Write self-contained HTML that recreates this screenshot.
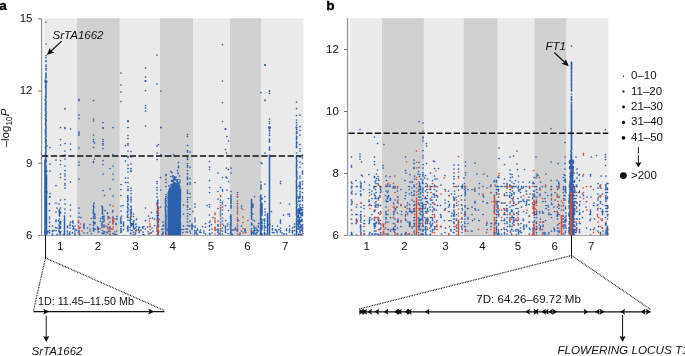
<!DOCTYPE html>
<html><head><meta charset="utf-8"><title>Figure</title>
<style>html,body{margin:0;padding:0;background:#fff}body{width:685px;height:356px;overflow:hidden}svg{will-change:transform;transform:translateZ(0)}</style>
</head><body>
<svg width="685" height="356" viewBox="0 0 685 356" style="display:block">
<rect width="685" height="356" fill="#fff"/>
<rect x="44.3" y="18.4" width="259.10" height="217.10" fill="#ebebeb"/>
<rect x="77" y="18.4" width="42.50" height="217.10" fill="#d1d1d1"/>
<rect x="160" y="18.4" width="33.00" height="217.10" fill="#d1d1d1"/>
<rect x="230" y="18.4" width="31.00" height="217.10" fill="#d1d1d1"/>
<rect x="350" y="18.25" width="258.25" height="217.25" fill="#ebebeb"/>
<rect x="382" y="18.25" width="41.75" height="217.25" fill="#d1d1d1"/>
<rect x="463.75" y="18.25" width="33.75" height="217.25" fill="#d1d1d1"/>
<rect x="534.5" y="18.25" width="31.75" height="217.25" fill="#d1d1d1"/>
<clipPath id="ca"><rect x="43" y="18" width="261" height="218"/></clipPath>
<clipPath id="cb"><rect x="349" y="18" width="260" height="218"/></clipPath>
<g clip-path="url(#ca)" fill="none" stroke-linecap="round">
<path stroke="#2b60ad" stroke-width="1.50" d="M174.1 200.9h0M172.4 196.5h0M168.1 212.1h0M175.2 203.8h0M170.1 205.1h0M177.2 215.9h0M179.8 217.6h0M169.0 198.7h0M175.3 225.9h0M173.4 230.4h0M168.9 203.1h0M171.2 192.2h0M170.1 201.6h0M173.0 198.4h0M175.6 198.7h0M177.2 234.8h0M175.6 230.5h0M172.3 196.3h0M170.4 219.6h0M179.6 201.3h0M172.1 209.4h0M176.6 205.1h0M168.7 220.1h0M172.2 213.4h0M175.5 191.1h0M179.7 216.7h0M180.4 224.1h0M172.1 194.7h0M170.0 195.0h0M178.3 209.7h0M174.8 220.3h0M175.6 205.2h0M177.3 225.7h0M177.8 204.0h0M177.7 202.9h0M174.6 233.8h0M169.7 220.8h0M177.8 207.6h0M180.5 196.6h0M168.4 197.3h0M168.8 199.6h0M179.8 208.6h0M169.9 233.0h0M170.0 191.7h0M177.8 213.8h0M176.0 204.2h0M178.1 232.1h0M169.4 224.7h0M168.8 230.5h0M168.8 217.1h0M173.2 218.5h0M170.8 201.9h0M171.3 199.9h0M177.6 220.2h0M171.8 216.6h0M170.0 230.4h0M179.0 228.6h0M171.6 204.9h0M174.1 221.7h0M175.5 211.1h0M175.3 231.1h0M172.5 226.3h0M178.9 236.3h0M171.7 190.1h0M169.4 232.6h0M169.9 224.8h0M169.2 195.8h0M172.3 232.7h0M177.0 190.1h0M171.0 226.7h0M176.7 200.4h0M173.4 195.1h0M168.3 231.1h0M169.5 213.9h0M169.7 222.4h0M169.9 224.8h0M174.3 212.9h0M179.6 207.3h0M170.7 223.8h0M171.4 198.9h0M171.3 214.2h0M173.1 216.1h0M172.6 220.0h0M174.9 215.7h0M176.7 222.9h0M173.0 205.1h0M173.3 207.6h0M173.2 197.1h0M180.6 233.2h0M171.2 218.9h0M172.7 196.1h0M178.6 226.7h0M179.4 205.4h0M176.1 215.6h0M172.0 225.0h0M178.8 214.6h0M175.5 219.2h0M177.4 208.3h0M177.0 218.4h0M176.5 204.9h0M175.9 218.4h0M171.3 232.4h0M174.0 212.3h0M170.8 196.8h0M179.7 215.0h0M178.2 202.1h0M170.2 220.3h0M178.4 231.6h0M178.9 228.8h0M178.3 196.8h0M169.9 208.0h0M178.1 214.7h0M173.7 236.4h0M176.8 211.0h0M174.0 196.9h0M176.6 206.4h0M174.6 206.1h0M172.8 190.5h0M170.5 199.5h0M177.0 203.4h0M172.1 195.1h0M176.0 229.7h0M170.5 218.7h0M172.7 191.9h0M173.6 203.2h0M173.1 219.9h0M178.2 217.3h0M179.7 200.1h0M180.2 221.8h0M172.2 193.2h0M177.5 213.2h0M179.4 225.5h0M168.3 212.6h0M178.6 209.9h0M174.0 212.6h0M174.4 228.3h0M176.4 192.6h0M176.6 215.6h0M177.7 201.2h0M169.0 228.4h0M169.3 216.6h0M168.7 222.3h0M177.0 222.3h0M173.3 217.4h0M180.6 198.5h0M172.2 213.5h0M168.1 204.0h0M171.9 202.6h0M178.8 209.9h0M168.6 205.9h0M178.9 202.8h0M170.5 192.0h0M174.8 212.5h0M175.4 206.7h0M178.1 216.2h0M168.6 204.9h0M174.7 204.5h0M171.4 227.1h0M171.7 217.8h0M173.7 233.4h0M173.6 210.3h0M176.1 192.6h0M178.9 198.8h0M179.6 216.8h0M178.1 221.3h0M171.7 200.7h0M178.6 199.7h0M169.3 194.9h0M177.9 220.7h0M171.2 232.2h0M176.6 222.5h0M168.5 229.3h0M171.7 205.5h0M175.1 196.3h0M179.5 198.1h0M178.1 235.6h0M172.9 219.6h0M170.8 216.0h0M169.2 210.4h0M176.6 195.7h0M178.4 236.3h0M179.8 214.8h0M171.7 213.1h0M179.7 195.1h0M174.1 214.9h0M169.1 197.8h0M171.4 200.2h0M179.7 192.5h0M175.5 233.9h0M176.3 192.8h0M172.2 224.5h0M170.3 227.0h0M171.8 194.2h0M174.9 226.6h0M175.5 214.0h0M169.2 221.0h0M169.7 208.3h0M176.4 197.8h0M170.1 229.3h0M179.0 213.2h0M169.9 195.6h0M174.3 214.5h0M169.5 215.7h0M174.4 207.3h0M170.5 196.9h0M171.0 230.7h0M174.3 233.9h0M174.2 226.9h0M175.2 224.9h0M169.9 203.3h0M168.4 205.1h0M179.2 195.1h0M175.3 226.5h0M177.0 192.3h0M171.1 190.7h0M175.8 221.7h0M178.3 211.7h0M179.6 191.1h0M179.8 195.5h0M171.1 224.3h0M176.6 196.7h0M170.5 200.9h0M172.2 226.2h0M174.0 213.1h0M177.8 219.5h0M170.5 219.3h0M178.7 223.8h0M172.4 197.9h0M180.2 197.9h0M178.4 233.6h0M179.4 227.7h0M175.4 209.3h0M178.4 204.7h0M180.1 214.9h0M179.9 226.7h0M171.2 228.9h0M170.9 201.9h0M174.2 232.2h0M176.6 226.6h0M178.0 221.8h0M179.9 195.9h0M176.2 228.8h0M172.3 226.7h0M168.1 213.9h0M168.2 210.4h0M175.6 210.8h0M172.2 229.4h0M175.8 203.3h0M169.1 211.9h0M176.3 227.3h0M169.5 228.7h0M170.3 203.8h0M180.1 231.6h0M175.7 231.6h0M173.0 212.4h0M180.5 201.2h0M178.5 190.9h0M170.2 234.0h0M173.7 206.5h0M169.3 216.5h0M178.9 233.2h0M179.3 221.7h0M169.0 234.6h0M172.6 220.7h0M176.0 221.3h0M179.4 213.8h0M172.6 228.9h0M176.6 216.3h0M173.6 224.0h0M177.4 190.3h0M172.1 231.4h0M169.8 217.3h0M175.3 224.6h0M176.1 203.3h0M177.6 210.1h0M180.3 220.7h0M178.1 234.8h0M176.9 222.1h0M171.5 228.5h0M178.0 206.2h0M169.8 197.4h0M177.3 198.6h0M171.9 207.9h0M180.2 234.8h0M170.4 199.9h0M172.0 209.5h0M169.4 209.4h0M180.1 203.5h0M170.6 229.0h0M176.0 226.2h0M172.0 211.8h0M175.0 220.8h0M177.5 232.7h0M174.7 203.0h0M175.9 192.4h0M178.4 216.2h0M172.5 201.3h0M168.9 216.6h0M177.5 227.7h0M169.4 205.2h0M176.1 221.9h0M177.8 208.9h0M179.8 209.8h0M178.2 206.5h0M170.3 214.7h0M176.4 231.9h0M169.7 210.4h0M174.3 229.6h0M176.4 216.5h0M171.5 229.4h0M177.9 221.6h0M177.5 213.6h0M179.3 228.3h0M176.2 230.8h0M169.7 219.2h0M171.5 192.7h0M175.6 200.0h0M170.8 195.1h0M176.5 205.9h0M176.8 193.9h0M178.6 219.9h0M169.7 204.4h0M168.7 227.8h0M168.5 228.9h0M169.4 207.3h0M172.2 216.1h0M170.7 229.3h0M178.2 215.3h0M168.4 215.0h0M173.3 193.3h0M175.9 208.8h0M174.5 216.9h0M170.9 227.2h0M180.1 205.2h0M180.4 197.7h0M173.7 221.7h0M176.9 198.7h0M173.1 203.4h0M170.4 211.4h0M170.5 222.8h0M170.5 223.1h0M180.3 225.1h0M179.9 223.7h0M168.8 201.2h0M168.2 220.1h0M171.3 206.5h0M170.1 203.9h0M168.6 198.4h0M172.5 210.7h0M169.3 196.1h0M169.9 236.1h0M179.5 227.2h0M174.0 195.3h0M175.1 213.6h0M170.6 232.4h0M176.9 234.0h0M180.4 208.5h0M178.2 229.3h0M169.7 217.8h0M172.8 191.1h0M178.5 193.3h0M179.2 215.2h0M168.9 231.4h0M174.1 219.4h0M170.6 208.8h0M169.3 217.5h0M169.6 218.0h0M176.0 222.7h0M173.5 191.4h0M173.9 208.5h0M176.5 220.4h0M176.7 211.9h0M169.8 193.8h0M171.0 235.9h0M170.9 228.3h0M176.0 224.3h0M168.5 227.4h0M168.5 193.5h0M171.0 221.5h0M179.7 220.5h0M179.6 193.1h0M177.5 195.3h0M180.3 228.0h0M170.1 214.5h0M169.3 232.8h0M168.0 229.7h0M175.0 218.8h0M175.5 227.0h0M169.0 204.5h0M173.0 190.6h0M177.4 227.5h0M173.8 195.9h0M176.2 195.5h0M180.3 216.1h0M172.4 229.4h0M178.7 195.4h0M172.6 197.0h0M175.6 235.5h0M177.7 196.0h0M176.7 218.2h0M174.6 218.1h0M176.2 232.6h0M177.2 229.0h0M177.0 189.9h0M176.6 230.8h0M170.3 233.9h0M173.6 204.2h0M172.4 205.1h0M169.2 220.2h0M179.7 225.8h0M178.5 202.6h0M171.1 210.0h0M168.3 233.1h0M172.1 225.5h0M177.8 214.6h0M169.3 228.6h0M172.0 215.1h0M180.2 199.1h0M174.7 233.6h0M173.1 232.4h0M176.7 200.2h0M171.6 232.3h0M168.2 236.1h0M170.2 210.4h0M176.7 225.1h0M171.1 201.7h0M168.3 204.3h0M180.2 220.6h0M175.4 222.2h0M171.8 192.8h0M168.8 198.1h0M169.4 214.2h0M180.2 226.3h0M170.2 195.6h0M171.8 210.5h0M177.2 194.5h0M179.7 192.6h0M178.4 200.3h0M178.8 203.8h0M168.1 200.2h0M179.4 217.8h0M176.3 197.8h0M169.8 207.5h0M176.2 216.0h0M170.8 229.9h0M169.6 234.9h0M172.6 226.8h0M171.2 207.5h0M174.6 227.0h0M171.6 208.1h0M177.6 201.1h0M172.8 207.0h0M176.1 190.7h0M176.4 228.9h0M171.0 195.6h0M173.8 223.2h0M169.2 199.4h0M170.9 210.8h0M169.5 212.6h0M179.8 216.7h0M168.9 217.3h0M179.0 234.8h0M178.8 214.2h0M171.0 197.7h0M178.9 203.7h0M179.6 212.5h0M177.2 204.7h0M170.6 221.2h0M172.6 211.5h0M170.3 190.1h0M176.2 212.1h0M177.3 215.5h0M170.9 220.3h0M169.8 227.8h0M179.9 208.7h0M179.4 198.3h0M170.9 193.4h0M170.7 191.9h0M173.5 224.9h0M175.3 233.7h0M173.1 234.1h0M170.9 212.9h0M174.4 236.1h0M175.8 200.2h0M178.5 211.4h0M170.9 234.6h0M172.1 221.1h0M168.3 209.1h0M170.0 219.1h0M171.2 211.9h0M175.1 201.5h0M169.5 234.7h0M169.9 217.6h0M179.2 193.6h0M171.0 211.5h0M173.2 231.2h0M176.3 201.7h0M179.9 209.1h0M168.7 193.3h0M171.6 204.1h0M180.2 215.5h0M178.7 227.7h0M176.2 201.4h0M176.3 217.5h0M178.1 198.2h0M169.0 231.8h0M175.2 201.7h0M171.0 206.9h0M174.6 224.5h0M175.9 212.0h0M176.5 212.5h0M176.5 223.2h0M176.2 226.4h0M170.9 209.4h0M180.1 234.8h0M179.3 201.6h0M177.3 225.7h0M169.6 201.1h0M170.7 197.8h0M173.1 209.8h0M169.0 217.0h0M172.5 222.6h0M173.5 190.8h0M176.5 197.1h0M172.7 228.7h0M176.1 219.6h0M176.9 225.7h0M171.8 202.6h0M178.4 230.7h0M175.4 198.6h0M168.2 203.7h0M168.9 192.7h0M170.2 202.2h0M171.3 223.4h0M180.4 233.6h0M180.2 199.2h0M172.2 209.4h0M174.0 202.3h0M168.7 196.4h0M175.9 222.5h0M171.3 206.5h0M174.2 197.7h0M179.7 198.9h0M176.7 208.4h0M177.0 227.4h0M169.2 217.5h0M170.4 227.1h0M170.9 193.9h0M176.4 199.1h0M175.3 195.3h0M176.0 210.0h0M174.7 223.6h0M168.4 205.7h0M176.1 222.1h0M175.7 204.4h0M176.3 202.3h0M170.0 228.8h0M177.0 234.5h0M178.0 223.8h0M168.7 219.1h0M169.1 198.2h0M179.7 231.0h0M173.8 213.7h0M174.6 206.8h0M177.0 194.0h0M168.9 209.5h0M174.1 200.7h0M172.0 211.8h0M177.0 211.2h0M179.7 233.5h0M175.8 219.5h0M171.5 192.2h0M180.4 212.9h0M175.8 204.1h0M168.9 212.0h0M169.1 208.7h0M169.2 205.0h0M177.7 197.3h0M169.3 215.6h0M178.5 199.0h0M170.2 207.0h0M169.6 202.2h0M180.2 225.0h0M179.2 232.2h0M174.0 202.7h0M173.9 223.3h0M177.2 234.6h0M169.3 228.2h0M172.3 212.3h0M180.5 198.7h0M178.8 225.0h0M172.3 198.9h0M173.3 216.6h0M168.1 225.8h0M175.6 204.0h0M178.7 228.1h0M171.4 206.8h0M172.8 195.0h0M170.9 219.8h0M179.2 225.5h0M171.1 236.1h0M177.2 225.1h0M178.2 208.6h0M178.6 196.2h0M174.8 205.6h0M178.6 229.4h0M179.1 224.7h0M176.5 219.9h0M168.6 212.3h0M172.3 226.4h0M177.9 206.4h0M171.1 195.4h0M172.1 199.7h0M168.9 195.5h0M177.3 209.1h0M178.1 234.4h0M171.9 211.5h0M179.3 224.2h0M171.9 194.9h0M175.4 228.5h0M174.5 230.9h0M176.4 200.2h0M172.6 222.0h0M169.6 232.5h0M168.4 224.0h0M173.4 194.2h0M174.6 206.3h0M170.8 224.6h0M178.1 236.2h0M173.5 206.6h0M176.9 204.2h0M172.1 224.2h0M170.4 221.3h0M169.8 234.6h0M180.6 199.4h0M179.5 216.3h0M177.6 233.0h0M170.6 192.0h0M174.3 234.3h0M174.4 233.3h0M175.1 227.3h0M173.3 217.7h0M171.3 214.4h0M173.9 193.7h0M168.1 225.4h0M171.0 201.8h0M174.5 232.0h0M170.5 217.4h0M177.1 223.3h0M171.4 228.9h0M179.7 210.4h0M169.1 194.9h0M178.0 212.0h0M176.0 236.4h0M172.2 199.9h0M170.0 209.8h0M175.8 200.5h0M169.1 200.7h0M172.0 212.5h0M173.5 235.3h0M174.1 198.6h0M175.5 196.8h0M170.1 235.0h0M173.1 206.4h0M173.4 207.9h0M169.9 230.3h0M175.2 223.4h0M172.5 219.6h0M179.6 204.8h0M175.0 220.7h0M177.3 207.3h0M178.7 227.1h0M175.4 233.9h0M174.9 208.4h0M170.3 227.2h0M168.3 206.1h0M174.0 231.6h0M172.4 215.1h0M179.7 206.5h0M172.9 218.2h0M177.9 208.8h0M172.6 232.4h0M174.8 228.3h0M170.0 222.4h0M168.3 228.1h0M169.9 202.0h0M168.7 224.3h0M179.5 234.1h0M174.9 233.0h0M173.5 199.3h0M177.4 194.7h0M179.0 225.3h0M175.5 192.8h0M169.6 193.3h0M176.9 198.0h0M170.3 218.9h0M176.5 235.5h0M173.5 208.4h0M171.2 236.3h0M176.9 196.2h0M170.3 224.6h0M168.7 215.6h0M176.6 226.7h0M175.3 211.1h0M179.1 209.1h0M179.9 230.2h0M179.5 199.6h0M172.8 222.3h0M168.1 215.3h0M168.1 227.4h0M173.2 223.8h0M173.2 234.6h0M180.0 205.5h0M172.7 202.6h0M179.4 228.5h0M180.5 222.3h0M172.0 218.8h0M170.0 230.1h0M174.2 193.9h0M179.7 225.1h0M169.9 232.4h0M175.4 209.3h0M179.8 195.4h0M171.5 195.5h0M179.0 202.1h0M177.2 220.3h0M169.2 200.5h0M176.2 203.4h0M172.7 236.4h0M173.4 216.3h0M178.2 230.4h0M173.1 234.1h0M174.0 195.9h0M176.6 192.0h0M180.5 197.0h0M176.0 207.6h0M171.1 212.9h0M169.1 230.0h0M179.3 212.3h0M177.1 224.1h0M172.3 196.5h0M178.3 196.7h0M170.3 198.3h0M179.7 213.3h0M177.9 201.4h0M179.4 218.4h0M180.2 216.0h0M178.8 210.7h0M169.2 222.0h0M177.4 200.8h0M173.8 232.9h0M170.0 221.6h0M175.0 196.3h0M173.9 213.0h0M171.4 225.5h0M175.4 197.1h0M179.2 235.6h0M169.8 217.1h0M180.2 205.7h0M168.4 201.3h0M169.6 217.1h0M179.9 222.2h0M172.6 214.9h0M178.9 221.6h0M172.5 235.1h0M171.1 235.3h0M168.8 200.7h0M174.4 195.9h0M178.5 233.2h0M180.5 222.0h0M177.0 210.2h0M180.2 206.5h0M175.2 231.9h0M175.4 228.4h0M168.2 229.2h0M169.3 233.5h0M171.4 205.2h0M180.2 209.9h0M176.8 235.6h0M169.4 225.1h0M171.4 221.0h0M180.0 236.2h0M180.5 199.0h0M177.1 215.6h0M172.5 196.7h0M170.0 198.3h0M175.4 213.5h0M175.2 216.0h0M173.2 193.1h0M173.3 201.5h0M177.5 202.1h0M169.2 212.4h0M172.9 200.1h0M176.4 228.7h0M173.7 217.2h0M170.3 195.0h0M169.0 221.1h0M173.3 204.5h0M174.5 196.9h0M171.8 205.6h0M179.5 199.3h0M168.6 197.3h0M178.7 219.6h0M168.7 214.8h0M172.2 223.2h0M174.4 197.2h0M176.4 193.5h0M179.4 191.7h0M170.8 195.0h0M176.7 236.2h0M172.2 201.0h0M173.0 221.7h0M173.4 215.4h0M180.5 233.0h0M169.3 200.0h0M176.4 213.4h0M178.2 228.0h0M174.0 194.7h0M174.1 222.2h0M175.3 235.4h0M168.6 197.6h0M172.1 191.5h0M175.3 222.4h0M172.6 223.0h0M171.5 190.2h0M169.2 224.5h0M178.9 230.7h0M177.0 195.8h0M172.8 192.7h0M172.5 230.8h0M180.6 227.0h0M178.9 217.2h0M180.2 216.7h0M170.5 213.9h0M174.1 213.7h0M175.4 200.0h0M171.5 209.4h0M176.4 199.2h0M174.7 222.8h0M177.8 213.7h0M171.1 207.6h0M171.7 209.0h0M176.9 224.1h0M170.7 211.3h0M172.5 225.2h0M177.2 199.7h0M170.9 221.8h0M176.0 221.9h0M171.4 191.8h0M180.1 215.5h0M176.4 199.6h0M172.2 195.5h0M178.0 208.0h0M171.4 212.6h0M177.0 230.2h0M173.5 209.1h0M172.0 197.6h0M171.5 233.0h0M178.7 231.5h0M173.4 197.8h0M177.7 232.1h0M173.5 208.6h0M175.5 208.5h0M172.8 191.0h0M172.7 221.8h0M175.9 198.4h0M168.3 205.5h0M170.5 229.8h0M179.5 217.6h0M172.1 191.2h0M172.1 213.7h0M169.5 200.8h0M171.9 232.0h0M169.5 235.9h0M171.0 217.7h0M172.8 191.8h0M178.0 226.3h0M174.0 235.9h0M168.7 220.0h0M177.8 229.3h0M174.9 193.9h0M171.3 225.0h0M173.5 211.5h0M170.7 191.8h0M169.2 211.1h0M174.4 203.4h0M176.8 195.8h0M174.4 213.0h0M172.7 230.8h0M172.5 205.8h0M175.7 193.7h0M180.0 208.6h0M169.4 206.4h0M172.1 229.3h0M172.3 205.7h0M173.1 196.9h0M176.3 208.9h0M170.9 226.8h0M173.8 224.1h0M168.4 202.0h0M180.1 214.1h0M174.0 198.3h0M170.2 202.7h0M176.1 195.7h0M175.7 204.6h0M174.9 195.6h0M174.1 204.4h0M176.6 215.6h0M175.8 200.6h0M173.6 228.4h0M175.1 211.1h0M180.2 228.5h0M176.2 191.0h0M179.8 235.2h0M177.2 198.9h0M178.4 213.9h0M168.2 229.0h0M176.7 214.8h0M178.9 206.5h0M168.3 206.2h0M168.8 196.8h0M170.0 204.6h0M171.5 230.3h0M180.5 211.4h0M178.0 227.9h0M177.2 199.3h0M169.2 219.0h0M178.9 197.7h0M176.8 210.6h0M170.5 234.5h0M171.5 202.4h0M176.8 207.6h0M170.8 207.8h0M174.4 212.1h0M168.3 231.1h0M172.5 198.9h0M172.4 209.3h0M174.6 196.1h0M179.6 226.8h0M170.5 224.0h0M172.5 203.3h0M176.0 212.5h0M172.7 210.4h0M168.0 227.8h0M171.2 218.2h0M175.9 195.2h0M177.8 226.7h0M176.5 227.6h0M173.5 198.2h0M169.3 209.1h0M174.4 230.3h0M172.9 197.0h0M170.3 212.7h0M174.8 210.5h0M174.3 233.3h0M170.5 193.3h0M177.7 200.1h0M177.8 204.7h0M177.2 220.4h0M172.7 211.9h0M168.8 198.6h0M174.9 223.8h0M169.3 193.6h0M171.1 193.4h0M171.2 201.8h0M171.8 211.7h0M172.7 195.6h0M170.8 190.2h0M172.1 226.2h0M180.5 201.2h0M168.5 233.5h0M172.9 204.2h0M168.9 211.3h0M173.5 225.8h0M178.5 209.5h0M179.2 210.2h0M176.3 216.5h0M171.1 216.4h0M178.9 231.1h0M180.3 192.9h0M175.9 211.4h0M169.7 204.4h0M177.0 220.2h0M176.3 220.6h0M168.3 218.7h0M172.2 196.5h0M176.4 204.4h0M174.9 227.3h0M169.5 233.7h0M168.3 224.4h0M172.6 213.5h0M173.2 195.3h0M174.6 207.5h0M173.5 198.8h0M180.2 229.1h0M173.0 224.9h0M171.5 211.4h0M179.0 200.9h0M173.6 197.5h0M174.5 209.5h0M179.8 216.9h0M173.2 191.7h0M173.6 217.1h0M177.0 193.3h0M179.6 223.8h0M168.2 209.1h0M169.6 198.9h0M170.8 195.3h0M169.1 198.3h0M178.3 209.5h0M171.2 193.4h0M177.4 193.5h0M179.9 230.3h0M169.3 194.6h0M176.7 202.4h0M174.3 198.3h0M173.5 204.1h0M171.5 219.8h0M169.1 202.4h0M169.4 214.2h0M174.3 209.3h0M179.2 203.5h0M180.4 233.9h0M171.2 227.7h0M175.7 219.9h0M178.2 214.9h0M169.0 203.8h0M175.8 199.1h0M173.8 220.9h0M169.3 213.2h0M176.2 199.4h0M180.1 209.6h0M173.4 224.3h0M176.2 208.4h0M175.2 234.1h0M180.2 226.7h0M180.5 201.8h0M177.4 223.4h0M179.8 203.4h0M177.9 211.7h0M171.9 229.1h0M178.6 221.2h0M170.1 200.8h0M172.2 194.5h0M170.0 229.7h0M172.1 229.5h0M171.8 191.6h0M173.5 207.3h0M168.2 192.7h0M180.1 202.0h0M171.2 223.3h0M175.3 213.7h0M171.1 207.8h0M180.5 231.2h0M169.6 223.7h0M178.2 222.7h0M174.9 215.2h0M171.3 209.0h0M170.4 226.6h0M175.9 217.5h0M179.6 206.4h0M179.7 207.9h0M169.3 233.4h0M176.1 220.5h0M179.8 212.7h0M177.6 204.7h0M169.4 202.2h0M176.6 231.4h0M169.6 206.5h0M180.0 236.4h0M173.6 198.2h0M180.2 199.1h0M169.0 213.7h0M173.2 234.4h0M173.2 217.0h0M171.0 204.1h0M174.2 213.1h0M172.1 218.2h0M180.6 193.3h0M169.2 194.1h0M173.3 234.9h0M178.5 217.3h0M175.3 201.7h0M175.8 193.5h0M174.8 208.5h0M169.3 224.4h0M178.1 218.3h0M179.0 235.9h0M177.6 220.5h0M171.5 232.8h0M178.4 217.2h0M172.8 203.9h0M177.6 215.4h0M179.7 217.1h0M179.5 190.3h0M173.8 215.3h0M177.2 211.9h0M176.0 215.0h0M176.9 205.4h0M179.0 194.6h0M178.0 227.2h0M171.0 208.5h0M170.9 218.6h0M172.1 217.1h0M180.0 203.1h0M174.5 206.5h0M172.4 216.3h0M177.8 233.5h0M168.2 233.7h0M170.1 229.2h0M173.0 191.2h0M172.2 197.4h0M169.7 217.7h0M169.5 227.4h0M174.4 228.0h0M170.7 233.7h0M178.2 230.5h0M178.4 196.0h0M177.7 228.9h0M180.4 206.1h0M178.5 222.0h0M176.6 229.5h0M175.1 215.4h0M169.7 230.2h0M179.2 222.0h0M169.5 226.3h0M177.7 203.9h0M177.7 212.1h0M178.3 207.1h0M179.1 198.8h0M168.9 222.0h0M169.1 203.2h0M176.4 210.8h0M168.4 207.4h0M171.0 226.7h0M174.7 222.1h0M169.6 204.3h0M177.3 200.3h0M172.1 219.9h0M174.1 206.5h0M179.6 216.9h0M178.9 203.0h0M171.3 225.8h0M170.0 210.8h0M180.5 229.3h0M179.2 208.7h0M169.6 233.0h0M176.3 203.8h0M174.5 211.9h0M179.5 232.2h0M179.7 195.9h0M179.6 220.5h0M179.0 190.0h0M178.7 228.1h0M172.7 225.1h0M173.9 209.0h0M170.5 195.3h0M180.3 201.1h0M172.7 231.3h0M179.9 220.1h0M172.6 214.4h0M175.3 210.9h0M180.4 210.6h0M170.2 233.8h0M175.4 201.1h0M172.0 213.3h0M173.6 198.9h0M168.7 199.8h0M172.4 201.3h0M177.8 209.9h0M174.8 193.2h0M176.4 222.3h0M172.8 203.2h0M168.8 216.5h0M176.2 213.0h0M168.4 225.0h0M175.9 201.1h0M170.3 199.0h0M178.3 206.0h0M178.2 218.1h0M176.2 198.5h0M180.3 221.9h0M174.7 205.6h0M170.9 229.4h0M168.2 226.6h0M177.1 204.1h0M170.9 224.0h0M172.4 225.4h0M175.2 207.1h0M180.4 190.2h0M179.1 208.4h0M177.7 205.3h0M170.6 225.5h0M174.2 190.8h0M177.7 191.0h0M171.3 221.0h0M177.6 224.2h0M176.4 199.4h0M174.7 198.3h0M171.9 205.9h0M169.2 217.5h0M170.2 224.1h0M169.5 196.7h0M171.2 214.3h0M171.4 202.6h0M177.4 222.1h0M175.1 234.5h0M168.2 205.7h0M172.0 231.8h0M168.3 229.2h0M171.9 201.6h0M170.7 196.7h0M172.6 201.8h0M175.3 210.8h0M171.8 223.4h0M172.3 232.7h0M178.0 205.4h0M169.7 231.4h0M175.7 231.1h0M168.4 223.1h0M171.0 205.9h0M174.3 220.9h0M170.4 235.7h0M170.4 223.4h0M168.5 199.5h0M174.7 198.0h0M178.0 230.0h0M169.6 201.2h0M177.6 204.7h0M173.0 234.5h0M172.3 198.1h0M174.9 233.8h0M169.5 225.2h0M175.6 193.7h0M180.1 223.9h0M172.0 221.8h0M173.2 233.4h0M172.8 227.4h0M173.9 215.4h0M168.3 213.9h0M169.0 210.7h0M180.3 234.1h0M180.1 224.1h0M175.6 190.4h0M179.6 228.1h0M171.5 192.0h0M179.6 198.4h0M180.5 225.1h0M170.6 221.0h0M175.3 194.8h0M173.2 209.8h0M168.7 236.4h0M169.3 224.1h0M168.5 223.1h0M174.2 213.7h0M178.1 197.4h0M179.0 202.0h0M173.8 220.1h0M175.2 213.6h0M180.5 201.6h0M168.2 198.3h0M173.3 191.4h0M179.6 222.4h0M177.2 225.5h0M171.8 216.3h0M175.5 226.0h0M170.1 227.6h0M180.3 196.4h0M170.6 224.7h0M176.2 226.1h0M174.5 219.4h0M176.3 217.3h0M174.2 196.4h0M173.4 209.1h0M173.4 207.9h0M173.4 207.4h0M180.2 224.3h0M173.0 211.2h0M175.5 190.7h0M179.0 233.7h0M171.6 192.9h0M179.2 229.2h0M171.0 227.3h0M173.9 207.2h0M170.9 230.0h0M169.4 217.7h0M180.4 199.0h0M168.8 224.5h0M168.9 213.2h0M179.2 233.4h0M175.8 209.2h0M171.1 233.2h0M177.2 206.2h0M175.2 205.1h0M173.5 223.6h0M172.2 233.9h0M180.0 196.8h0M173.2 218.7h0M176.0 196.2h0M175.1 198.2h0M171.9 213.6h0M171.2 217.1h0M171.5 203.0h0M173.5 232.2h0M170.1 201.4h0M172.2 208.6h0M177.6 208.5h0M177.8 232.0h0M173.4 235.5h0M174.6 221.7h0M172.8 231.2h0M172.5 222.6h0M173.8 198.0h0M172.2 222.0h0M174.8 209.4h0M168.9 204.2h0M170.7 205.9h0M171.1 203.6h0M171.5 226.7h0M176.8 231.1h0M176.2 198.0h0M171.3 215.1h0M178.4 201.7h0M180.4 225.6h0M172.3 200.2h0M178.7 196.2h0M176.2 203.2h0M169.3 199.8h0M178.2 221.6h0M171.6 203.4h0M169.1 219.4h0M172.4 199.4h0M173.5 197.5h0M175.9 220.6h0M174.4 194.7h0M170.2 201.1h0M174.5 223.5h0M179.3 212.8h0M168.5 206.8h0M169.8 218.8h0M177.9 229.7h0M176.7 195.2h0M176.6 197.7h0M176.3 204.5h0M169.7 197.4h0M172.9 215.5h0M175.0 192.9h0M172.2 233.4h0M178.9 215.0h0M177.9 216.8h0M169.5 231.0h0M172.1 209.2h0M174.8 226.8h0M178.0 231.0h0M172.0 222.2h0M172.7 205.4h0M169.9 228.0h0M172.3 204.8h0M174.5 206.7h0M176.7 207.8h0M178.9 208.0h0M171.4 231.1h0M178.1 200.1h0M180.1 194.0h0M178.2 215.1h0M173.2 216.1h0M169.1 198.4h0M176.5 220.0h0M178.2 192.9h0M168.1 201.6h0M177.8 225.9h0M170.0 215.0h0M179.3 213.4h0M171.5 234.7h0M177.9 224.3h0M174.1 227.0h0M172.6 210.7h0M175.1 227.3h0M174.7 231.8h0M177.0 213.2h0M178.7 223.5h0M178.4 207.8h0M180.5 198.2h0M169.0 217.6h0M172.1 194.5h0M179.5 229.1h0M175.0 217.8h0M172.4 235.4h0M180.0 195.7h0M169.6 206.2h0M169.6 228.7h0M180.1 201.1h0M170.8 193.3h0M174.7 204.2h0M176.5 203.5h0M177.3 222.2h0M177.0 203.1h0M168.5 213.2h0M175.8 230.8h0M178.8 227.9h0M174.2 224.3h0M180.4 197.0h0M168.1 218.9h0M169.4 229.5h0M172.3 204.2h0M170.2 235.0h0M175.4 215.4h0M177.2 235.8h0M179.8 236.4h0M174.7 234.5h0M171.2 201.2h0M175.1 206.8h0M175.3 230.5h0M171.2 228.2h0M168.2 202.5h0M172.6 216.8h0M171.0 195.4h0M179.6 194.0h0M176.8 194.1h0M180.6 227.7h0M173.8 233.1h0M174.7 200.9h0M174.5 220.7h0M178.6 209.9h0M175.0 229.9h0M168.3 216.2h0M175.2 209.8h0M170.3 209.0h0M175.5 194.7h0M177.0 196.9h0M171.2 231.1h0M170.2 190.0h0M177.5 191.1h0M173.4 201.0h0M175.4 193.2h0M176.8 195.7h0M170.8 204.0h0M172.0 212.0h0M170.0 205.5h0M178.0 198.9h0M169.3 232.8h0M169.3 225.1h0M176.4 218.6h0M177.6 212.4h0M174.0 209.6h0M170.3 211.8h0M174.9 214.7h0M172.1 199.3h0M175.9 222.3h0M180.6 209.5h0M179.8 230.4h0M170.6 206.8h0M180.4 213.2h0M177.4 219.6h0M179.7 195.6h0M168.5 211.8h0M168.3 200.7h0M178.8 210.2h0M180.1 216.0h0M171.3 226.3h0M168.1 231.4h0M174.3 191.2h0M171.8 194.6h0M177.8 208.1h0M174.6 236.1h0M179.6 232.8h0M177.3 192.5h0M178.5 221.6h0M175.9 232.8h0M174.7 190.6h0M172.3 235.5h0M179.4 228.2h0M168.1 224.6h0M178.2 227.0h0M178.0 195.5h0M178.6 228.8h0M174.5 195.8h0M172.1 188.8h0M180.4 227.5h0M175.3 235.9h0M177.8 192.5h0M177.5 200.4h0M172.1 191.9h0M173.5 193.9h0M180.6 214.8h0M177.7 206.5h0M173.2 231.3h0M171.9 229.3h0M177.3 216.4h0M169.0 196.6h0M171.9 223.6h0M177.2 218.9h0M170.6 219.3h0M170.9 216.0h0M173.0 230.3h0M176.0 233.4h0M170.2 194.5h0M171.8 215.0h0M174.1 219.4h0M175.4 226.5h0M172.6 226.3h0M169.6 197.3h0M170.8 192.2h0M174.2 190.3h0M171.3 190.9h0M171.3 202.0h0M172.1 205.1h0M168.2 229.4h0M177.3 201.6h0M179.3 212.5h0M170.6 196.3h0M174.3 215.3h0M169.5 221.9h0M175.9 218.5h0M172.8 229.0h0M178.9 232.3h0M169.0 207.9h0M170.5 230.1h0M178.3 233.6h0M171.3 216.9h0M176.5 195.3h0M178.0 198.8h0M169.7 220.4h0M174.6 229.5h0M177.5 198.5h0M171.0 196.9h0M169.0 221.0h0M169.1 200.7h0M175.5 194.6h0M175.1 218.1h0M169.0 218.5h0M174.7 205.6h0M179.9 215.9h0M178.6 235.9h0M177.7 219.5h0M180.1 235.2h0M177.6 210.9h0M170.9 226.4h0M170.8 210.6h0M176.9 223.6h0M180.5 202.9h0M176.4 213.4h0M179.8 192.7h0M173.9 214.8h0M171.9 193.3h0M170.2 211.3h0M172.4 207.7h0M169.7 193.1h0M175.0 206.1h0M172.0 224.7h0M174.2 196.6h0M170.6 208.2h0M173.0 209.5h0M175.3 234.7h0M176.1 204.8h0M168.5 234.6h0M174.7 224.7h0M172.7 220.1h0M171.6 203.0h0M179.3 201.6h0M171.4 193.6h0M170.7 227.3h0M168.9 223.4h0M178.0 195.8h0M179.2 212.3h0M179.2 212.4h0M171.2 192.9h0M170.1 230.8h0M175.2 212.4h0M173.9 195.0h0M171.3 213.5h0M175.7 230.0h0M180.0 230.8h0M170.1 202.6h0M169.7 211.8h0M173.9 196.9h0M177.0 228.8h0M179.8 233.1h0M180.4 211.9h0M171.2 224.8h0M179.4 235.0h0M179.2 211.5h0M169.3 226.8h0M170.3 204.1h0M180.4 195.6h0M177.5 210.3h0M179.7 202.1h0M168.6 194.6h0M169.0 206.7h0M177.0 190.6h0M174.5 217.0h0M173.6 205.5h0M178.5 196.2h0M168.7 204.1h0M176.0 229.9h0M169.6 227.2h0M177.6 216.8h0M169.5 201.4h0M169.6 230.0h0M168.1 192.8h0M180.3 230.7h0M169.4 227.2h0M179.3 190.9h0M175.6 218.5h0M177.7 200.9h0M176.2 194.3h0M169.3 216.6h0M172.5 234.8h0M175.3 229.8h0M172.6 209.8h0M175.3 197.5h0M175.3 205.2h0M174.0 213.8h0M172.0 218.2h0M178.3 203.4h0M171.2 214.2h0M174.7 213.3h0M172.5 200.9h0M178.5 201.1h0M168.9 219.8h0M168.3 207.1h0M173.6 221.5h0M170.0 221.9h0M175.4 193.9h0M170.7 220.4h0M175.2 233.0h0M175.0 213.7h0M171.5 211.9h0M179.8 208.0h0M170.5 219.7h0M174.4 224.9h0M169.1 193.7h0M176.8 213.0h0M168.5 212.2h0M178.5 197.0h0M179.4 216.3h0M170.1 230.4h0M176.1 227.2h0M169.1 206.3h0M169.8 230.5h0M176.9 216.1h0M180.0 219.7h0M179.0 199.1h0M172.2 197.0h0M173.8 219.7h0M179.4 226.1h0M169.0 233.6h0M174.2 193.2h0M176.9 214.8h0M179.4 212.5h0M172.1 211.4h0M171.5 209.4h0M177.0 213.0h0M176.3 193.1h0M171.4 226.0h0M171.9 194.9h0M174.1 191.4h0M176.9 218.6h0M174.1 198.3h0M176.8 195.7h0M171.9 213.9h0M176.9 212.8h0M172.8 206.7h0M168.5 236.3h0M179.4 230.0h0M171.6 227.6h0M176.2 201.8h0M178.5 215.5h0M177.5 209.5h0M172.6 193.6h0M179.0 216.0h0M179.1 194.0h0M172.5 213.3h0M171.3 200.4h0M176.4 231.9h0M180.2 203.2h0M174.5 193.1h0M174.3 234.5h0M177.6 233.4h0M168.7 229.6h0M178.8 219.8h0M172.9 209.5h0M175.7 231.4h0M172.1 191.0h0M177.8 193.7h0M169.0 231.9h0M172.6 197.2h0M176.0 193.0h0M175.1 225.4h0M180.2 228.8h0M178.0 215.3h0M178.4 227.7h0M175.9 205.9h0M172.1 230.0h0M177.8 193.1h0M168.8 204.7h0M169.0 209.1h0M178.8 215.5h0M175.9 234.5h0M171.5 214.8h0M174.0 213.6h0M178.1 210.6h0M168.7 231.4h0M168.6 221.2h0M169.8 225.7h0M173.5 209.1h0M173.1 234.3h0M170.4 197.7h0M174.9 191.2h0M176.5 206.5h0M179.7 206.2h0M174.7 202.5h0M176.4 203.0h0M173.8 215.7h0M177.1 194.2h0M169.4 198.1h0M170.3 206.6h0M179.4 201.4h0M171.1 222.1h0M175.3 201.6h0M178.2 218.6h0M176.3 210.3h0M169.2 207.9h0M176.1 192.7h0M177.8 207.6h0M174.5 201.5h0M170.6 213.9h0M180.0 234.8h0M179.0 191.0h0M169.6 235.4h0M179.0 210.7h0M173.4 196.4h0M174.9 230.5h0M175.2 230.7h0M171.7 228.7h0M170.6 220.6h0M175.0 212.8h0M174.6 228.1h0M170.6 227.6h0M170.9 219.7h0M168.4 213.9h0M169.4 212.8h0M179.9 210.3h0M174.4 191.6h0M179.1 204.0h0M170.4 233.5h0M178.6 216.0h0M170.5 192.2h0M177.3 191.1h0M168.3 199.3h0M176.2 220.0h0M174.6 188.7h0M180.1 192.3h0M178.5 212.9h0M170.7 217.6h0M170.8 223.0h0M170.2 223.5h0M180.0 204.5h0M176.6 228.2h0M177.6 217.8h0M171.3 234.1h0M172.3 228.1h0M176.6 211.0h0M173.0 226.8h0M176.2 189.9h0M168.2 213.1h0M169.2 231.3h0M170.8 197.3h0M177.5 218.0h0M175.0 234.1h0M174.4 208.7h0M176.7 195.7h0M176.7 214.8h0M172.5 194.5h0M169.2 230.3h0M170.3 225.2h0M178.2 198.0h0M172.2 214.2h0M177.2 230.3h0M172.9 209.8h0M170.8 206.7h0M176.3 213.2h0M168.1 216.5h0M180.1 201.6h0M168.8 230.0h0M174.5 191.8h0M171.4 204.6h0M179.4 211.9h0M170.9 214.7h0M176.2 194.5h0M174.9 218.6h0M179.5 218.4h0M170.3 227.9h0M168.8 210.1h0M171.6 215.5h0M177.4 225.7h0M171.5 212.3h0M174.7 220.9h0M170.1 205.7h0M178.7 235.8h0M172.6 234.4h0M170.5 193.3h0M177.6 190.5h0M169.6 207.1h0M169.1 224.8h0M174.2 234.9h0M178.6 231.7h0M175.1 213.6h0M170.1 200.5h0M175.7 205.0h0M177.7 193.4h0M178.7 214.0h0M176.0 209.2h0M177.1 216.8h0M169.8 192.4h0M176.0 214.8h0M177.0 212.3h0M177.4 193.4h0M174.4 202.4h0M170.6 200.9h0M179.3 224.3h0M171.4 215.5h0M168.1 196.9h0M174.5 212.9h0M176.5 219.0h0M168.9 228.1h0M179.1 230.2h0M179.1 193.5h0M178.5 222.5h0M173.9 231.8h0M178.1 216.0h0M177.3 221.5h0M173.0 199.5h0M171.3 229.5h0M178.7 214.3h0M175.2 220.6h0M168.1 199.9h0M173.9 193.1h0M171.2 227.4h0M178.1 230.5h0M171.2 211.1h0M180.0 216.3h0M176.6 202.8h0M169.3 228.8h0M171.1 198.7h0M177.0 205.1h0M174.6 226.3h0M175.3 222.0h0M172.3 224.5h0M175.1 196.1h0M171.0 193.3h0M173.7 196.7h0M179.2 227.1h0M172.0 215.0h0M180.5 235.4h0M171.3 234.4h0M171.9 220.4h0M179.1 222.5h0M170.3 213.6h0M178.7 196.5h0M175.5 221.3h0M168.8 212.7h0M171.4 211.4h0M174.8 217.3h0M179.2 200.2h0M169.4 229.7h0M179.6 232.2h0M178.9 235.5h0M180.5 203.8h0M174.3 190.8h0M171.2 196.9h0M169.6 206.8h0M169.1 227.6h0M179.1 193.6h0M178.1 204.3h0M178.3 193.9h0M168.6 232.8h0M177.5 193.1h0M169.2 221.7h0M176.5 201.0h0M174.0 219.3h0M176.7 218.3h0M168.8 214.6h0M175.4 212.5h0M177.5 214.1h0M170.7 191.7h0M174.6 199.1h0M174.4 216.8h0M175.3 221.7h0M179.1 214.8h0M177.9 202.9h0M172.0 206.8h0M174.2 224.0h0M172.7 221.6h0M179.7 234.6h0M172.7 230.7h0M178.1 227.7h0M173.2 206.3h0M173.8 232.6h0M177.7 197.1h0M172.7 205.8h0M170.2 213.2h0M169.7 202.7h0M176.6 205.1h0M168.3 231.1h0M171.7 201.9h0M176.8 220.0h0M174.9 190.5h0M171.6 195.2h0M175.5 192.7h0M180.2 225.5h0M170.3 201.0h0M168.5 200.9h0M170.2 232.9h0M177.9 198.0h0M169.8 207.2h0M178.1 215.2h0M178.1 205.8h0M168.5 214.3h0M177.6 199.3h0M171.5 222.9h0M170.0 223.7h0M168.5 226.1h0M177.1 222.1h0M170.5 222.4h0M168.1 229.5h0M179.3 220.7h0M179.7 220.7h0M174.5 191.9h0M174.9 208.7h0M172.2 204.7h0M177.4 231.2h0M173.8 214.1h0M177.4 226.5h0M172.9 218.0h0M176.2 204.8h0M169.4 231.5h0M176.4 225.2h0M175.2 236.3h0M175.3 217.7h0M170.4 223.9h0M176.4 201.7h0M174.1 232.3h0M169.1 226.3h0M168.2 195.6h0M173.3 220.9h0M178.9 227.1h0M169.5 231.7h0M179.8 198.5h0M170.8 210.0h0M176.9 234.3h0M173.4 220.6h0M168.0 199.0h0M178.2 196.6h0M171.8 191.1h0M169.4 222.2h0M173.1 207.0h0M180.6 194.4h0M170.3 234.7h0M177.8 195.8h0M174.8 222.4h0M175.6 200.5h0M173.5 216.0h0M169.1 211.0h0M180.4 225.5h0M178.2 224.4h0M172.8 218.9h0M168.2 201.0h0M170.2 191.8h0M179.0 194.7h0M180.0 229.3h0M179.9 212.0h0M178.8 220.1h0M177.8 197.7h0M169.0 222.3h0M170.3 217.2h0M180.2 234.8h0M176.5 209.7h0M173.3 193.5h0M171.5 199.0h0M179.3 216.5h0M179.3 231.7h0M177.0 216.3h0M171.9 228.7h0M168.5 210.9h0M174.8 235.7h0M180.5 234.5h0M174.6 215.4h0M170.5 225.8h0M179.6 219.4h0M176.8 211.5h0M168.8 200.7h0M180.4 211.6h0M168.8 219.2h0M170.9 233.1h0M168.2 223.7h0M175.3 189.8h0M172.4 214.7h0M172.2 229.3h0M178.2 227.3h0M174.2 193.9h0M170.8 192.2h0M174.2 233.1h0M173.1 213.0h0M169.3 199.9h0M179.0 192.5h0M170.4 194.6h0M171.4 226.9h0M172.2 201.6h0M171.9 229.6h0M169.3 235.3h0M178.2 191.7h0M174.1 201.6h0M177.3 216.9h0M169.6 233.2h0M177.5 212.4h0M180.1 203.3h0M170.4 219.9h0M175.5 213.9h0M172.0 221.4h0M180.0 197.6h0M177.4 210.5h0M178.6 217.1h0M175.5 235.3h0M178.1 232.9h0M168.8 233.1h0M179.8 218.6h0M177.4 217.2h0M170.8 210.9h0M169.6 216.6h0M171.3 219.2h0M177.4 227.8h0M173.5 206.2h0M177.8 231.2h0M171.8 191.3h0M176.6 226.1h0M172.2 204.3h0M177.6 229.4h0M169.8 203.6h0M172.8 214.6h0M174.6 219.5h0M177.0 222.5h0M173.0 196.5h0M168.2 217.2h0M174.6 190.5h0M168.5 234.8h0M179.2 213.9h0M174.8 229.0h0M176.1 232.5h0M169.5 228.6h0M172.0 234.9h0M177.5 208.3h0M174.6 215.3h0M175.2 223.4h0M172.3 207.4h0M176.6 232.0h0M172.7 228.9h0M171.4 204.1h0M172.9 235.5h0M174.3 224.0h0M173.2 216.4h0M169.1 235.6h0M175.4 201.7h0M172.2 220.5h0M170.2 216.7h0M176.7 214.5h0M177.5 220.8h0M174.1 225.3h0M179.8 201.6h0M176.2 189.1h0M178.4 213.3h0M172.7 201.0h0M176.7 203.0h0M179.7 204.7h0M171.7 234.1h0M180.4 198.1h0M170.8 203.9h0M176.5 231.1h0M168.9 206.0h0M169.7 211.3h0M172.6 235.5h0M173.3 219.0h0M169.7 231.2h0M169.8 198.3h0M179.4 194.6h0M175.8 189.8h0M177.3 190.9h0M177.2 236.4h0M175.8 227.7h0M180.2 208.2h0M170.8 210.8h0M171.9 224.0h0M180.4 209.0h0M173.3 227.3h0M180.2 228.9h0M179.6 234.4h0M174.7 214.7h0M172.5 190.8h0M180.5 192.7h0M172.5 226.1h0M176.5 194.4h0M178.5 225.5h0M174.0 212.2h0M174.0 212.4h0M177.3 226.3h0M172.7 221.2h0M172.8 225.8h0M172.8 205.7h0M173.5 215.5h0M179.7 195.1h0M179.2 223.2h0M177.1 224.8h0M173.3 230.7h0M177.1 199.7h0M174.3 212.4h0M173.8 235.6h0M175.9 196.6h0M177.7 208.3h0M175.5 203.1h0M176.5 207.2h0M177.9 236.3h0M171.5 191.4h0M179.3 228.7h0M179.2 209.1h0M180.4 228.9h0M172.6 209.3h0M172.6 229.4h0M168.8 236.0h0M178.0 203.8h0M177.6 230.7h0M172.8 201.6h0M178.7 220.5h0M173.6 190.3h0M172.5 216.9h0M170.3 202.9h0M177.3 207.3h0M177.4 192.6h0M178.6 215.9h0M175.3 232.2h0M168.1 235.1h0M175.8 231.5h0M175.5 189.6h0M175.9 228.5h0M169.7 229.5h0M171.9 195.9h0M171.4 215.1h0M179.8 208.7h0M176.1 206.3h0M176.4 217.2h0M177.1 196.9h0M168.6 233.3h0M176.7 197.9h0M173.2 206.5h0M179.1 232.5h0M177.5 213.8h0M176.3 212.9h0M173.0 209.0h0M176.6 234.8h0M172.3 199.6h0M172.5 226.8h0M170.4 217.3h0M177.7 196.4h0M174.1 221.5h0M170.8 200.8h0M171.8 230.6h0M178.0 207.8h0M173.8 234.2h0M169.2 209.2h0M170.5 213.3h0M168.7 222.8h0M174.5 224.6h0M171.3 201.3h0M175.5 222.9h0M174.2 206.6h0M169.0 196.2h0M169.2 222.5h0M173.9 235.7h0M179.0 205.5h0M174.8 227.9h0M176.9 228.1h0M171.2 217.1h0M168.2 228.4h0M173.6 215.6h0M177.3 224.2h0M175.8 205.7h0M170.1 220.3h0M170.8 199.0h0M174.8 211.4h0M173.9 201.1h0M169.2 195.1h0M169.9 212.4h0M170.1 224.6h0M179.0 234.9h0M169.1 221.0h0M177.5 195.7h0M177.1 232.2h0M179.3 214.5h0M178.7 208.1h0M171.2 197.1h0M179.7 206.0h0M172.4 209.7h0M169.3 208.4h0M171.7 235.2h0M171.4 193.1h0M179.3 217.8h0M171.6 228.8h0M173.4 233.8h0M179.7 208.9h0M176.7 191.7h0M176.7 225.2h0M170.4 216.0h0M169.3 229.8h0M173.2 209.2h0M170.3 210.9h0M175.6 204.4h0M168.3 221.4h0M176.7 227.7h0M175.9 228.0h0M169.6 195.0h0M170.1 220.3h0M171.9 212.7h0M174.3 233.7h0M171.8 216.3h0M179.9 231.3h0M177.4 200.9h0M176.2 196.0h0M176.1 228.3h0M178.6 225.0h0M173.6 232.8h0M175.7 193.5h0M179.4 221.2h0M170.5 225.4h0M176.7 236.4h0M176.3 235.6h0M178.1 233.6h0M176.8 194.4h0M172.7 198.1h0M173.7 196.1h0M174.0 199.1h0M179.8 196.2h0M176.0 219.2h0M174.9 218.6h0M170.3 218.6h0M171.1 206.3h0M179.1 214.2h0M173.4 190.3h0M169.3 204.9h0M173.7 191.9h0M169.0 200.6h0M172.0 192.9h0M172.0 213.1h0M178.7 236.4h0M175.1 221.2h0M169.6 232.0h0M168.7 208.5h0M175.0 217.4h0M169.5 224.8h0M177.9 222.4h0M170.3 197.6h0M172.4 218.7h0M180.5 212.1h0M174.7 229.1h0M169.2 225.6h0M177.0 209.6h0M169.9 217.1h0M177.4 234.1h0M171.1 202.9h0M179.4 204.7h0M180.0 231.1h0M177.9 207.1h0M173.8 208.6h0M179.3 200.9h0M174.6 203.6h0M168.6 217.6h0M175.8 214.9h0M176.6 193.5h0M172.2 229.6h0M169.7 218.6h0M172.8 228.5h0M180.2 234.9h0M173.0 202.0h0M172.1 214.7h0M178.7 221.1h0M175.5 208.4h0M172.8 210.1h0M177.0 230.7h0M169.1 198.9h0M178.3 209.6h0M170.8 218.0h0M168.7 193.4h0M171.6 201.7h0M173.1 209.0h0M176.9 213.8h0M171.0 210.2h0M177.4 206.7h0M175.2 201.2h0M172.9 198.2h0M179.0 194.5h0M179.4 215.8h0M173.2 219.0h0M179.1 200.8h0M179.1 218.5h0M177.5 222.2h0M175.2 232.5h0M170.0 232.3h0M173.9 226.4h0M169.4 222.8h0M171.7 199.0h0M171.4 232.5h0M173.2 191.9h0M178.2 213.5h0M173.6 190.1h0M170.9 231.2h0M178.2 214.9h0M180.4 215.6h0M168.7 230.9h0M169.9 208.6h0M173.9 203.5h0M170.2 194.8h0M180.3 196.2h0M170.8 213.5h0M179.4 195.7h0M175.2 206.4h0M173.6 231.2h0M177.8 207.2h0M178.3 211.1h0M172.9 220.3h0M176.6 195.8h0M173.3 214.7h0M172.4 215.8h0M172.9 222.0h0M180.6 206.1h0M173.9 206.4h0M176.6 197.4h0M174.8 207.2h0M180.0 216.4h0M172.3 221.7h0M178.4 216.7h0M175.8 219.5h0M176.2 203.4h0M177.6 236.1h0M177.7 221.9h0M178.6 234.5h0M179.4 221.6h0M173.5 231.4h0M178.5 218.3h0M173.9 208.9h0M171.2 218.7h0M172.5 208.4h0M169.4 191.5h0M178.5 191.8h0M169.3 192.4h0M179.3 212.6h0M175.2 200.5h0M176.1 193.0h0M171.7 193.4h0M171.6 227.8h0M171.5 224.9h0M178.3 217.9h0M178.7 220.0h0M175.6 214.2h0M172.4 213.0h0M173.9 228.8h0M176.2 189.6h0M173.1 213.8h0M176.6 214.9h0M172.2 197.0h0M175.6 214.6h0M177.1 224.4h0M179.0 198.5h0M177.1 222.4h0M173.2 234.0h0M173.5 196.0h0M179.3 206.6h0M179.2 218.2h0M171.0 211.0h0M170.5 222.4h0M169.7 192.6h0M175.3 214.9h0M179.7 228.3h0M176.3 203.6h0M168.8 223.2h0M176.4 211.1h0M179.6 208.3h0M169.8 231.7h0M180.4 211.6h0M170.0 208.5h0M177.9 202.6h0M180.2 229.0h0M170.9 223.9h0M171.5 201.6h0M178.4 233.8h0M179.7 211.7h0M177.3 215.8h0M180.1 202.8h0M173.1 193.6h0M173.0 199.2h0M174.8 231.6h0M176.1 200.4h0M178.2 209.9h0M173.6 210.8h0M180.4 205.8h0M174.8 219.2h0M173.3 228.6h0M175.0 222.5h0M172.9 196.2h0M172.6 225.9h0M174.6 212.5h0M176.9 223.4h0M168.5 230.8h0M174.4 207.9h0M172.3 210.4h0M177.7 236.1h0M177.4 214.2h0M177.4 209.3h0M179.8 235.9h0M175.2 216.3h0M179.7 203.0h0M177.8 204.0h0M175.5 225.7h0M168.4 203.2h0M171.9 215.7h0M177.3 201.5h0M176.0 208.9h0M177.6 217.9h0M169.8 218.8h0M176.2 196.9h0M180.2 216.0h0M179.6 224.6h0M175.7 207.5h0M176.7 200.7h0M180.2 232.4h0M173.5 204.2h0M170.4 201.5h0M174.2 224.0h0M168.2 219.5h0M173.1 212.5h0M170.7 191.5h0M178.9 233.5h0M172.7 215.2h0M169.8 228.4h0M178.3 232.6h0M170.9 220.6h0M174.9 207.4h0M177.0 209.8h0M169.8 226.2h0M170.3 211.0h0M173.7 198.4h0M169.8 217.0h0M172.6 202.2h0M170.1 198.8h0M179.0 197.8h0M170.9 226.3h0M168.4 233.2h0M176.9 210.5h0M169.2 203.4h0M179.0 229.0h0M179.6 196.4h0M173.3 201.5h0M168.3 215.9h0M174.9 219.5h0M170.2 226.8h0M179.0 217.2h0M171.7 195.7h0M176.9 201.5h0M177.1 232.7h0M172.4 211.7h0M175.3 204.3h0M175.6 195.7h0M173.2 197.4h0M174.9 231.1h0M175.7 225.8h0M169.5 217.7h0M178.4 215.4h0M173.5 223.1h0M178.0 231.6h0M174.5 190.3h0M173.4 215.3h0M177.7 224.0h0M170.4 229.8h0M175.1 225.8h0M170.8 234.5h0M168.7 222.1h0M175.6 232.9h0M170.5 206.6h0M173.0 208.6h0M179.1 217.1h0M171.6 232.4h0M171.2 222.9h0M176.7 207.1h0M169.5 216.3h0M176.3 190.2h0M168.6 196.0h0M170.8 209.5h0M178.5 194.8h0M179.4 192.1h0M175.6 232.4h0M172.4 234.4h0M179.4 232.8h0M170.7 208.0h0M177.7 209.5h0M173.6 197.3h0M171.5 231.7h0M178.1 216.9h0M171.8 228.6h0M180.1 234.9h0M171.5 207.1h0M179.5 228.4h0M176.6 199.1h0M171.3 199.6h0M175.2 230.8h0M172.6 190.2h0M168.1 217.3h0M168.3 213.5h0M175.8 229.0h0M180.3 228.3h0M179.7 215.9h0M173.2 226.7h0M170.1 216.2h0M180.5 206.7h0M168.0 195.9h0M174.5 217.4h0M178.6 234.3h0M180.3 216.9h0M172.3 221.6h0M176.5 207.4h0M177.0 195.1h0M175.0 197.8h0M171.6 209.9h0M180.3 215.3h0M174.9 227.7h0M174.6 213.6h0M172.4 194.7h0M171.6 192.3h0M173.2 225.2h0M173.7 219.1h0M173.4 195.7h0M174.9 201.4h0M177.4 192.1h0M180.4 197.6h0M171.2 209.7h0M173.5 221.8h0M177.9 194.2h0M170.7 191.7h0M171.4 194.2h0M171.4 231.3h0M175.4 192.8h0M170.7 219.2h0M168.7 190.9h0M171.6 209.9h0M175.7 210.4h0M172.3 218.8h0M173.8 216.9h0M176.4 212.5h0M174.2 236.4h0M171.8 212.9h0M180.3 205.7h0M170.3 209.7h0M173.4 212.2h0M175.2 194.9h0M176.3 202.0h0M168.5 213.2h0M176.5 217.9h0M168.6 194.6h0M174.4 210.1h0M171.3 196.6h0M176.1 194.5h0M171.5 222.9h0M177.7 207.7h0M168.3 201.0h0M179.2 204.7h0M173.0 212.5h0M168.3 203.7h0M168.4 217.6h0M179.8 230.9h0M176.4 191.2h0M171.9 200.1h0M168.9 230.6h0M176.4 230.6h0M169.8 219.6h0M170.9 234.1h0M172.8 213.4h0M172.1 235.1h0M180.5 232.3h0M174.2 209.5h0M179.6 227.1h0M171.6 197.7h0M171.2 199.0h0M169.3 228.0h0M174.3 224.2h0M176.7 195.5h0M171.0 206.6h0M172.5 201.3h0M179.0 226.6h0M179.7 213.9h0M178.5 227.7h0M170.9 190.5h0M171.1 224.8h0M176.4 214.2h0M172.4 194.3h0M177.3 226.0h0M178.4 222.3h0M178.2 233.9h0M173.7 226.3h0M177.3 194.0h0M177.2 205.8h0M172.7 220.0h0M171.8 224.2h0M170.3 225.9h0M175.8 235.8h0M176.8 216.1h0M171.6 204.8h0M178.1 222.0h0M174.4 207.0h0M176.9 224.6h0M172.8 201.8h0M168.6 210.1h0M168.7 213.9h0M179.3 225.7h0M176.3 217.2h0M171.1 235.0h0M174.5 205.9h0M179.4 220.7h0M169.9 199.9h0M179.1 200.0h0M173.9 201.1h0M178.1 208.2h0M170.7 200.6h0M176.7 208.3h0M173.7 235.9h0M172.9 223.0h0M173.8 207.7h0M170.8 220.1h0M169.3 212.9h0M170.2 221.3h0M177.9 209.2h0M172.8 218.9h0M178.2 197.4h0M180.3 215.9h0M176.5 205.4h0M172.6 210.6h0M175.1 194.7h0M173.9 214.5h0M176.8 214.6h0M174.3 235.6h0M170.7 191.0h0M175.2 208.6h0M172.3 201.2h0M178.0 216.6h0M173.8 196.0h0M177.2 232.1h0M179.4 203.3h0M169.4 222.7h0M170.2 223.2h0M168.7 214.4h0M173.7 235.2h0M177.9 208.6h0M173.8 203.7h0M170.9 199.8h0M179.0 208.3h0M175.1 197.1h0M180.0 233.4h0M178.6 220.1h0M168.4 208.3h0M176.8 226.4h0M178.5 235.6h0M172.3 227.3h0M169.1 214.6h0M173.6 226.4h0M170.8 202.1h0M177.7 205.0h0M179.9 204.7h0M171.6 227.4h0M172.9 221.0h0M168.3 220.3h0M169.8 193.7h0M178.8 195.5h0M169.0 205.0h0M175.3 214.0h0M172.2 217.0h0M169.4 233.1h0M170.6 216.5h0M170.4 220.2h0M177.8 229.4h0M180.3 207.2h0M171.6 214.0h0M180.3 205.7h0M175.5 202.3h0M177.1 210.8h0M168.1 197.7h0M179.4 221.5h0M168.5 233.5h0M170.6 217.5h0M175.6 194.4h0M174.4 224.3h0M176.6 194.8h0M173.2 225.7h0M169.3 217.4h0M171.4 218.8h0M177.2 217.6h0M175.1 207.7h0M170.8 218.3h0M173.0 202.5h0M179.6 224.1h0M173.4 196.3h0M177.1 200.3h0M178.2 230.0h0M168.3 199.2h0M179.5 227.6h0M175.3 201.2h0M176.7 229.6h0M177.0 201.8h0M173.4 202.1h0M174.6 234.2h0M169.2 235.8h0M180.5 192.0h0M176.1 196.4h0M174.3 236.2h0M180.2 222.4h0M168.9 232.0h0M171.4 231.9h0M174.5 214.2h0M170.3 215.8h0M180.4 216.1h0M179.4 218.3h0M179.1 206.0h0M173.8 207.4h0M178.7 220.5h0M174.2 208.4h0M171.0 208.8h0M169.7 235.0h0M176.5 196.7h0M173.3 206.3h0M169.9 199.8h0M171.5 230.5h0M173.4 198.3h0M169.3 214.0h0M169.4 208.0h0M174.4 229.0h0M175.4 195.9h0M176.0 190.5h0M174.7 198.4h0M171.5 196.3h0M176.5 227.3h0M173.7 228.0h0M176.6 193.9h0M176.9 198.6h0M174.1 220.3h0M177.2 211.4h0M179.5 216.6h0M175.8 234.1h0M180.0 224.6h0M178.2 223.3h0M175.3 230.1h0M177.8 220.9h0M169.4 214.0h0M171.5 219.4h0M175.8 192.4h0M179.3 219.0h0M176.1 231.1h0M177.4 192.0h0M177.0 229.5h0M172.9 229.2h0M177.5 196.0h0M170.5 202.6h0M179.2 209.3h0M170.4 231.0h0M168.3 211.1h0M172.8 236.0h0M178.8 210.5h0M179.0 223.8h0M175.1 213.4h0M177.0 197.1h0M179.3 225.2h0M173.6 208.2h0M175.3 235.1h0M171.1 232.8h0M171.8 220.8h0M179.2 229.2h0M176.0 215.4h0M170.4 233.9h0M168.5 206.0h0M171.0 225.9h0M170.5 206.6h0M180.3 204.0h0M177.5 193.2h0M176.5 205.7h0M176.4 189.2h0M179.8 224.8h0M168.8 224.8h0M172.8 220.9h0M172.4 191.9h0M176.2 192.1h0M170.2 225.2h0M171.4 227.2h0M177.3 220.3h0M175.6 232.8h0M174.7 197.7h0M169.1 206.5h0M171.5 213.5h0M168.4 206.2h0M168.4 232.0h0M178.2 234.4h0M176.1 191.3h0M180.4 231.7h0M175.5 219.5h0M168.4 193.4h0M170.4 193.0h0M175.3 210.6h0M177.9 232.4h0M180.2 227.4h0M172.2 233.6h0M172.2 223.7h0M171.6 210.0h0M177.1 198.6h0M170.7 225.9h0M176.5 201.1h0M174.3 188.6h0M172.4 227.0h0M170.7 211.2h0M176.6 208.9h0M168.6 196.1h0M176.2 230.1h0M176.4 226.0h0M178.6 197.9h0M171.0 194.6h0M169.4 216.9h0M178.4 203.3h0M179.3 218.2h0M170.5 194.1h0M170.8 192.8h0M178.2 230.4h0M178.9 230.1h0M172.7 206.5h0M176.8 196.9h0M169.4 223.8h0M179.4 215.1h0M171.4 213.3h0M174.3 209.7h0M178.2 197.3h0M174.8 206.1h0M179.7 226.6h0M180.6 212.4h0M178.6 219.0h0M174.9 205.1h0M169.7 199.9h0M171.1 215.3h0M178.1 210.9h0M174.6 209.6h0M173.1 224.1h0M178.9 210.1h0M178.4 210.7h0M170.6 202.5h0M177.7 207.0h0M175.9 226.4h0M177.8 223.0h0M175.7 228.7h0M177.9 217.5h0M176.0 229.4h0M168.2 204.0h0M173.0 230.3h0M179.7 203.1h0M171.1 195.4h0M180.1 217.6h0M174.2 199.9h0M177.7 199.8h0M171.4 203.5h0M175.2 223.1h0M170.8 209.0h0M173.6 206.8h0M170.1 219.7h0M176.7 219.5h0M174.5 214.6h0M173.8 200.7h0M172.7 227.3h0M169.6 218.8h0M171.4 209.2h0M176.1 208.8h0M178.9 210.6h0M178.0 208.0h0M171.2 223.6h0M174.6 222.9h0M180.1 207.9h0M171.8 230.8h0M178.5 209.7h0M179.9 200.8h0M170.1 210.3h0M172.8 211.3h0M168.4 194.8h0M174.1 232.0h0M176.2 212.2h0M168.3 195.1h0M175.3 196.1h0M177.6 215.2h0M173.9 216.5h0M177.0 231.9h0M169.0 210.7h0M172.3 227.5h0M173.6 196.4h0M168.2 195.0h0M172.8 197.0h0M179.4 216.3h0M180.3 222.2h0M172.9 192.3h0M169.9 205.1h0M170.1 219.9h0M179.7 216.0h0M170.6 196.6h0M177.0 201.3h0M169.8 201.2h0M170.8 221.1h0M171.0 203.2h0M173.3 194.6h0M168.1 222.4h0M168.6 218.8h0M171.9 209.2h0M173.4 197.7h0M169.8 201.2h0M172.2 199.0h0M174.4 222.1h0M174.3 211.0h0M170.7 191.6h0M176.7 194.1h0M170.3 231.6h0M173.9 200.9h0M170.8 231.2h0M171.0 211.3h0M173.4 234.5h0M178.9 200.6h0M168.6 193.2h0M179.6 234.5h0M171.0 235.1h0M171.5 236.3h0M179.8 207.5h0M174.1 231.7h0M172.6 200.0h0M174.5 230.4h0M170.5 214.2h0M179.6 227.6h0M173.6 222.0h0M176.7 227.6h0M179.1 235.9h0M172.6 229.6h0M171.0 211.8h0M171.2 191.1h0M169.4 197.2h0M175.4 194.0h0M175.4 218.4h0M173.4 201.2h0M178.2 208.0h0M177.0 203.1h0M176.4 230.2h0M179.6 196.3h0M170.4 208.7h0M177.0 196.4h0M172.7 196.7h0M171.5 198.0h0M171.5 231.7h0M175.9 203.8h0M177.6 191.3h0M176.2 191.4h0M168.4 227.1h0M170.3 221.5h0M171.6 221.9h0M179.5 222.2h0M179.0 222.5h0M179.7 203.0h0M176.5 198.0h0M169.5 204.3h0M171.9 233.0h0M180.4 228.8h0M168.8 192.2h0M168.8 230.3h0M173.6 229.6h0M174.1 192.0h0M173.7 234.2h0M180.2 211.9h0M178.5 198.4h0M168.8 225.1h0M177.0 236.0h0M168.6 200.3h0M169.0 235.6h0M178.0 220.9h0M170.2 211.2h0M169.9 215.7h0M178.7 191.2h0M172.5 197.3h0M172.2 235.1h0M176.2 199.3h0M176.6 235.1h0M169.1 201.1h0M176.3 229.5h0M170.1 200.8h0M174.4 236.0h0M168.3 199.9h0M175.4 234.1h0M173.9 229.8h0M180.2 206.9h0M170.2 231.1h0M169.8 227.0h0M169.5 208.1h0M173.2 220.6h0M179.8 209.8h0M172.8 202.4h0M168.1 227.8h0M176.6 209.9h0M173.2 236.4h0M175.4 208.6h0M174.7 209.1h0M173.4 231.8h0M179.2 201.8h0M180.0 197.5h0M174.1 211.0h0M168.2 199.8h0M174.3 192.0h0M172.1 206.7h0M169.3 215.6h0M176.9 191.1h0M174.3 221.7h0M178.6 220.7h0M170.8 213.1h0M179.7 192.8h0M179.4 227.3h0M170.1 213.5h0M168.2 200.6h0M173.4 195.6h0M179.7 202.7h0M173.8 201.8h0M175.4 217.2h0M171.9 234.3h0M168.2 235.3h0M178.7 201.7h0M179.9 220.5h0M175.8 230.9h0M179.3 205.5h0M176.6 196.1h0M176.0 220.7h0M172.9 234.6h0M169.5 193.2h0M173.8 194.4h0M180.6 216.0h0M169.6 233.5h0M175.2 197.0h0M172.1 192.0h0M170.5 225.5h0M169.8 201.4h0M174.6 199.7h0M169.6 207.8h0M172.8 206.2h0M177.4 199.9h0M168.5 205.1h0M171.6 211.8h0M170.6 223.4h0M173.0 228.8h0M179.8 199.5h0M180.4 227.3h0M173.2 193.5h0M174.5 193.0h0M173.8 202.1h0M170.7 216.2h0M174.4 211.6h0M173.6 207.6h0M170.3 199.7h0M172.0 214.5h0M179.8 193.0h0M174.5 206.2h0M169.5 206.9h0M177.3 219.7h0M168.8 218.8h0M175.0 200.7h0M172.3 214.9h0M170.9 219.4h0M174.0 227.1h0M180.4 234.0h0M176.8 222.7h0M173.3 205.3h0M169.5 226.0h0M169.9 200.3h0M176.0 233.1h0M175.9 201.3h0M175.1 220.3h0M175.6 232.2h0M177.8 231.4h0M175.6 221.8h0M171.9 200.3h0M180.2 201.7h0M179.3 217.6h0M172.1 236.2h0M175.8 195.0h0M174.2 214.5h0M172.0 228.2h0M176.6 201.8h0M178.5 192.1h0M180.0 216.1h0M178.6 232.0h0M168.3 223.6h0M178.0 225.5h0M174.3 202.2h0M170.0 214.8h0M170.4 215.2h0M169.0 198.9h0M174.6 195.2h0M179.1 232.8h0M180.2 203.2h0M176.6 221.6h0M168.5 198.0h0M169.3 226.9h0M172.1 227.4h0M168.1 195.6h0M179.6 221.3h0M180.5 197.6h0M174.0 231.6h0M175.0 206.4h0M168.1 202.0h0M170.3 225.5h0M180.5 223.3h0M178.5 208.4h0M178.8 200.8h0M171.8 202.3h0M177.2 226.9h0M180.4 213.0h0M175.4 217.4h0M179.6 212.0h0M173.6 190.7h0M172.1 210.9h0M169.5 204.2h0M179.1 218.0h0M174.1 192.7h0M171.7 216.5h0M168.8 219.5h0M175.7 233.4h0M179.2 218.9h0M174.6 223.0h0M172.7 215.6h0M177.2 207.7h0M172.4 220.5h0M173.6 203.2h0M175.9 230.9h0M170.5 220.0h0M176.4 208.3h0M168.1 220.2h0M179.7 221.0h0M176.2 195.6h0M179.2 213.0h0M173.7 236.3h0M169.5 193.9h0M175.5 236.4h0M174.7 203.4h0M172.6 196.9h0M180.3 224.7h0M172.5 231.2h0M169.2 230.5h0M174.9 209.8h0M168.1 218.2h0M171.0 231.2h0M172.2 227.6h0M177.0 206.5h0M171.3 201.5h0M169.3 228.7h0M168.1 214.6h0M174.4 199.2h0M177.4 197.5h0M179.1 198.6h0M170.6 197.3h0M172.0 208.3h0M177.5 194.3h0M169.1 199.8h0M170.3 224.9h0M180.3 212.2h0M170.6 205.1h0M172.3 195.1h0M172.9 223.8h0M168.4 220.9h0M170.4 200.6h0M178.6 228.3h0M170.5 195.2h0M175.5 229.0h0M171.6 196.7h0M174.5 222.9h0M169.6 208.9h0M170.1 204.5h0M179.5 232.2h0M177.2 205.0h0M173.9 215.7h0M173.3 236.0h0M177.3 230.0h0M171.8 213.4h0M177.6 224.4h0M179.5 194.6h0M174.1 205.0h0M179.0 226.2h0M177.2 214.3h0M173.6 215.9h0M180.4 198.9h0M177.7 196.1h0M175.3 230.4h0M170.2 198.3h0M175.0 211.7h0M172.2 233.8h0M178.6 234.3h0M174.3 209.9h0M175.3 236.2h0M168.8 235.3h0M170.5 222.7h0M176.0 209.8h0M170.3 208.8h0M168.8 216.2h0M173.0 212.8h0M169.8 196.7h0M172.8 194.8h0M176.8 191.6h0M178.5 200.1h0M174.7 230.7h0M169.9 223.1h0M173.4 233.6h0M168.2 223.2h0M174.8 201.2h0M178.7 195.9h0M176.7 198.4h0M178.7 198.5h0M179.6 193.1h0M176.3 214.2h0M175.5 236.2h0M175.2 227.6h0M171.2 211.7h0M170.7 231.1h0M175.1 224.3h0M177.1 198.5h0M178.5 194.7h0M169.3 201.8h0M177.6 207.8h0M179.8 197.6h0M170.9 224.4h0M178.5 224.9h0M172.1 215.6h0M174.7 197.1h0M178.6 195.2h0M170.9 224.8h0M178.2 209.5h0M170.9 211.9h0M171.8 204.8h0M177.0 217.4h0M168.3 220.4h0M178.7 220.3h0M180.5 200.6h0M177.5 204.3h0M176.4 218.8h0M172.1 202.4h0M176.1 223.1h0M168.9 194.7h0M179.2 236.3h0M177.3 216.4h0M174.7 234.9h0M173.5 199.4h0M174.8 232.8h0M175.8 193.5h0M174.7 228.0h0M176.5 211.6h0M170.0 212.7h0M168.7 222.1h0M173.1 202.6h0M169.8 220.8h0M174.5 212.7h0M170.0 203.4h0M175.0 224.6h0M172.5 225.5h0M175.3 219.3h0M178.7 234.3h0M178.3 202.1h0M171.7 230.0h0M171.4 190.6h0M169.4 201.2h0M178.0 198.7h0M180.4 199.8h0M178.1 224.1h0M169.2 226.1h0M177.0 202.3h0M173.9 214.3h0M175.0 229.7h0M174.6 194.9h0M174.3 223.5h0M177.5 197.5h0M171.6 198.3h0M175.7 201.7h0M168.9 198.7h0M176.5 235.0h0M168.9 195.4h0M168.2 193.6h0M177.2 197.8h0M168.6 210.7h0M172.1 195.1h0M176.0 195.5h0M176.2 236.0h0M171.4 211.4h0M176.3 194.7h0M176.4 222.0h0M175.4 191.9h0M174.9 214.8h0M179.6 209.2h0M175.5 207.5h0M168.8 197.9h0M169.9 192.8h0M179.5 234.0h0M177.7 217.5h0M171.6 199.8h0M170.9 208.9h0M175.5 201.9h0M177.1 197.0h0M169.4 217.3h0M173.9 216.0h0M170.4 209.7h0M174.3 232.4h0M173.9 213.1h0M168.7 201.3h0M170.4 233.5h0M171.8 204.6h0M168.9 216.1h0M179.3 218.9h0M176.1 210.2h0M169.8 201.4h0M178.0 219.4h0M176.6 212.0h0M176.2 191.1h0M173.2 235.3h0M175.2 235.4h0M173.9 208.8h0M178.4 221.4h0M171.8 206.7h0M178.1 212.5h0M178.9 195.9h0M173.1 231.2h0M174.1 211.6h0M180.2 198.2h0M179.6 227.6h0M174.6 221.2h0M169.4 220.3h0M179.0 220.2h0M170.4 201.8h0M176.6 221.0h0M174.3 192.2h0M170.0 197.5h0M172.7 218.5h0M177.5 198.0h0M175.0 218.4h0M175.0 200.7h0M176.4 230.6h0M176.6 201.2h0M175.2 228.1h0M176.2 227.8h0M170.6 209.4h0M180.4 218.4h0M178.7 211.9h0M179.3 219.3h0M171.8 192.4h0M174.1 229.1h0M180.2 201.2h0M170.1 197.7h0M178.2 197.7h0M174.8 195.6h0M174.2 229.2h0M168.2 229.4h0M176.5 201.5h0M179.3 224.4h0M175.6 192.5h0M168.6 232.0h0M171.8 190.8h0M176.0 232.7h0M177.9 225.9h0M177.8 223.8h0M168.2 223.0h0M173.6 210.2h0M176.9 217.5h0M175.8 201.8h0M176.9 232.7h0M175.9 197.3h0M171.2 216.9h0M177.5 205.3h0M172.0 198.0h0M173.2 233.3h0M168.1 224.9h0M172.4 191.2h0M176.7 207.9h0M178.3 221.1h0M176.6 205.1h0M170.5 193.1h0M170.0 210.5h0M169.1 204.8h0M177.5 224.6h0M168.8 218.1h0M180.4 201.4h0M170.8 198.5h0M171.2 213.6h0M178.2 226.0h0M176.0 202.6h0M168.1 204.1h0M171.8 227.2h0M179.9 229.4h0M173.9 192.0h0M171.0 197.3h0M172.0 192.9h0M171.7 214.0h0M178.7 191.8h0M177.2 231.5h0M178.0 195.9h0M180.1 200.8h0M168.4 223.5h0M177.0 217.1h0M171.9 206.6h0M178.9 222.9h0M177.1 216.7h0M180.0 193.5h0M171.8 204.6h0M173.4 222.1h0M168.7 204.0h0M175.4 227.5h0M177.2 208.0h0M170.1 195.7h0M173.3 214.7h0M176.7 218.4h0M178.1 234.1h0M176.6 203.0h0M172.7 227.7h0M175.5 214.1h0M180.3 220.5h0M177.3 211.8h0M176.5 207.4h0M174.6 209.2h0M177.4 197.4h0M170.5 231.1h0M168.2 211.8h0M178.5 214.8h0M173.0 189.8h0M169.0 200.9h0M171.6 215.4h0M176.8 206.1h0M168.2 227.5h0M172.8 213.2h0M169.9 206.1h0M169.3 206.6h0M169.4 230.7h0M168.7 194.7h0M171.7 210.9h0M176.7 232.0h0M176.0 210.4h0M170.7 202.0h0M178.7 206.8h0M174.0 200.9h0M170.6 228.7h0M180.0 205.2h0M175.3 197.9h0M179.5 227.1h0M174.6 213.0h0M177.0 203.5h0M169.9 201.9h0M180.2 200.9h0M175.3 214.0h0M180.5 228.0h0M180.4 225.4h0M180.0 222.3h0M178.0 223.4h0M178.3 218.0h0M180.1 205.7h0M175.8 222.2h0M169.8 197.8h0M172.0 221.0h0M169.5 200.8h0M171.5 234.0h0M170.9 194.9h0M178.8 223.2h0M169.6 207.4h0M170.8 230.2h0M179.3 200.3h0M180.6 230.9h0M179.9 224.8h0M172.6 205.4h0M174.0 193.3h0M170.0 223.2h0M173.4 223.0h0M171.6 201.7h0M170.6 212.0h0M174.3 209.7h0M173.6 217.7h0M169.6 233.8h0M175.6 199.0h0M180.2 208.7h0M168.4 226.0h0M170.7 226.3h0M175.1 200.4h0M168.5 215.6h0M177.8 197.6h0M173.5 199.3h0M175.7 198.4h0M169.9 231.9h0M169.4 216.5h0M173.2 220.2h0M168.2 234.7h0M171.6 196.1h0M169.6 211.9h0M171.9 234.2h0M173.2 191.3h0M172.7 192.9h0M171.1 200.9h0M172.4 223.5h0M168.6 198.0h0M178.4 198.3h0M176.7 192.9h0M176.5 229.3h0M173.9 223.3h0M179.9 219.1h0M172.5 221.7h0M169.8 195.9h0M176.4 210.2h0M170.6 215.5h0M174.2 198.7h0M180.5 205.9h0M179.5 232.3h0M179.9 195.9h0M169.1 223.2h0M168.6 224.4h0M168.6 224.3h0M180.1 225.1h0M171.8 229.3h0M180.6 199.2h0M175.0 207.8h0M180.3 228.1h0M178.4 206.5h0M176.4 232.8h0M180.3 199.9h0M174.2 217.3h0M171.3 231.0h0M173.7 235.6h0M174.5 216.8h0M177.7 228.0h0M176.7 225.0h0M178.1 220.0h0M179.9 216.0h0M178.9 216.3h0M176.4 208.3h0M168.9 231.6h0M170.9 223.2h0M175.5 201.6h0M174.7 202.5h0M174.9 222.5h0M171.3 234.2h0M173.1 232.0h0M172.7 223.8h0M172.2 191.7h0M168.0 216.8h0M175.9 209.2h0M172.6 198.5h0M174.9 231.0h0M171.3 212.7h0M170.7 217.5h0M173.1 213.4h0M169.1 206.4h0M178.7 204.9h0M178.0 217.1h0M171.5 200.2h0M180.5 227.9h0M176.4 204.3h0M169.6 225.5h0M175.5 200.4h0M177.8 235.1h0M173.7 191.1h0M173.8 213.8h0M180.1 198.1h0M172.8 223.2h0M168.4 202.8h0M173.5 190.0h0M176.8 222.5h0M169.7 233.5h0M178.4 215.7h0M176.8 206.3h0M172.2 204.4h0M169.0 192.4h0M174.5 189.7h0M174.9 204.1h0M174.6 200.6h0M179.4 201.5h0M177.4 208.0h0M178.9 212.0h0M169.1 198.9h0M174.6 198.2h0M174.6 210.8h0M174.1 190.8h0M168.8 227.4h0M176.9 204.5h0M179.6 210.1h0M177.0 201.0h0M176.1 211.1h0M179.0 236.4h0M180.1 231.2h0M169.1 219.3h0M174.4 194.4h0M169.0 209.6h0M173.9 219.6h0M176.8 198.5h0M179.0 192.6h0M170.6 219.4h0M169.3 214.5h0M175.2 223.9h0M171.4 208.4h0M169.6 228.1h0M174.5 194.3h0M173.1 227.5h0M168.0 210.1h0M168.5 194.2h0M172.6 235.3h0M171.2 232.9h0M172.9 220.3h0M178.0 208.3h0M176.7 234.9h0M173.6 218.1h0M168.3 232.7h0M180.0 206.3h0M169.8 226.3h0M179.0 200.0h0M170.5 208.5h0M173.7 224.8h0M171.6 199.5h0M171.6 226.1h0M180.0 195.2h0M170.5 211.1h0M177.1 228.4h0M173.8 219.4h0M180.5 203.7h0M180.0 219.9h0M175.1 229.8h0M169.0 228.6h0M170.3 226.4h0M169.1 223.8h0M174.6 229.4h0M176.7 208.0h0M179.0 204.8h0M170.3 228.0h0M176.7 201.4h0M173.3 199.0h0M179.9 193.4h0M180.6 193.2h0M176.7 232.8h0M178.3 201.8h0M179.9 230.6h0M170.8 204.6h0M170.7 230.4h0M169.4 212.8h0M179.0 225.0h0M177.8 226.7h0M168.0 203.0h0M177.2 231.3h0M169.1 203.3h0M178.3 217.1h0M173.5 224.3h0M173.0 222.3h0M172.6 222.9h0M171.3 206.4h0M173.3 194.7h0M171.9 213.8h0M179.3 229.7h0M171.7 231.3h0M177.6 224.6h0M179.4 195.8h0M173.0 225.8h0M169.1 201.8h0M175.0 220.3h0M179.9 194.9h0M170.4 192.7h0M168.0 212.5h0M179.4 213.2h0M169.1 235.6h0M177.4 200.7h0M172.4 202.9h0M169.9 192.8h0M179.1 206.9h0M176.7 199.9h0M169.4 227.4h0M174.6 201.2h0M174.1 210.7h0M179.7 212.1h0M180.5 233.0h0M176.7 210.7h0M170.4 212.2h0M169.9 210.1h0M180.2 219.4h0M176.2 218.0h0M171.6 233.3h0M179.0 212.9h0M171.7 213.5h0M177.9 235.0h0M169.1 219.2h0M180.1 196.3h0M169.6 191.6h0M172.8 223.2h0M173.3 225.5h0M174.4 215.1h0M176.6 207.5h0M179.6 194.6h0M177.8 201.6h0M179.9 205.7h0M172.0 228.4h0M168.6 198.7h0M171.6 229.4h0M177.1 213.8h0M180.3 204.2h0M175.6 211.5h0M169.6 230.7h0M175.9 230.2h0M174.1 198.3h0M175.5 213.6h0M171.8 220.0h0M169.4 212.1h0M168.7 228.7h0M168.2 228.1h0M171.8 196.8h0M176.4 201.7h0M178.2 217.7h0M170.8 203.4h0M169.0 199.7h0M173.2 210.8h0M175.5 218.1h0M173.9 229.7h0M169.8 232.5h0M179.1 210.1h0M178.6 231.8h0M172.2 202.9h0M173.2 206.4h0M168.3 209.7h0M179.7 231.8h0M179.8 224.5h0M174.3 227.4h0M177.4 191.1h0M176.2 205.5h0M173.7 201.8h0M169.4 192.4h0M178.0 209.6h0M171.5 218.4h0M177.0 210.0h0M177.0 223.6h0M177.6 191.4h0M172.4 197.0h0M179.6 206.5h0M169.9 208.1h0M173.5 219.4h0M174.5 235.0h0M175.8 209.1h0M174.3 215.0h0M176.8 227.9h0M176.8 222.4h0M179.2 213.3h0M178.3 229.9h0M175.0 234.7h0M175.5 231.8h0M171.2 198.4h0M174.7 192.4h0M177.8 221.3h0M172.1 225.6h0M169.1 205.7h0M177.5 222.4h0M168.3 230.0h0M168.5 214.8h0M169.2 210.9h0M169.8 196.8h0M178.1 192.0h0M170.5 234.0h0M171.9 214.3h0M174.6 207.2h0M178.0 213.3h0M172.4 190.1h0M175.5 224.7h0M174.4 196.4h0M174.0 198.9h0M178.9 226.9h0M174.8 220.2h0M171.0 236.4h0M171.3 208.5h0M177.8 229.7h0M170.1 223.9h0M171.7 226.4h0M176.0 207.6h0M176.6 230.3h0M174.6 219.5h0M178.8 223.5h0M168.2 209.4h0M174.8 228.8h0M169.4 224.1h0M171.6 196.1h0M173.8 197.7h0M173.6 198.1h0M173.6 217.1h0M176.5 206.8h0M169.0 210.6h0M175.8 204.1h0M178.3 233.4h0M178.3 215.0h0M172.8 198.9h0M175.4 209.5h0M180.6 209.4h0M180.2 232.7h0M175.3 224.1h0M173.9 189.9h0M179.8 191.7h0M176.1 209.5h0M169.7 229.4h0M171.1 216.2h0M173.6 225.4h0M172.5 205.7h0M169.4 204.0h0M171.5 198.0h0M180.3 220.6h0M169.1 218.9h0M180.1 215.4h0M169.8 212.5h0M175.0 228.8h0M168.9 208.4h0M179.8 226.8h0M168.6 202.4h0M172.1 201.9h0M171.7 217.9h0M175.1 223.7h0M171.5 204.4h0M170.6 209.9h0M179.9 193.1h0M174.9 222.4h0M178.9 235.9h0M168.2 226.5h0M173.9 224.2h0M169.0 220.6h0M169.5 205.3h0M168.7 216.4h0M169.2 205.5h0M175.3 230.0h0M176.0 201.0h0M170.3 236.2h0M179.6 195.1h0M170.9 230.0h0M169.3 226.3h0M169.6 214.2h0M175.2 190.0h0M176.9 229.7h0M174.6 210.2h0M171.3 225.8h0M177.6 191.3h0M168.3 216.6h0M168.5 226.7h0M168.3 223.0h0M170.8 214.2h0M178.7 204.5h0M180.2 205.0h0M172.6 218.0h0M168.8 225.0h0M180.5 194.1h0M176.6 209.4h0M170.5 233.1h0M173.9 218.0h0M177.4 206.1h0M171.4 209.0h0M170.5 205.5h0M172.0 197.1h0M170.7 207.1h0M180.5 229.7h0M179.8 206.5h0M178.0 232.1h0M176.5 220.0h0M179.8 192.3h0M177.1 212.3h0M179.0 200.2h0M175.2 191.4h0M169.3 211.5h0M170.5 222.4h0M177.6 225.2h0M178.0 223.9h0M172.0 200.8h0M172.5 190.3h0M175.6 198.4h0M169.5 231.5h0M172.1 217.0h0M174.1 220.2h0M178.2 203.3h0M170.4 200.6h0M177.9 198.3h0M170.2 205.3h0M172.7 212.7h0M175.9 198.0h0M172.7 204.5h0M175.2 218.2h0M171.4 197.2h0M168.1 234.9h0M177.2 225.8h0M178.7 219.7h0M168.4 212.1h0M175.2 198.1h0M170.8 195.9h0M170.9 192.2h0M178.6 217.5h0M168.5 216.2h0M178.1 224.1h0M175.1 205.9h0M174.4 224.2h0M177.4 225.0h0M173.5 203.9h0M175.1 192.7h0M171.9 199.5h0M178.4 193.3h0M172.5 208.7h0M179.9 230.9h0M175.1 222.1h0M168.8 221.0h0M170.9 208.7h0M168.7 198.1h0M178.0 218.7h0M168.0 207.3h0M175.6 236.5h0M172.1 220.8h0M173.6 191.2h0M176.2 222.4h0M178.5 212.7h0M171.5 196.7h0M169.8 197.2h0M168.4 197.0h0M176.9 227.5h0M168.6 210.7h0M179.8 213.3h0M172.4 193.8h0M178.6 210.2h0M175.0 212.7h0M175.2 214.0h0M171.0 217.0h0M177.8 215.4h0M176.7 199.2h0M179.2 214.7h0M177.6 198.4h0M170.3 211.2h0M169.6 201.1h0M172.6 202.7h0M176.0 213.6h0M168.0 227.9h0M180.2 192.8h0M174.5 228.0h0M173.5 215.1h0M177.6 214.6h0M169.3 208.4h0M170.4 197.7h0M175.3 230.5h0M178.7 215.1h0M173.3 235.3h0M178.7 192.9h0M179.9 206.4h0M171.3 200.0h0M180.3 200.3h0M169.1 227.6h0M173.7 208.3h0M169.8 201.4h0M176.4 231.4h0M172.5 219.2h0M173.0 189.0h0M172.1 212.8h0M177.7 206.5h0M169.6 218.9h0M179.4 207.7h0M174.4 204.2h0M171.0 207.6h0M178.4 228.3h0M180.4 207.1h0M177.9 201.4h0M168.0 230.6h0M172.2 229.8h0M177.2 223.5h0M178.3 230.8h0M172.1 232.8h0M169.2 216.2h0M180.0 205.7h0M168.8 227.9h0M173.4 219.9h0M168.5 201.1h0M174.1 212.3h0M174.1 227.1h0M172.1 208.7h0M179.3 227.3h0M173.3 205.3h0M174.6 222.6h0M174.0 233.9h0M176.9 211.4h0M171.1 200.3h0M171.9 216.7h0M177.3 224.8h0M180.2 215.2h0M174.0 206.0h0M171.9 210.9h0M174.9 220.9h0M180.4 204.6h0M175.7 216.5h0M173.7 235.7h0M168.9 228.0h0M174.0 234.0h0M172.2 216.9h0M173.2 214.7h0M169.3 192.5h0M176.2 202.5h0M177.3 205.8h0M168.6 220.9h0M176.9 228.7h0M180.0 221.7h0M172.5 218.5h0M170.2 222.0h0M179.9 208.4h0M174.3 206.1h0M171.4 220.4h0M171.9 215.6h0M180.3 208.0h0M170.7 229.7h0M168.8 199.3h0M171.0 198.7h0M178.0 230.2h0M178.3 202.3h0M179.7 197.1h0M173.0 225.5h0M174.7 214.3h0M171.7 223.8h0M180.0 212.6h0M173.8 233.1h0M170.7 213.2h0M176.7 196.4h0M176.7 195.7h0M178.4 227.8h0M174.4 231.4h0M177.8 195.0h0M169.5 196.0h0M176.5 207.8h0M172.6 229.8h0M178.0 234.5h0M173.2 227.2h0M170.6 223.4h0M176.8 194.5h0M179.5 216.4h0M175.8 200.2h0M177.9 233.3h0M173.2 230.0h0M170.9 192.6h0M169.8 198.5h0M174.5 232.6h0M176.0 214.4h0M171.4 209.1h0M174.3 232.8h0M173.0 223.1h0M169.5 204.2h0M169.1 227.1h0M174.3 194.1h0M174.6 189.0h0M180.4 234.2h0M175.4 218.5h0M168.1 212.4h0M168.2 226.0h0M172.1 197.6h0M171.5 203.5h0M179.5 191.5h0M170.9 194.5h0M172.9 202.9h0M178.1 221.8h0M173.3 191.1h0M174.7 233.0h0M170.2 234.6h0M170.0 229.3h0M179.3 204.2h0M172.3 204.1h0M173.9 220.0h0M171.5 220.3h0M168.0 211.4h0M178.7 235.4h0M170.6 208.9h0M169.9 230.8h0M176.3 205.7h0M176.9 219.4h0M177.8 201.4h0M177.5 194.0h0M174.6 194.3h0M175.9 210.4h0M175.9 215.8h0M180.3 207.5h0M168.7 222.0h0M170.8 230.2h0M168.8 213.1h0M172.3 228.8h0M173.7 215.5h0M169.5 196.5h0M172.3 202.7h0M175.0 206.6h0M179.7 192.4h0M177.5 207.5h0M175.8 204.1h0M171.1 213.2h0M173.8 226.9h0M177.3 209.6h0M168.7 210.7h0M169.4 206.5h0M170.7 202.2h0M170.9 215.7h0M172.0 234.3h0M175.5 189.8h0M180.5 224.8h0M170.7 225.8h0M177.9 217.1h0M170.5 197.8h0M168.7 215.3h0M179.6 196.2h0M179.1 231.3h0M171.8 210.5h0M179.1 192.3h0M171.6 224.2h0M170.9 220.7h0M174.4 216.1h0M175.1 204.8h0M172.6 228.1h0M170.9 217.4h0M172.9 192.3h0M177.4 196.9h0M171.6 217.2h0M174.0 200.8h0M176.5 204.9h0M177.8 218.6h0M175.2 209.7h0M168.6 197.2h0M178.4 201.4h0M174.6 207.9h0M171.4 233.9h0M173.8 196.2h0M177.4 226.1h0M179.6 214.5h0M177.4 218.4h0M179.3 224.6h0M172.8 233.1h0M172.8 232.9h0M178.0 203.6h0M171.7 222.0h0M173.8 227.7h0M170.4 199.0h0M174.7 198.9h0M178.8 216.4h0M174.2 229.3h0M179.9 192.9h0M175.1 234.5h0M179.4 231.2h0M169.8 219.5h0M179.1 203.6h0M173.4 236.1h0M176.9 211.4h0M172.0 204.0h0M174.2 216.3h0M173.1 213.0h0M174.1 229.2h0M179.3 204.3h0M170.1 205.4h0M169.8 220.6h0M170.8 195.2h0M177.7 236.2h0M177.5 234.8h0M180.4 234.0h0M170.0 205.7h0M174.8 202.7h0M177.7 235.0h0M174.0 231.7h0M170.4 208.4h0M176.4 195.5h0M176.5 189.9h0M171.9 195.6h0M176.3 209.1h0M178.2 195.4h0M169.0 213.0h0M174.3 198.7h0M171.1 210.9h0M178.3 208.7h0M177.7 216.1h0M169.4 212.5h0M170.9 205.0h0M172.3 194.7h0M169.7 211.0h0M173.5 201.7h0M169.7 216.2h0M178.5 207.8h0M180.1 234.5h0M170.2 208.9h0M174.5 232.0h0M174.1 190.4h0M177.6 195.5h0M179.3 202.4h0M176.6 219.4h0M177.4 195.1h0M170.9 211.7h0M179.7 215.2h0M172.0 194.2h0M178.2 194.2h0M172.3 195.7h0M178.7 192.6h0M173.5 208.1h0M176.9 205.7h0M174.5 210.3h0M172.3 232.5h0M180.3 219.6h0M169.7 193.5h0M172.3 203.1h0M172.1 236.5h0M171.9 193.1h0M177.6 207.9h0M178.3 194.1h0M177.1 218.8h0M173.8 209.5h0M174.0 204.8h0M175.0 207.6h0M170.2 231.1h0M168.6 200.3h0M177.4 212.8h0M179.7 220.8h0M172.5 194.4h0M177.3 227.5h0M178.0 199.8h0M171.4 233.8h0M178.7 223.1h0M172.6 208.7h0M179.7 199.0h0M173.2 232.5h0M179.7 203.3h0M177.0 193.7h0M173.8 198.5h0M173.2 221.4h0M176.5 203.4h0M172.2 209.0h0M171.2 220.9h0M176.2 202.9h0M171.5 236.1h0M169.8 201.0h0M177.6 233.7h0M174.4 195.9h0M174.9 219.3h0M178.5 232.8h0M178.9 230.5h0M178.6 213.1h0M179.9 201.2h0M175.7 215.6h0M173.3 209.3h0M175.5 225.1h0M176.9 212.6h0M177.7 203.4h0M177.3 229.7h0M170.5 229.2h0M174.9 214.8h0M169.6 208.7h0M174.1 206.7h0M179.3 204.8h0M177.4 224.8h0M178.4 192.7h0M177.4 203.7h0M178.8 197.1h0M180.4 232.7h0M178.0 224.0h0M173.4 229.5h0M177.3 222.9h0M168.8 215.8h0M176.4 218.1h0M168.0 211.4h0M171.6 199.2h0M170.8 199.4h0M180.1 221.7h0M179.3 232.6h0M170.4 219.6h0M172.5 220.2h0M169.7 196.2h0M178.7 200.6h0M168.0 216.3h0M180.4 211.6h0M177.2 217.3h0M177.2 226.2h0M169.4 191.0h0M178.2 233.3h0M176.0 213.6h0M168.5 211.4h0M172.3 229.6h0M172.7 228.9h0M174.5 206.3h0M179.0 197.1h0M172.0 196.0h0M179.0 220.8h0M178.7 236.3h0M170.2 210.8h0M174.7 211.3h0M173.2 203.5h0M173.2 226.3h0M169.9 233.2h0M168.1 208.3h0M180.1 224.9h0M174.3 194.1h0M169.3 210.0h0M180.2 231.6h0M174.9 227.7h0M172.7 219.9h0M170.7 209.7h0M171.7 217.9h0M168.5 227.5h0M177.9 210.0h0M175.9 220.3h0M178.0 195.8h0M173.2 225.3h0M170.0 235.1h0M170.6 210.8h0M180.0 193.6h0M179.4 198.8h0M176.9 191.4h0M171.7 236.2h0M178.7 216.2h0M176.1 228.5h0M180.1 234.0h0M172.3 195.3h0M176.2 192.6h0M179.0 201.9h0M174.7 192.7h0M173.6 197.5h0M172.5 206.5h0M172.2 220.1h0M174.2 218.5h0M172.1 215.5h0M172.8 229.6h0M173.5 191.9h0M174.3 193.6h0M179.6 201.6h0M176.4 215.3h0M173.1 209.0h0M168.6 195.5h0M171.0 199.8h0M172.5 217.9h0M180.5 217.1h0M177.6 219.0h0M168.1 222.8h0M172.6 210.4h0M170.0 197.5h0M172.7 205.2h0M170.4 192.0h0M180.0 196.9h0M178.9 225.7h0M168.1 202.0h0M178.0 203.3h0M169.0 227.3h0M176.1 213.1h0M171.3 215.0h0M168.1 200.0h0M173.5 216.6h0M176.6 225.1h0M172.5 226.2h0M174.4 196.8h0M174.3 205.7h0M168.8 200.0h0M169.7 226.5h0M176.9 206.8h0M174.2 191.1h0M171.6 222.6h0M175.8 211.8h0M175.8 226.6h0M171.8 200.4h0M173.8 190.5h0M173.8 231.5h0M170.1 215.7h0M177.6 205.8h0M170.2 190.0h0M171.8 200.2h0M174.0 217.4h0M170.8 214.8h0M177.4 235.1h0M174.4 234.9h0M175.7 233.4h0M177.6 217.0h0M168.2 196.9h0M173.9 211.5h0M170.6 230.5h0M178.4 204.9h0M170.9 198.9h0M168.9 229.9h0M168.1 216.6h0M168.1 206.3h0M177.5 212.0h0M174.1 197.7h0M169.6 234.4h0M172.1 231.5h0M168.3 195.3h0M171.7 222.6h0M175.6 222.8h0M178.9 222.1h0M169.1 231.1h0M176.3 193.9h0M178.9 233.0h0M170.7 192.7h0M179.8 212.4h0M178.8 219.2h0M174.6 207.4h0M170.0 234.8h0M175.4 232.5h0M174.1 234.1h0M170.7 201.0h0M176.9 228.1h0M178.9 196.9h0M174.4 230.0h0M171.7 212.1h0M176.3 227.8h0M179.9 225.7h0M178.0 226.8h0M171.4 217.6h0M172.2 223.5h0M168.9 226.1h0M175.4 206.2h0M172.0 202.4h0M176.0 199.6h0M179.6 199.3h0M171.5 209.1h0M169.7 233.7h0M179.5 234.1h0M176.8 208.6h0M170.1 220.9h0M180.2 210.4h0M176.6 236.5h0M177.1 215.6h0M179.0 206.5h0M178.4 228.6h0M178.0 220.0h0M173.9 221.1h0M176.4 227.9h0M168.3 198.7h0M168.6 230.3h0M171.3 197.9h0M174.2 192.7h0M179.0 227.1h0M169.9 227.8h0M178.2 204.9h0M176.3 228.8h0M174.2 217.1h0M171.6 199.4h0M179.0 204.4h0M172.2 214.4h0M170.0 208.6h0M172.6 192.6h0M179.1 234.0h0M172.8 205.5h0M176.5 219.9h0M169.4 205.9h0M173.7 224.3h0M178.6 202.1h0M174.6 216.7h0M178.4 199.8h0M178.1 193.3h0M174.5 195.5h0M177.8 236.0h0M179.3 209.0h0M170.7 230.3h0M171.5 229.7h0M172.4 218.8h0M168.7 208.4h0M172.5 212.5h0M180.0 198.5h0M177.2 205.8h0M172.7 212.8h0M174.2 208.6h0M177.7 217.4h0M168.4 220.5h0M174.4 232.1h0M180.3 215.2h0M170.6 212.6h0M175.6 213.3h0M176.6 214.6h0M178.3 204.5h0M173.7 217.1h0M170.8 234.8h0M172.9 213.3h0M174.6 220.4h0M179.7 194.7h0M172.2 202.1h0M170.2 205.8h0M168.7 231.3h0M176.1 213.2h0M172.1 229.1h0M178.7 201.5h0M174.5 199.6h0M168.5 200.8h0M179.9 213.3h0M176.9 209.7h0M174.6 233.7h0M176.0 228.2h0M170.0 194.3h0M173.8 199.8h0M174.9 194.5h0M178.4 234.4h0M173.1 200.6h0M174.6 195.0h0M171.9 231.2h0M174.4 230.3h0M173.8 206.8h0M180.3 193.2h0M170.5 209.0h0M169.5 218.8h0M179.1 213.7h0M171.1 193.1h0M171.8 208.8h0M179.0 196.0h0M172.0 197.8h0M175.1 212.8h0M177.3 234.1h0M174.1 197.9h0M174.9 191.9h0M174.3 223.5h0M172.5 223.9h0M178.0 215.2h0M179.6 191.8h0M172.7 225.6h0M177.7 218.3h0M168.7 215.4h0M178.7 213.8h0M175.7 207.7h0M173.2 235.6h0M170.2 205.2h0M171.3 215.9h0M169.1 227.4h0M180.3 193.2h0M178.6 201.6h0M170.1 211.1h0M171.1 234.5h0M172.3 208.5h0M180.3 210.0h0M171.3 211.7h0M179.7 224.5h0M172.4 228.3h0M171.9 200.9h0M171.3 221.6h0M176.5 227.1h0M174.8 200.3h0M178.8 217.8h0M176.7 228.0h0M179.6 228.4h0M171.2 225.4h0M175.0 216.4h0M169.2 196.7h0M178.9 232.4h0M172.4 222.1h0M169.1 235.3h0M168.4 206.5h0M176.1 215.7h0M174.1 207.8h0M177.6 217.8h0M179.1 192.4h0M168.4 216.5h0M173.7 199.5h0M179.2 216.8h0M173.3 212.6h0M168.9 235.8h0M175.4 194.8h0M168.8 200.7h0M170.1 228.9h0M175.5 223.4h0M174.3 194.6h0M176.5 234.2h0M178.3 194.6h0M171.4 195.1h0M168.9 208.7h0M177.0 204.5h0M179.5 202.0h0M180.0 231.3h0M170.5 222.9h0M173.8 200.9h0M175.5 224.7h0M173.3 231.9h0M179.3 192.3h0M172.4 193.6h0M171.8 202.1h0M179.7 227.4h0M172.5 193.2h0M178.3 195.4h0M172.6 200.7h0M170.8 233.5h0M171.0 233.4h0M179.3 214.4h0M179.9 215.4h0M169.0 193.8h0M178.6 231.3h0M179.4 206.0h0M177.6 201.5h0M168.7 206.3h0M171.4 208.8h0M172.0 197.2h0M171.5 231.6h0M179.0 212.0h0M171.7 227.9h0M170.7 199.6h0M168.6 209.6h0M177.7 204.2h0M177.1 191.1h0M178.3 204.4h0M178.3 205.0h0M178.0 222.1h0M173.3 206.3h0M174.2 220.4h0M178.9 215.2h0M175.7 191.6h0M168.5 230.5h0M170.9 207.0h0M171.2 194.8h0M172.9 221.3h0M177.3 223.8h0M173.7 231.2h0"/>
<path stroke="#2b60ad" stroke-width="1.70" d="M46.0 22.0h0M46.0 44.0h0M46.0 55.5h0M46.0 57.5h0M46.0 60.5h0M46.0 61.5h0M46.0 65.0h0M46.0 66.5h0M46.0 68.5h0M46.0 70.0h0M46.0 73.0h0M46.0 74.0h0M46.0 75.0h0M46.0 76.0h0M46.0 77.0h0M46.0 78.0h0M45.5 80.0h0M46.0 81.0h0M46.0 81.5h0M45.5 82.0h0M46.0 82.5h0M46.0 83.0h0M46.0 84.0h0M46.0 85.0h0M45.5 85.5h0M45.5 86.0h0M46.0 86.5h0M45.5 87.5h0M46.0 88.0h0M46.0 88.5h0M46.0 89.5h0M46.0 90.0h0M46.0 90.5h0M46.0 91.5h0M46.0 92.5h0M46.0 93.0h0M46.0 93.5h0M46.0 94.5h0M46.0 95.0h0M45.5 96.0h0M46.0 96.5h0M46.0 97.5h0M46.0 98.0h0M45.5 99.0h0M45.5 99.5h0M45.5 100.0h0M46.0 101.0h0M46.0 101.5h0M46.0 102.5h0M45.5 103.5h0M46.0 104.0h0M45.5 104.5h0M46.0 105.5h0M46.0 106.0h0M45.5 107.0h0M46.0 108.0h0M46.0 108.5h0M45.5 109.0h0M45.5 109.5h0M45.5 110.5h0M46.0 111.0h0M46.0 111.5h0M46.0 112.0h0M46.0 112.5h0M46.0 113.5h0M46.0 114.0h0M45.5 114.5h0M46.0 115.0h0M45.5 115.5h0M46.0 116.5h0M46.0 117.0h0M46.0 117.5h0M45.5 118.5h0M46.0 119.5h0M46.0 120.0h0M46.0 121.0h0M46.0 121.5h0M46.0 122.0h0M46.0 122.5h0M45.5 123.5h0M45.5 124.0h0M46.0 125.0h0M46.0 125.5h0M46.0 126.0h0M46.0 127.0h0M46.0 127.5h0M46.0 128.0h0M46.0 129.0h0M45.5 129.5h0M45.5 130.5h0M46.0 131.0h0M45.5 132.0h0M46.0 132.5h0M46.0 133.0h0M45.5 134.0h0M45.5 134.5h0M46.0 135.0h0M46.0 136.0h0M46.0 136.5h0M46.0 137.0h0M45.5 138.0h0M45.5 138.5h0M46.0 139.5h0M46.0 140.0h0M46.0 141.0h0M45.5 141.5h0M46.0 142.0h0M46.0 142.5h0M46.0 143.5h0M46.0 144.0h0M46.0 145.0h0M46.0 145.5h0M46.0 146.0h0M45.5 147.0h0M45.5 147.5h0M46.0 148.0h0M46.0 149.0h0M46.0 150.0h0M46.0 150.5h0M46.0 151.5h0M46.0 152.0h0M45.5 153.0h0M45.5 153.5h0M45.5 154.5h0M46.0 155.0h0M46.0 155.5h0M46.0 156.0h0M46.0 156.5h0M46.0 157.0h0M45.5 158.0h0M46.0 159.0h0M46.0 159.5h0M46.0 160.0h0M45.5 160.5h0M46.0 161.5h0M46.0 162.0h0M45.5 163.0h0M45.5 164.0h0M45.5 164.5h0M46.0 165.0h0M45.5 165.5h0M46.0 166.5h0M46.0 167.0h0M46.0 167.5h0M46.0 168.0h0M46.0 168.5h0M46.0 169.5h0M46.0 170.0h0M46.0 170.5h0M45.5 171.0h0M45.5 172.0h0M46.0 172.5h0M45.5 173.5h0M45.5 174.0h0M46.0 174.5h0M45.5 175.5h0M46.0 176.5h0M46.0 177.0h0M46.0 177.5h0M45.5 178.0h0M45.5 178.5h0M46.0 179.5h0M46.0 180.0h0M46.0 181.0h0M45.5 181.5h0M45.5 182.5h0M46.0 183.0h0M45.5 184.0h0M46.0 184.5h0M46.0 185.5h0M46.0 186.5h0M45.5 187.0h0M46.0 187.5h0M46.0 188.5h0M45.5 189.0h0M46.0 190.0h0M45.5 190.5h0M45.5 191.5h0M45.5 192.0h0M46.0 193.0h0M46.0 193.5h0M46.0 194.0h0M46.0 195.0h0M46.0 195.5h0M46.0 196.0h0M46.0 197.0h0M46.0 197.5h0M46.0 198.0h0M46.0 198.5h0M46.0 199.0h0M46.0 200.0h0M45.5 200.5h0M46.0 201.5h0M46.0 202.5h0M46.0 203.0h0M46.0 203.5h0M46.0 204.0h0M45.5 205.0h0M46.0 205.5h0M46.0 206.0h0M46.0 206.5h0M46.0 207.5h0M46.0 208.0h0M46.0 208.5h0M46.0 209.0h0M45.5 210.0h0M45.5 210.5h0M46.0 211.0h0M46.0 212.0h0M46.0 212.5h0M46.0 213.0h0M46.0 214.0h0M45.5 214.5h0M46.0 215.5h0M46.0 216.0h0M46.0 217.0h0M45.5 217.5h0M46.0 218.0h0M46.0 218.5h0M45.5 219.5h0M45.5 220.0h0M46.0 220.5h0M46.0 221.5h0M46.0 222.0h0M46.0 222.5h0M46.0 223.5h0M45.5 224.0h0M46.0 225.0h0M46.0 225.5h0M45.5 226.5h0M46.0 227.0h0M46.0 228.0h0M46.0 229.0h0M45.5 229.5h0M46.0 230.0h0M46.0 231.0h0M46.0 232.0h0M45.5 232.5h0M46.0 233.5h0M46.0 234.0h0M45.5 234.5h0M46.0 235.5h0M45.0 160.0h0M45.0 160.5h0M45.0 161.5h0M45.0 162.0h0M45.0 163.0h0M45.0 163.5h0M45.0 164.0h0M45.0 164.5h0M45.0 165.5h0M45.0 166.0h0M45.0 166.5h0M45.0 167.5h0M45.0 168.5h0M45.0 169.0h0M45.0 169.5h0M45.0 170.5h0M45.0 171.0h0M45.0 171.5h0M45.0 172.5h0M45.0 173.5h0M45.0 174.5h0M45.0 175.0h0M45.0 175.5h0M45.0 176.5h0M45.0 177.0h0M45.0 177.5h0M45.0 178.0h0M45.0 179.0h0M45.0 179.5h0M45.0 180.0h0M45.0 180.5h0M45.0 181.5h0M45.0 182.5h0M45.0 183.0h0M45.0 184.0h0M45.0 184.5h0M45.0 185.5h0M45.0 186.0h0M45.0 187.0h0M45.0 187.5h0M45.0 188.0h0M45.0 189.0h0M45.0 189.5h0M45.0 190.5h0M45.0 191.0h0M45.0 191.5h0M45.0 192.5h0M45.0 193.0h0M45.0 194.0h0M45.0 194.5h0M45.0 195.0h0M45.0 196.0h0M45.0 196.5h0M45.0 197.5h0M45.0 198.0h0M45.0 198.5h0M45.0 199.5h0M45.0 200.5h0M45.0 201.0h0M45.0 202.0h0M45.0 202.5h0M45.0 203.5h0M45.0 204.0h0M45.0 204.5h0M45.0 205.0h0M45.0 205.5h0M45.0 206.0h0M45.0 207.0h0M45.0 207.5h0M45.0 208.5h0M45.0 209.0h0M45.0 209.5h0M45.0 210.0h0M45.0 211.0h0M45.0 211.5h0M45.0 212.5h0M45.0 213.5h0M45.0 214.0h0M45.0 215.0h0M45.0 215.5h0M45.0 216.0h0M45.0 217.0h0M45.0 217.5h0M45.0 218.0h0M45.0 219.0h0M45.0 220.0h0M45.0 220.5h0M45.0 221.0h0M45.0 222.0h0M45.0 222.5h0M45.0 223.0h0M45.0 224.0h0M45.0 224.5h0M45.0 225.0h0M45.0 226.0h0M45.0 227.0h0M45.0 227.5h0M45.0 228.0h0M45.0 229.0h0M45.0 229.5h0M45.0 230.5h0M45.0 231.0h0M45.0 231.5h0M45.0 232.5h0M45.0 233.0h0M45.0 233.5h0M45.0 234.5h0M45.0 235.0h0M46.5 175.0h0M46.5 176.0h0M46.5 176.5h0M46.5 177.5h0M46.5 178.5h0M46.5 179.0h0M46.5 180.0h0M46.5 180.5h0M46.5 181.0h0M46.5 181.5h0M46.5 182.5h0M46.5 183.0h0M46.5 184.0h0M46.5 184.5h0M46.5 185.5h0M46.5 186.5h0M46.5 187.0h0M46.5 187.5h0M46.5 188.0h0M46.5 189.0h0M46.5 190.0h0M46.5 190.5h0M46.5 191.0h0M46.5 191.5h0M46.5 192.5h0M46.5 193.0h0M46.5 193.5h0M46.5 194.0h0M46.5 195.0h0M46.5 195.5h0M46.5 196.0h0M46.5 197.0h0M46.5 197.5h0M46.5 198.5h0M46.5 199.0h0M46.5 199.5h0M46.5 200.5h0M46.5 201.0h0M46.5 201.5h0M46.5 202.0h0M46.5 202.5h0M46.5 203.0h0M46.5 204.0h0M46.5 204.5h0M46.5 205.5h0M46.5 206.0h0M46.5 207.0h0M46.5 207.5h0M46.5 208.5h0M46.5 209.0h0M46.5 209.5h0M46.5 210.0h0M46.5 211.0h0M46.5 212.0h0M46.5 212.5h0M46.5 213.5h0M46.5 214.5h0M46.5 215.0h0M46.5 215.5h0M46.5 216.0h0M46.5 216.5h0M46.5 217.0h0M46.5 218.0h0M46.5 218.5h0M46.5 219.5h0M46.5 220.0h0M46.5 221.0h0M46.5 221.5h0M46.5 222.0h0M46.5 223.0h0M46.5 223.5h0M46.5 224.0h0M46.5 225.0h0M46.5 225.5h0M46.5 226.0h0M46.5 227.0h0M46.5 227.5h0M46.5 228.0h0M46.5 229.0h0M46.5 229.5h0M46.5 230.0h0M46.5 230.5h0M46.5 231.5h0M46.5 232.0h0M46.5 233.0h0M46.5 234.0h0M46.5 234.5h0M46.5 235.5h0M47.0 146.0h0M50.0 147.5h0M50.0 164.0h0M50.0 171.0h0M50.0 193.5h0M50.0 196.5h0M49.5 197.0h0M49.5 203.5h0M49.5 204.0h0M49.5 210.5h0M49.5 217.0h0M49.5 219.0h0M49.5 222.0h0M49.5 222.5h0M49.5 226.5h0M49.5 230.5h0M49.5 232.5h0M49.5 233.0h0M56.0 160.0h0M56.0 185.5h0M56.0 203.0h0M56.0 212.0h0M56.0 220.0h0M56.0 220.5h0M56.0 221.5h0M56.0 230.5h0M60.5 127.5h0M60.5 139.5h0M60.5 145.0h0M60.5 160.5h0M60.5 164.5h0M60.5 174.0h0M60.5 177.5h0M60.5 200.0h0M60.5 208.0h0M59.0 204.0h0M59.5 209.5h0M59.5 210.5h0M59.0 211.0h0M59.5 211.5h0M59.5 213.0h0M59.5 214.0h0M59.5 215.0h0M59.5 215.5h0M59.5 216.0h0M59.5 219.0h0M59.5 221.5h0M59.5 222.5h0M59.5 223.0h0M59.0 225.0h0M59.5 225.5h0M59.5 226.0h0M59.5 227.0h0M59.5 227.5h0M59.0 228.5h0M59.0 230.5h0M59.0 231.0h0M59.5 232.5h0M59.0 235.0h0M60.5 212.0h0M60.5 213.0h0M60.5 221.5h0M60.5 222.0h0M60.5 223.0h0M60.5 224.0h0M60.5 226.5h0M60.5 227.5h0M60.5 228.0h0M60.5 231.5h0M60.5 233.0h0M60.5 234.0h0M65.0 108.5h0M65.0 109.0h0M65.0 127.5h0M65.0 128.5h0M65.0 143.5h0M65.0 151.0h0M65.0 155.0h0M65.0 159.0h0M65.0 166.0h0M65.0 170.5h0M65.0 174.0h0M65.0 176.0h0M65.0 179.5h0M65.0 183.5h0M65.0 185.0h0M65.0 188.0h0M65.0 199.5h0M65.0 204.0h0M65.0 209.0h0M65.0 213.0h0M64.5 216.0h0M64.5 216.5h0M64.5 217.5h0M64.5 218.0h0M64.5 218.5h0M64.5 219.0h0M64.5 220.0h0M64.5 220.5h0M64.5 221.5h0M64.5 222.5h0M64.5 223.0h0M64.5 223.5h0M64.5 224.5h0M64.5 225.0h0M64.5 225.5h0M64.5 226.0h0M64.5 227.0h0M64.5 227.5h0M64.5 228.5h0M64.5 229.0h0M64.5 229.5h0M64.5 230.5h0M64.5 231.0h0M64.5 231.5h0M64.5 232.5h0M64.5 233.5h0M64.5 234.0h0M64.5 234.5h0M64.5 235.5h0M63.0 155.5h0M70.5 129.0h0M70.5 144.0h0M70.5 149.5h0M70.5 182.0h0M70.5 205.0h0M70.5 210.0h0M70.5 216.0h0M70.5 222.0h0M70.0 224.0h0M70.0 225.5h0M70.0 228.0h0M70.0 232.0h0M69.5 233.5h0M70.0 234.5h0M73.0 221.0h0M72.5 222.0h0M73.0 223.0h0M72.5 225.5h0M73.0 226.5h0M73.0 229.0h0M72.5 232.5h0M72.5 233.0h0M75.0 226.0h0M75.0 229.0h0M75.0 231.0h0M75.0 233.0h0M75.0 235.0h0M52.5 226.0h0M52.5 230.5h0M52.5 231.5h0M52.5 234.0h0M52.5 235.5h0M67.5 226.0h0M67.5 227.5h0M67.5 231.0h0M67.5 232.0h0M67.5 234.0h0M67.5 235.5h0M79.0 99.5h0M79.0 100.5h0M79.0 115.0h0M79.0 118.5h0M79.0 132.0h0M79.0 133.5h0M79.0 135.0h0M79.0 148.0h0M79.0 162.0h0M79.0 165.0h0M79.0 179.0h0M79.0 208.0h0M79.0 213.0h0M79.0 217.0h0M78.5 222.5h0M79.0 230.5h0M79.0 231.5h0M78.5 232.5h0M84.0 224.0h0M84.0 224.5h0M84.0 225.5h0M84.0 226.0h0M84.0 227.0h0M84.0 228.5h0M84.0 233.0h0M87.5 228.0h0M87.5 233.0h0M90.0 229.0h0M93.5 100.5h0M93.5 119.0h0M93.5 121.0h0M93.5 135.0h0M93.5 139.5h0M93.5 141.5h0M93.5 147.5h0M93.5 161.5h0M93.5 162.5h0M94.5 143.0h0M94.5 159.0h0M94.0 203.0h0M94.0 203.5h0M93.5 205.5h0M93.5 206.5h0M94.0 207.5h0M93.5 209.0h0M93.5 210.0h0M93.5 211.5h0M94.0 213.5h0M94.0 214.5h0M94.0 216.0h0M93.5 217.0h0M94.0 218.5h0M93.5 221.5h0M93.5 222.5h0M94.0 223.5h0M94.0 224.0h0M93.5 225.5h0M93.5 228.0h0M93.5 228.5h0M93.5 229.5h0M93.5 230.0h0M93.5 231.0h0M95.0 214.0h0M95.0 216.0h0M95.0 218.0h0M95.0 218.5h0M95.0 222.5h0M95.0 223.0h0M95.0 229.0h0M103.0 122.5h0M103.0 127.5h0M103.0 128.5h0M103.0 139.5h0M103.0 141.5h0M103.0 143.5h0M103.0 145.0h0M103.0 148.5h0M103.0 160.5h0M103.0 164.5h0M103.0 174.0h0M103.0 190.5h0M104.5 195.5h0M102.0 206.0h0M102.0 206.5h0M102.5 207.5h0M102.5 208.0h0M102.5 209.0h0M102.5 209.5h0M102.5 210.5h0M102.5 212.0h0M102.5 212.5h0M102.5 213.5h0M102.5 214.0h0M102.5 216.5h0M102.5 218.0h0M102.5 218.5h0M102.5 222.0h0M102.0 223.0h0M102.0 224.0h0M102.0 224.5h0M102.0 225.5h0M102.0 227.0h0M102.5 230.5h0M102.0 233.0h0M102.5 233.5h0M104.0 216.0h0M104.0 217.0h0M104.0 219.0h0M104.0 219.5h0M104.0 220.0h0M104.0 221.5h0M104.0 225.0h0M104.0 226.5h0M104.0 227.0h0M104.0 231.5h0M104.0 233.0h0M104.0 233.5h0M110.0 168.5h0M110.0 189.0h0M110.0 205.0h0M107.5 213.0h0M107.5 213.5h0M108.5 216.5h0M108.0 217.0h0M108.0 228.0h0M108.0 231.0h0M107.5 233.0h0M110.0 218.0h0M110.0 222.0h0M110.0 227.0h0M110.0 227.5h0M110.0 228.5h0M110.0 231.5h0M110.0 234.0h0M110.0 234.5h0M113.0 127.5h0M113.0 154.5h0M113.0 166.0h0M113.0 174.0h0M113.0 179.5h0M113.0 196.0h0M113.0 210.5h0M112.5 212.0h0M113.0 217.0h0M113.0 218.0h0M113.0 220.5h0M113.0 221.5h0M113.0 223.0h0M113.0 233.5h0M116.0 219.0h0M116.0 223.5h0M116.0 224.5h0M116.5 231.0h0M115.5 234.0h0M116.5 235.0h0M98.5 228.0h0M98.5 229.5h0M98.5 231.5h0M98.5 232.0h0M106.0 226.0h0M106.0 232.0h0M106.0 235.0h0M121.0 73.0h0M121.0 85.0h0M121.0 92.0h0M121.0 101.5h0M121.0 184.5h0M121.0 189.5h0M121.0 195.5h0M121.0 206.0h0M121.0 211.0h0M121.5 216.0h0M121.0 217.5h0M121.0 218.5h0M120.5 219.5h0M121.0 221.0h0M121.0 221.5h0M120.5 222.0h0M121.0 223.0h0M121.0 223.5h0M121.0 226.5h0M121.0 228.5h0M121.0 229.5h0M121.0 230.5h0M121.0 231.0h0M121.0 232.5h0M125.5 145.5h0M125.5 161.0h0M125.5 178.0h0M125.5 182.5h0M123.5 222.0h0M123.5 223.5h0M123.5 224.5h0M123.5 225.5h0M123.5 226.0h0M123.5 229.5h0M128.0 121.5h0M128.0 127.5h0M128.0 135.5h0M128.0 138.5h0M128.0 143.5h0M128.0 145.0h0M128.0 151.0h0M128.0 156.5h0M128.0 157.5h0M128.0 165.0h0M128.0 168.5h0M128.0 172.0h0M128.0 178.0h0M128.0 182.5h0M128.0 186.5h0M128.0 189.0h0M128.0 190.5h0M128.0 195.5h0M127.5 197.0h0M128.0 197.5h0M128.0 198.5h0M128.0 199.5h0M128.0 200.5h0M127.5 201.5h0M128.0 203.5h0M128.0 204.5h0M128.0 205.0h0M127.5 207.0h0M128.0 207.5h0M128.0 208.5h0M128.0 209.0h0M128.0 211.0h0M127.5 211.5h0M127.5 212.5h0M128.0 214.5h0M127.5 216.0h0M127.5 217.0h0M128.0 217.5h0M128.0 220.0h0M128.0 226.0h0M127.5 227.0h0M128.0 227.5h0M127.5 228.5h0M128.0 229.5h0M128.0 230.0h0M128.0 231.0h0M131.0 151.5h0M131.0 157.0h0M131.0 164.0h0M131.0 168.5h0M131.0 170.5h0M131.0 171.5h0M131.0 188.0h0M131.0 190.5h0M131.0 193.5h0M131.0 197.0h0M131.0 199.0h0M131.0 200.0h0M131.0 202.0h0M131.0 206.0h0M131.0 207.0h0M131.5 209.0h0M131.0 209.5h0M130.5 210.0h0M131.0 211.0h0M131.0 211.5h0M131.5 212.5h0M130.5 213.0h0M131.0 213.5h0M131.0 215.0h0M131.0 216.0h0M131.0 216.5h0M130.5 217.5h0M130.5 219.0h0M131.5 219.5h0M130.0 220.5h0M130.5 221.5h0M130.5 223.0h0M132.0 223.5h0M131.0 224.5h0M132.0 225.0h0M131.0 226.0h0M130.0 227.5h0M130.5 230.0h0M130.5 233.0h0M131.0 234.0h0M133.5 214.0h0M133.5 216.5h0M134.0 220.5h0M133.5 221.5h0M133.5 222.0h0M133.5 223.5h0M133.0 224.5h0M133.5 225.5h0M133.5 226.0h0M133.5 227.0h0M133.5 227.5h0M134.0 228.5h0M134.0 229.0h0M133.5 232.5h0M134.0 235.0h0M136.0 224.0h0M135.5 224.5h0M136.5 226.5h0M135.5 228.0h0M136.5 230.0h0M136.0 230.5h0M136.0 231.0h0M135.5 233.0h0M135.5 234.0h0M139.0 227.0h0M139.0 227.5h0M138.5 229.0h0M138.5 230.0h0M139.0 232.5h0M145.5 68.0h0M145.5 77.0h0M145.5 81.0h0M145.5 90.5h0M145.5 105.5h0M145.5 108.0h0M145.5 111.0h0M145.5 126.0h0M145.5 208.0h0M145.5 220.5h0M145.5 229.0h0M128.0 121.5h0M151.5 212.5h0M148.5 216.0h0M150.0 218.5h0M152.5 218.0h0M154.5 225.5h0M153.0 231.0h0M151.0 233.0h0M147.5 227.0h0M148.0 231.5h0M149.0 234.0h0M152.0 228.0h0M157.0 55.0h0M157.0 84.0h0M157.0 146.0h0M157.0 153.0h0M157.0 159.5h0M157.0 181.5h0M157.0 183.5h0M157.0 187.5h0M157.0 190.0h0M157.0 193.5h0M157.0 197.0h0M158.5 144.5h0M158.0 200.0h0M157.5 201.0h0M157.5 201.5h0M157.5 202.0h0M158.0 203.0h0M157.0 203.5h0M157.5 204.0h0M157.5 205.5h0M158.0 206.5h0M157.5 207.5h0M157.5 208.0h0M157.5 208.5h0M157.5 210.5h0M157.0 211.5h0M157.5 212.0h0M157.0 213.0h0M158.0 214.0h0M158.0 214.5h0M157.0 215.5h0M157.5 216.0h0M157.5 217.0h0M157.5 217.5h0M158.0 218.0h0M157.5 219.0h0M157.5 219.5h0M157.0 220.0h0M157.5 221.0h0M157.5 221.5h0M157.5 222.5h0M157.5 223.0h0M157.5 224.0h0M157.5 224.5h0M157.5 225.5h0M157.0 227.0h0M157.5 227.5h0M157.0 229.0h0M157.0 231.0h0M157.5 231.5h0M158.0 233.0h0M157.5 234.0h0M157.0 235.5h0M158.5 208.0h0M158.5 208.5h0M158.5 215.5h0M158.5 218.5h0M158.5 221.0h0M158.5 222.5h0M158.5 225.0h0M158.5 226.5h0M158.5 227.0h0M158.5 231.0h0M158.5 232.5h0M158.5 235.0h0M160.5 177.5h0M160.5 190.0h0M160.5 207.0h0M161.0 91.0h0M161.0 154.5h0M143.0 228.0h0M143.0 232.0h0M143.0 234.5h0M141.0 230.0h0M166.0 174.5h0M166.0 175.5h0M166.0 179.5h0M166.0 182.5h0M166.0 186.5h0M166.0 194.5h0M166.0 196.5h0M166.0 198.0h0M165.5 199.0h0M165.5 200.0h0M166.0 200.5h0M166.0 201.0h0M165.5 202.0h0M165.5 202.5h0M165.5 203.5h0M166.0 204.5h0M166.0 205.0h0M166.0 205.5h0M165.5 206.0h0M166.0 206.5h0M165.5 207.5h0M165.5 208.5h0M165.5 209.5h0M166.0 210.0h0M165.5 210.5h0M165.5 211.5h0M165.5 212.0h0M166.0 213.0h0M166.0 213.5h0M165.5 214.5h0M166.0 215.0h0M165.5 216.0h0M166.0 216.5h0M166.0 217.5h0M166.0 218.0h0M166.0 218.5h0M166.0 219.0h0M165.5 220.0h0M166.0 220.5h0M165.5 221.0h0M165.5 222.0h0M166.0 222.5h0M165.5 223.5h0M166.0 224.0h0M165.5 225.0h0M166.0 225.5h0M165.5 226.0h0M166.0 227.0h0M165.5 228.0h0M166.0 228.5h0M165.5 229.0h0M166.0 229.5h0M166.0 230.0h0M166.0 231.0h0M165.5 232.0h0M165.5 232.5h0M166.0 233.0h0M166.0 234.0h0M166.0 234.5h0M166.0 235.5h0M163.0 222.0h0M163.0 226.0h0M163.0 229.0h0M163.0 232.0h0M163.0 233.5h0M163.0 234.0h0M171.5 185.0h0M179.5 186.0h0M171.0 189.5h0M173.5 182.0h0M171.0 189.0h0M173.5 187.0h0M177.5 190.0h0M171.5 190.0h0M174.5 185.0h0M178.0 184.0h0M171.0 176.5h0M169.0 191.0h0M176.5 185.0h0M173.5 185.5h0M174.0 188.0h0M172.5 188.0h0M170.5 187.5h0M171.0 188.0h0M180.0 182.0h0M178.5 189.5h0M178.5 190.5h0M171.5 189.0h0M171.5 188.0h0M172.5 185.5h0M169.0 186.0h0M172.5 189.0h0M178.5 184.0h0M178.0 179.5h0M174.5 187.5h0M178.0 187.0h0M172.0 187.0h0M174.0 184.0h0M179.0 182.5h0M170.0 189.0h0M174.0 189.5h0M172.5 190.0h0M177.0 189.0h0M171.0 184.5h0M172.0 186.0h0M176.5 185.0h0M170.0 190.5h0M178.5 188.0h0M172.5 187.5h0M169.5 188.5h0M178.0 173.0h0M172.5 185.5h0M180.0 180.0h0M174.5 177.0h0M175.5 186.0h0M175.5 188.5h0M173.5 187.0h0M178.0 186.0h0M173.0 177.0h0M170.0 190.5h0M173.0 175.5h0M174.5 187.5h0M178.5 189.5h0M178.5 190.0h0M176.0 177.0h0M176.0 188.5h0M171.5 185.0h0M172.0 181.5h0M174.0 189.0h0M177.5 183.5h0M177.0 190.0h0M173.5 187.0h0M179.5 191.0h0M174.0 188.0h0M176.5 187.0h0M172.5 187.5h0M175.5 189.5h0M172.5 189.0h0M172.0 188.5h0M172.0 188.5h0M177.0 188.5h0M180.0 191.0h0M172.5 185.5h0M176.5 188.0h0M172.5 185.5h0M173.5 183.5h0M179.5 190.5h0M177.0 188.5h0M175.5 179.5h0M176.5 180.0h0M173.0 188.5h0M175.5 187.5h0M175.0 188.5h0M171.5 187.5h0M170.5 190.0h0M170.0 188.0h0M171.0 189.5h0M179.0 187.0h0M174.5 188.0h0M175.0 183.0h0M173.0 189.0h0M171.0 187.0h0M174.5 178.5h0M171.5 186.5h0M173.5 188.5h0M177.5 188.0h0M171.5 188.5h0M174.0 189.0h0M180.5 189.0h0M173.0 189.0h0M170.5 190.0h0M170.0 189.0h0M176.5 181.0h0M172.0 184.5h0M177.5 190.0h0M171.5 189.5h0M179.0 183.5h0M169.5 190.5h0M171.0 187.5h0M174.0 178.5h0M178.5 189.0h0M172.0 187.5h0M173.5 183.5h0M171.0 184.5h0M176.0 187.5h0M180.0 189.5h0M178.0 173.5h0M174.0 183.5h0M178.5 189.0h0M174.5 179.5h0M178.0 188.5h0M178.0 190.0h0M173.5 186.5h0M172.5 190.0h0M175.5 185.5h0M176.5 189.0h0M170.0 191.0h0M175.5 189.5h0M171.5 188.0h0M173.5 185.5h0M170.5 188.5h0M174.0 188.5h0M179.5 176.0h0M180.0 190.0h0M169.5 188.5h0M179.5 189.0h0M172.5 184.5h0M175.5 185.5h0M177.0 186.5h0M178.5 186.5h0M177.5 190.0h0M174.5 180.0h0M174.5 184.5h0M175.0 178.0h0M170.0 190.5h0M171.0 184.5h0M180.5 190.5h0M172.5 189.0h0M176.0 184.0h0M172.0 184.5h0M174.0 187.0h0M173.0 187.5h0M169.5 191.5h0M180.0 190.0h0M173.0 176.0h0M172.5 189.5h0M179.0 188.0h0M176.5 188.0h0M170.5 190.0h0M178.0 186.5h0M176.5 183.5h0M175.5 184.5h0M171.0 190.0h0M174.0 182.5h0M171.5 185.5h0M178.5 183.5h0M170.5 190.5h0M178.5 189.5h0M169.5 189.5h0M177.0 181.5h0M177.5 185.5h0M173.0 180.0h0M172.0 188.0h0M170.5 188.5h0M177.0 186.5h0M173.5 189.5h0M176.5 189.5h0M178.0 185.5h0M179.0 185.0h0M178.0 188.5h0M180.0 186.5h0M175.5 187.5h0M179.0 185.5h0M175.5 185.5h0M171.5 180.5h0M172.5 188.0h0M177.5 182.0h0M173.0 188.5h0M175.0 186.5h0M173.5 188.0h0M169.0 185.5h0M173.0 181.0h0M176.5 189.0h0M171.0 189.0h0M171.5 190.0h0M178.0 187.0h0M171.0 188.5h0M177.0 181.0h0M174.0 188.5h0M169.5 189.5h0M172.0 190.0h0M175.0 184.5h0M178.5 162.5h0M178.5 166.0h0M178.5 167.5h0M177.5 170.5h0M171.0 171.5h0M172.0 172.5h0M173.5 154.5h0M171.0 156.0h0M183.5 214.0h0M183.5 226.0h0M183.5 229.5h0M183.5 205.0h0M187.5 134.5h0M187.5 136.5h0M187.5 145.5h0M187.5 150.5h0M187.5 152.0h0M187.5 157.0h0M187.5 158.0h0M187.5 159.5h0M187.5 163.5h0M187.5 165.5h0M187.5 167.0h0M187.5 170.5h0M187.5 173.5h0M187.5 174.0h0M187.5 177.0h0M187.5 178.5h0M187.5 179.5h0M187.5 183.0h0M187.5 184.5h0M187.5 190.0h0M187.5 192.0h0M187.5 193.5h0M187.5 197.5h0M187.5 199.5h0M187.5 202.0h0M187.5 205.5h0M187.5 207.0h0M187.5 209.5h0M187.5 213.5h0M187.5 216.0h0M187.5 219.0h0M187.5 222.0h0M187.5 225.5h0M187.5 229.0h0M187.5 232.0h0M190.0 152.0h0M190.0 167.0h0M190.0 178.5h0M190.0 182.5h0M190.0 184.0h0M190.0 193.5h0M190.0 197.5h0M190.0 209.0h0M190.0 214.5h0M190.0 221.0h0M190.0 226.0h0M190.0 231.0h0M193.0 211.5h0M193.0 226.0h0M192.0 224.0h0M192.0 224.5h0M192.0 225.5h0M192.0 226.0h0M192.0 227.0h0M192.0 228.0h0M192.0 229.0h0M195.0 182.5h0M195.0 204.0h0M195.0 207.0h0M195.0 218.0h0M195.0 220.0h0M195.0 222.0h0M195.0 226.0h0M195.0 227.5h0M194.5 230.5h0M195.0 232.0h0M195.5 232.5h0M196.5 233.0h0M194.5 234.0h0M197.5 229.0h0M197.5 230.0h0M197.5 234.5h0M200.5 230.0h0M200.5 232.0h0M204.0 231.0h0M204.0 233.0h0M207.0 205.5h0M209.5 161.5h0M209.5 167.0h0M209.5 169.5h0M209.5 180.5h0M209.5 187.5h0M209.5 192.5h0M209.5 204.5h0M209.5 207.0h0M209.5 215.0h0M209.5 222.5h0M209.5 225.5h0M209.5 226.5h0M209.5 230.0h0M209.5 233.5h0M212.0 229.0h0M212.0 233.0h0M218.0 173.0h0M218.0 191.5h0M218.0 199.0h0M218.0 208.5h0M218.0 221.0h0M218.0 224.5h0M218.0 226.0h0M218.0 229.0h0M218.0 229.5h0M218.0 230.5h0M218.0 231.0h0M218.0 232.5h0M218.0 235.0h0M220.5 187.5h0M220.5 200.0h0M220.5 202.5h0M220.5 211.0h0M220.5 213.0h0M220.5 215.0h0M220.5 219.0h0M220.5 222.0h0M220.5 226.0h0M220.5 230.0h0M220.5 234.0h0M222.5 44.5h0M222.5 81.0h0M222.5 102.5h0M222.5 121.5h0M222.5 177.5h0M222.5 189.5h0M222.5 191.0h0M222.5 202.0h0M222.5 204.0h0M222.5 207.0h0M222.5 210.0h0M222.5 214.0h0M222.5 218.0h0M222.5 221.0h0M222.5 224.0h0M222.5 228.0h0M222.5 231.0h0M222.5 234.0h0M225.5 129.0h0M227.0 136.5h0M228.5 141.0h0M225.5 149.5h0M226.5 153.0h0M228.0 155.5h0M226.5 168.0h0M226.0 177.0h0M227.0 178.0h0M228.5 169.5h0M228.5 181.5h0M227.0 190.0h0M228.5 198.5h0M225.5 205.5h0M225.5 220.5h0M228.5 210.5h0M225.5 226.0h0M225.5 227.5h0M225.5 229.0h0M225.5 230.5h0M225.5 231.0h0M225.5 232.5h0M227.5 224.0h0M227.5 226.0h0M231.0 168.0h0M231.0 173.0h0M231.0 191.5h0M231.0 195.0h0M231.0 196.5h0M231.0 198.0h0M231.0 199.0h0M231.0 200.0h0M231.0 201.0h0M231.0 202.0h0M231.0 202.5h0M231.0 203.5h0M231.0 205.5h0M231.0 206.5h0M231.0 207.0h0M231.0 208.0h0M231.0 215.0h0M230.5 216.0h0M231.0 216.5h0M230.5 217.0h0M231.0 218.0h0M230.5 218.5h0M231.0 219.5h0M231.0 220.0h0M231.0 220.5h0M231.0 221.0h0M231.0 221.5h0M230.5 222.5h0M231.0 223.0h0M231.0 224.0h0M230.5 224.5h0M230.5 225.5h0M230.5 226.0h0M230.5 227.0h0M231.0 227.5h0M230.5 228.5h0M231.0 229.5h0M231.0 230.0h0M231.0 231.0h0M230.5 232.0h0M231.0 232.5h0M230.5 233.5h0M231.0 234.0h0M231.0 234.5h0M230.5 235.5h0M234.0 230.0h0M237.5 192.5h0M237.5 196.5h0M237.5 203.5h0M237.5 208.0h0M237.5 212.0h0M237.5 219.5h0M237.5 226.0h0M237.5 229.5h0M241.5 206.0h0M241.5 208.0h0M241.5 226.0h0M241.5 231.0h0M245.0 229.0h0M245.0 229.5h0M245.0 230.5h0M245.0 231.0h0M245.0 232.0h0M251.5 199.5h0M251.5 200.0h0M251.5 201.0h0M251.5 202.0h0M251.5 202.5h0M251.5 203.5h0M251.5 204.5h0M251.5 205.5h0M251.5 206.0h0M251.5 207.0h0M251.5 207.5h0M251.5 208.0h0M251.5 209.0h0M251.5 209.5h0M251.5 210.5h0M251.5 212.0h0M251.5 212.5h0M251.5 213.5h0M251.5 214.0h0M251.5 215.5h0M251.5 216.5h0M251.5 217.5h0M251.5 218.5h0M251.5 219.0h0M251.5 223.0h0M251.5 223.5h0M251.5 225.0h0M251.5 228.5h0M251.5 230.5h0M251.5 231.5h0M251.5 232.5h0M251.5 233.5h0M251.5 234.5h0M253.0 204.0h0M253.0 205.5h0M253.0 207.0h0M253.0 214.0h0M253.0 220.0h0M254.5 221.0h0M254.5 196.5h0M254.0 226.0h0M254.0 227.5h0M254.5 228.5h0M254.5 229.0h0M254.0 231.0h0M253.0 232.5h0M254.5 233.0h0M253.5 234.0h0M256.0 228.0h0M257.0 229.5h0M257.0 230.5h0M257.0 232.5h0M256.0 233.5h0M256.0 234.5h0M258.5 223.5h0M258.5 227.0h0M258.5 231.0h0M261.0 92.5h0M261.0 162.5h0M261.0 182.0h0M261.0 185.0h0M261.0 186.5h0M261.0 188.0h0M261.0 189.0h0M262.0 163.5h0M261.0 195.0h0M261.0 196.0h0M260.5 196.5h0M260.5 197.5h0M261.0 198.0h0M261.0 198.5h0M261.0 199.5h0M260.5 200.0h0M260.5 201.0h0M261.0 202.0h0M261.0 202.5h0M261.0 203.0h0M261.0 204.0h0M261.0 204.5h0M260.5 205.0h0M260.5 206.0h0M261.0 206.5h0M261.0 207.5h0M260.5 208.0h0M261.0 209.0h0M260.5 209.5h0M260.5 210.0h0M261.0 211.0h0M260.5 211.5h0M260.5 212.5h0M261.0 213.0h0M260.5 214.0h0M261.0 214.5h0M260.5 215.5h0M261.0 216.0h0M261.0 216.5h0M260.5 217.5h0M260.5 218.0h0M261.0 218.5h0M260.5 219.0h0M261.0 220.0h0M260.5 220.5h0M261.0 221.5h0M260.5 222.0h0M260.5 222.5h0M260.5 223.5h0M261.0 224.0h0M260.5 225.0h0M261.0 225.5h0M261.0 226.5h0M261.0 227.0h0M260.5 228.0h0M260.5 228.5h0M261.0 229.5h0M260.5 230.0h0M261.0 230.5h0M261.0 231.5h0M261.0 232.0h0M260.5 233.0h0M261.0 234.0h0M260.5 234.5h0M260.5 235.0h0M262.0 198.0h0M262.0 199.0h0M262.0 203.5h0M262.0 204.5h0M262.0 205.5h0M262.0 206.5h0M262.0 207.0h0M262.0 208.0h0M262.0 209.0h0M262.0 209.5h0M262.0 210.5h0M262.0 211.5h0M262.0 212.0h0M262.0 213.0h0M262.0 214.0h0M262.0 214.5h0M262.0 215.0h0M262.0 219.5h0M262.0 220.0h0M262.0 222.0h0M262.0 222.5h0M262.0 223.5h0M262.0 225.5h0M262.0 226.5h0M262.0 227.5h0M262.0 229.0h0M262.0 233.5h0M262.0 234.0h0M262.0 235.0h0M265.0 65.0h0M265.0 100.0h0M265.0 100.5h0M265.0 153.0h0M265.0 184.0h0M265.0 196.5h0M265.0 201.5h0M265.0 209.0h0M265.0 212.0h0M265.0 215.0h0M264.5 219.0h0M264.5 219.5h0M264.5 220.5h0M264.5 221.5h0M264.5 223.5h0M264.5 225.5h0M264.5 226.0h0M264.5 228.0h0M264.5 230.0h0M264.5 230.5h0M264.5 232.5h0M264.5 233.5h0M264.5 235.0h0M267.5 213.5h0M267.5 214.5h0M267.5 215.0h0M267.5 216.0h0M267.5 216.5h0M267.5 217.5h0M267.5 218.0h0M267.5 218.5h0M267.5 219.5h0M267.5 220.5h0M267.5 221.0h0M267.5 221.5h0M267.5 222.5h0M267.5 223.5h0M267.5 224.0h0M267.5 225.0h0M267.5 225.5h0M267.5 226.0h0M267.5 226.5h0M267.5 227.5h0M267.5 228.0h0M267.5 228.5h0M267.5 229.0h0M267.5 230.0h0M267.5 230.5h0M267.5 231.0h0M267.5 231.5h0M267.5 232.5h0M267.5 233.0h0M267.5 233.5h0M267.5 234.5h0M267.5 235.0h0M269.5 93.5h0M269.5 119.0h0M269.5 121.5h0M269.5 123.5h0M269.5 130.0h0M269.5 131.0h0M269.5 133.0h0M269.5 135.0h0M269.5 135.5h0M269.5 139.0h0M269.5 140.5h0M269.5 141.0h0M269.5 142.0h0M269.5 147.0h0M269.5 147.5h0M269.5 149.0h0M269.5 150.0h0M269.5 155.0h0M269.5 156.0h0M269.5 156.0h0M269.5 157.0h0M269.5 157.5h0M269.5 158.0h0M269.5 158.5h0M269.5 159.0h0M269.5 160.0h0M269.5 161.0h0M269.5 161.5h0M269.5 162.5h0M269.5 163.5h0M269.5 164.0h0M269.5 164.5h0M269.5 165.5h0M269.5 166.0h0M269.5 167.0h0M269.5 167.5h0M269.5 168.0h0M269.5 169.0h0M269.5 169.5h0M269.5 170.0h0M269.5 170.5h0M269.5 171.5h0M269.5 172.5h0M269.5 173.0h0M269.5 173.5h0M269.5 174.5h0M269.5 175.0h0M269.5 176.0h0M269.5 176.5h0M269.5 177.0h0M269.5 177.5h0M269.5 178.5h0M269.5 179.0h0M269.5 179.5h0M269.5 180.5h0M269.5 181.5h0M269.5 182.0h0M269.5 183.0h0M269.5 183.5h0M269.5 184.0h0M269.5 184.5h0M269.5 185.5h0M269.5 186.0h0M269.5 186.5h0M269.5 187.5h0M269.5 188.5h0M269.5 189.0h0M269.5 190.0h0M269.5 190.5h0M269.5 191.5h0M269.5 192.0h0M269.5 192.5h0M269.5 193.5h0M269.5 194.0h0M269.5 195.0h0M269.5 195.5h0M269.5 196.5h0M269.5 197.0h0M269.5 197.5h0M269.5 198.5h0M269.5 199.0h0M269.5 200.0h0M269.5 200.5h0M269.5 201.5h0M269.5 202.0h0M269.5 203.0h0M269.5 203.5h0M269.5 204.0h0M269.5 204.5h0M269.5 205.5h0M269.5 206.0h0M269.5 206.5h0M269.5 207.0h0M269.5 208.0h0M269.5 208.5h0M269.5 209.5h0M269.5 210.0h0M269.5 211.0h0M269.5 212.0h0M269.5 212.5h0M269.5 213.5h0M269.5 214.0h0M269.5 215.0h0M269.5 215.5h0M269.5 216.0h0M269.5 216.5h0M269.5 217.5h0M269.5 218.5h0M269.5 219.0h0M269.5 220.0h0M269.5 220.5h0M269.5 221.0h0M269.5 222.0h0M269.5 222.5h0M269.5 223.0h0M269.5 224.0h0M269.5 224.5h0M269.5 225.5h0M269.5 226.0h0M269.5 226.5h0M269.5 227.5h0M269.5 228.0h0M269.5 229.0h0M269.5 229.5h0M269.5 230.0h0M269.5 230.5h0M269.5 231.0h0M269.5 232.0h0M269.5 232.5h0M269.5 233.0h0M269.5 234.0h0M269.5 234.5h0M269.5 235.0h0M275.5 229.5h0M274.0 232.5h0M272.5 226.0h0M272.5 228.5h0M272.5 230.0h0M272.5 232.5h0M277.0 231.0h0M277.0 231.5h0M277.0 232.5h0M277.0 235.5h0M280.5 181.5h0M280.5 183.5h0M280.5 203.0h0M280.5 220.0h0M280.5 221.5h0M280.5 223.0h0M280.5 228.0h0M280.5 232.0h0M284.5 234.0h0M283.5 215.0h0M289.5 204.0h0M289.5 214.0h0M289.5 216.0h0M289.5 226.0h0M289.5 229.0h0M289.5 230.5h0M289.5 232.0h0M288.0 214.0h0M286.5 229.0h0M292.5 228.0h0M292.5 230.5h0M292.5 231.5h0M292.5 233.0h0M296.5 102.0h0M296.5 108.5h0M296.5 115.5h0M296.5 120.0h0M296.5 122.5h0M296.5 125.0h0M296.5 129.0h0M297.0 129.5h0M296.5 131.5h0M297.0 132.0h0M297.0 133.0h0M296.5 133.5h0M296.5 136.0h0M297.0 137.0h0M296.5 138.0h0M296.5 139.0h0M296.5 139.5h0M296.5 141.5h0M297.0 142.5h0M296.5 143.0h0M296.5 143.5h0M296.5 145.0h0M296.5 146.0h0M296.5 146.5h0M296.5 147.5h0M296.5 153.0h0M296.5 156.0h0M296.5 156.5h0M296.5 157.0h0M296.5 158.0h0M296.5 158.5h0M296.5 159.5h0M296.5 160.0h0M297.0 161.0h0M296.5 162.0h0M296.5 162.5h0M296.5 163.5h0M296.5 164.0h0M297.0 165.0h0M296.5 165.5h0M296.5 166.5h0M296.5 167.0h0M296.5 168.0h0M296.5 168.5h0M296.5 169.5h0M296.5 170.0h0M296.5 170.5h0M296.5 171.0h0M297.0 172.0h0M296.5 172.5h0M296.5 173.0h0M297.0 174.0h0M296.5 174.5h0M296.5 175.5h0M296.5 176.0h0M297.0 177.0h0M296.5 177.5h0M297.0 178.5h0M297.0 179.0h0M296.5 180.0h0M296.5 180.5h0M296.5 181.0h0M296.5 181.5h0M296.5 182.0h0M296.5 183.0h0M296.5 183.5h0M296.5 184.0h0M296.5 185.0h0M296.5 185.5h0M296.5 186.0h0M296.5 186.5h0M296.5 187.0h0M297.0 187.5h0M296.5 188.0h0M296.5 188.5h0M296.5 189.5h0M297.0 190.5h0M296.5 191.0h0M296.5 191.5h0M296.5 192.0h0M296.5 193.0h0M296.5 193.5h0M296.5 194.5h0M296.5 195.5h0M297.0 196.0h0M297.0 196.5h0M296.5 197.0h0M296.5 198.0h0M296.5 198.5h0M296.5 199.5h0M296.5 200.5h0M296.5 201.0h0M296.5 201.5h0M297.0 202.5h0M296.5 203.0h0M296.5 203.5h0M297.0 204.5h0M296.5 205.0h0M297.0 206.0h0M297.0 206.5h0M296.5 207.0h0M296.5 208.0h0M296.5 208.5h0M296.5 209.0h0M297.0 210.0h0M296.5 210.5h0M296.5 211.0h0M297.0 212.0h0M296.5 212.5h0M296.5 213.0h0M296.5 214.0h0M296.5 214.5h0M296.5 215.5h0M297.0 216.0h0M297.0 216.5h0M297.0 217.5h0M297.0 218.0h0M296.5 219.0h0M296.5 219.5h0M297.0 220.5h0M297.0 221.0h0M296.5 221.5h0M296.5 222.0h0M296.5 222.5h0M296.5 223.5h0M297.0 224.0h0M296.5 225.0h0M296.5 225.5h0M296.5 226.0h0M296.5 226.5h0M296.5 227.5h0M296.5 228.0h0M297.0 228.5h0M296.5 229.5h0M296.5 230.0h0M296.5 230.5h0M296.5 231.5h0M297.0 232.0h0M296.5 233.0h0M296.5 233.5h0M296.5 234.0h0M296.5 235.0h0M296.5 235.5h0M300.0 115.0h0M300.0 126.5h0M300.0 130.5h0M300.0 135.0h0M300.0 144.5h0M300.0 148.5h0M300.0 151.0h0M300.0 157.0h0M300.0 162.0h0M300.0 167.0h0M300.0 176.0h0M300.0 178.0h0M300.0 182.0h0M300.0 183.0h0M300.0 183.5h0M300.0 184.5h0M300.0 185.5h0M300.0 186.5h0M300.0 187.0h0M300.0 187.5h0M300.0 188.5h0M300.0 189.0h0M300.0 191.5h0M300.0 192.0h0M300.0 194.0h0M300.0 194.5h0M300.0 196.0h0M300.0 196.5h0M300.0 197.5h0M299.5 198.0h0M300.0 201.0h0M300.0 201.5h0M300.0 204.5h0M299.5 205.0h0M300.0 207.0h0M300.0 208.5h0M300.0 209.5h0M299.5 210.5h0M300.0 211.0h0M299.5 212.0h0M300.0 213.0h0M299.5 213.5h0M300.0 217.5h0M299.5 218.5h0M299.5 219.5h0M300.0 220.5h0M300.0 221.5h0M299.5 222.0h0M299.5 223.0h0M300.0 224.0h0M300.0 227.0h0M300.0 227.5h0M299.5 228.5h0M299.5 229.0h0M300.0 231.0h0M300.0 231.5h0M300.0 234.5h0M298.5 186.0h0M298.5 197.0h0M298.5 198.0h0M298.5 198.5h0M298.5 201.0h0M298.5 209.0h0M298.5 210.0h0M298.5 211.0h0M298.5 212.5h0M298.5 213.5h0M298.5 214.0h0M298.5 216.5h0M298.5 217.5h0M298.5 220.0h0M298.5 221.0h0M298.5 222.0h0M298.5 222.5h0M298.5 223.5h0M298.5 224.5h0M298.5 225.0h0M298.5 225.5h0M298.5 226.5h0M298.5 227.0h0M298.5 229.0h0M298.5 234.0h0M298.5 235.0h0M302.5 155.0h0M302.5 158.0h0M302.5 163.5h0M302.5 171.0h0M302.5 172.5h0M302.5 174.0h0M302.5 181.5h0M302.5 184.0h0M302.5 188.5h0M302.5 192.5h0M302.5 196.5h0M302.5 198.0h0M302.5 200.0h0M302.5 200.5h0M302.5 205.0h0M302.5 207.5h0M302.5 209.5h0M302.5 212.0h0M302.0 213.0h0M302.5 213.5h0M302.5 214.5h0M302.0 215.0h0M302.5 215.5h0M302.0 219.5h0M302.0 220.0h0M302.0 221.0h0M302.5 224.5h0M302.5 225.0h0M302.5 227.0h0M302.5 227.5h0M302.5 228.5h0M302.0 229.5h0M302.5 230.0h0M302.5 231.5h0M303.0 233.5h0M301.0 208.0h0M301.0 209.5h0M301.0 210.5h0M301.0 213.0h0M301.0 213.5h0M301.0 214.5h0M301.0 215.0h0M301.0 217.0h0M301.0 220.5h0M301.0 221.5h0M301.0 225.5h0M301.0 226.5h0M301.0 227.5h0M301.0 230.0h0M301.0 234.5h0M301.0 235.0h0M294.5 224.0h0M294.5 226.5h0M294.5 227.0h0M294.5 230.5h0M294.5 234.5h0M75.0 234.5h0M57.0 228.0h0M57.0 234.5h0M76.5 230.0h0M58.5 220.5h0M63.0 235.0h0M55.5 227.5h0M73.5 228.0h0M46.5 225.0h0M46.5 220.5h0M48.0 231.5h0M57.0 208.0h0M46.5 230.0h0M60.0 228.5h0M45.0 232.0h0M54.0 230.5h0M79.5 227.5h0M93.0 213.0h0M97.5 227.0h0M114.0 234.5h0M105.0 210.5h0M81.0 217.5h0M100.5 221.0h0M90.0 224.5h0M79.5 234.5h0M94.5 229.5h0M91.5 218.5h0M117.0 219.0h0M100.5 218.5h0M117.0 216.5h0M79.5 234.0h0M91.5 233.5h0M94.5 224.0h0M97.5 229.0h0M90.0 231.0h0M159.0 219.0h0M136.5 219.5h0M132.0 230.5h0M154.5 219.0h0M142.5 227.0h0M148.5 233.5h0M133.5 234.5h0M151.5 232.5h0M157.5 231.5h0M150.0 226.5h0M121.5 231.5h0M124.5 235.5h0M136.5 219.0h0M144.0 234.5h0M123.0 205.5h0M139.5 231.0h0M144.0 226.5h0M139.5 227.5h0M172.5 235.5h0M177.0 231.5h0M168.0 230.0h0M162.0 229.5h0M181.5 229.5h0M163.5 225.0h0M180.0 233.0h0M178.5 233.5h0M189.0 226.0h0M190.5 233.0h0M168.0 229.5h0M183.0 232.5h0M172.5 234.0h0M186.0 229.0h0M162.0 234.5h0M205.5 223.5h0M205.5 227.0h0M211.5 224.5h0M196.5 234.0h0M228.0 224.0h0M210.0 221.0h0M213.0 217.5h0M202.5 226.5h0M216.0 229.5h0M228.0 229.5h0M219.0 233.5h0M220.5 230.5h0M205.5 234.0h0M199.5 232.0h0M201.0 232.5h0M196.5 231.0h0M210.0 234.5h0M228.0 233.5h0M255.0 230.5h0M240.0 234.5h0M258.0 226.0h0M232.5 234.5h0M238.5 220.5h0M231.0 225.5h0M237.0 230.5h0M235.5 228.0h0M238.5 235.5h0M253.5 231.0h0M240.0 233.0h0M232.5 230.0h0M252.0 224.0h0M235.5 229.5h0M265.5 234.0h0M280.5 230.5h0M279.0 229.5h0M283.5 234.0h0M270.0 224.0h0M265.5 227.0h0M286.5 230.5h0M300.0 232.5h0M286.5 234.0h0M262.5 235.5h0M271.5 211.5h0M268.5 225.0h0M264.0 219.5h0M277.5 226.0h0M298.5 235.5h0M292.5 231.0h0M282.0 233.0h0M298.5 215.5h0M276.0 230.0h0M301.5 225.5h0"/>
<path stroke="#223" stroke-width="1.70" d="M269.5 91.0h0"/>
<path stroke="#2b60ad" stroke-width="1.90" d="M265.0 65.0h0"/>
<path stroke="#2b60ad" stroke-width="2.00" d="M46.0 120.0h0M46.0 140.0h0M128.0 121.0h0M145.5 81.0h0M161.0 127.5h0M225.5 129.0h0"/>
<path stroke="#2b60ad" stroke-width="2.20" d="M46.0 161.0h0M46.0 182.5h0M296.5 127.5h0"/>
<path stroke="#2b60ad" stroke-width="2.40" d="M46.0 215.0h0"/>
<path stroke="#2b60ad" stroke-width="2.60" d="M46.0 178.5h0M46.0 205.0h0M46.0 224.0h0"/>
<path stroke="#2b60ad" stroke-width="3.00" d="M46.0 171.0h0"/>
<path stroke="#2b60ad" stroke-width="3.20" d="M46.0 81.5h0M46.0 192.0h0M269.5 127.5h0"/>
<path stroke="#2b60ad" stroke-width="4.00" d="M46.0 232.0h0"/>
<path stroke="#e2492f" stroke-width="1.70" d="M78.5 221.0h0M78.5 221.5h0M78.5 226.0h0M79.0 228.0h0M79.0 228.5h0M80.5 224.0h0M80.5 227.5h0M82.0 231.0h0M79.0 233.0h0M108.5 217.5h0M108.0 219.0h0M108.0 224.0h0M108.5 224.5h0M107.5 227.0h0M108.0 228.5h0M108.0 232.0h0M110.0 230.0h0M113.0 206.0h0M113.0 218.5h0M113.0 219.5h0M113.0 222.0h0M113.0 224.0h0M113.0 227.0h0M113.0 229.0h0M114.0 218.5h0M114.0 221.0h0M111.5 229.0h0M114.5 232.0h0M133.5 232.0h0M139.5 231.0h0M150.0 224.0h0M150.0 226.0h0M150.0 229.5h0M149.5 221.0h0M157.0 204.5h0M157.5 206.0h0M158.0 209.0h0M157.5 210.0h0M157.5 226.0h0M157.5 228.0h0M158.0 229.5h0M157.5 230.0h0M158.0 232.5h0M157.5 234.5h0M158.5 210.5h0M158.5 212.5h0M158.5 213.5h0M158.5 214.5h0M158.5 219.5h0M158.5 220.5h0M158.5 222.0h0M158.5 225.5h0M158.5 230.0h0M158.5 231.5h0M215.0 213.0h0M215.0 213.5h0M215.0 214.5h0M215.0 218.0h0M215.0 220.0h0M215.0 220.5h0M215.0 222.0h0M215.0 222.5h0M215.0 227.0h0M215.0 228.0h0M215.0 229.0h0M215.0 229.5h0M215.0 230.5h0M215.0 234.0h0M220.5 196.5h0M220.5 205.5h0M220.5 207.5h0M220.5 209.0h0M220.5 216.5h0M220.5 224.0h0M220.5 228.5h0M220.5 232.0h0M220.5 195.5h0M223.5 225.5h0M237.5 194.5h0M237.5 197.0h0M237.5 201.0h0M237.5 206.0h0M237.5 210.0h0M237.5 214.0h0M237.5 217.5h0M237.5 221.0h0M237.5 224.0h0M237.5 228.0h0M237.5 231.5h0M237.5 234.0h0M243.0 209.5h0M243.0 217.0h0M243.0 222.5h0M243.0 228.5h0M243.0 233.0h0M246.0 232.5h0M248.0 220.5h0M251.5 231.5h0M302.0 234.0h0M100.5 228.5h0M109.5 235.5h0M130.5 217.0h0M150.0 233.0h0M186.0 232.0h0"/>
<path stroke="#e2492f" stroke-width="1.80" d="M166.0 234.0h0"/>
</g>
<g clip-path="url(#cb)" fill="none" stroke-linecap="round">
<path stroke="#2b60ad" stroke-width="1.70" d="M352.0 214.5h0M352.0 201.5h0M352.0 223.5h0M351.5 204.5h0M352.0 183.5h0M352.0 203.0h0M351.5 235.0h0M351.5 234.0h0M352.0 234.0h0M352.0 235.0h0M352.0 194.0h0M351.5 186.5h0M351.5 200.0h0M351.5 219.0h0M352.0 186.5h0M352.0 203.0h0M351.5 232.5h0M351.5 204.5h0M351.5 192.5h0M351.5 182.0h0M351.5 188.0h0M351.5 210.0h0M352.0 191.0h0M357.0 186.5h0M356.0 180.5h0M356.0 194.0h0M356.5 186.5h0M357.0 220.5h0M356.0 223.5h0M356.5 220.5h0M356.5 219.0h0M357.0 214.5h0M356.0 214.5h0M356.5 207.0h0M357.0 220.5h0M356.5 235.0h0M357.0 222.0h0M361.0 219.0h0M360.5 228.0h0M360.5 186.5h0M361.0 186.5h0M361.0 217.5h0M361.0 188.0h0M360.5 231.0h0M361.0 229.5h0M361.0 186.5h0M360.5 186.5h0M361.0 185.0h0M361.0 195.5h0M361.0 219.0h0M361.0 183.5h0M361.0 226.5h0M360.5 186.5h0M360.5 226.5h0M361.0 226.5h0M361.0 203.0h0M360.5 216.0h0M360.5 182.0h0M360.5 194.0h0M361.0 211.5h0M361.0 232.5h0M360.5 226.5h0M360.5 214.5h0M360.5 225.0h0M361.0 207.0h0M361.0 194.0h0M361.0 234.0h0M360.5 220.5h0M361.0 214.5h0M361.0 222.0h0M360.5 191.0h0M364.5 223.5h0M364.0 223.5h0M364.0 208.5h0M364.5 182.0h0M363.5 189.5h0M364.0 231.0h0M364.5 234.0h0M364.5 220.5h0M364.0 234.0h0M364.0 205.5h0M369.0 200.0h0M369.0 234.0h0M369.0 201.5h0M370.0 217.5h0M369.5 189.5h0M370.0 204.5h0M369.5 185.0h0M369.5 222.0h0M369.5 219.0h0M369.5 220.5h0M370.0 232.5h0M369.5 204.5h0M369.5 192.5h0M369.0 223.5h0M371.5 234.0h0M371.5 194.0h0M372.0 219.0h0M372.0 214.5h0M372.0 198.5h0M371.5 205.5h0M372.0 191.0h0M372.5 234.0h0M374.5 186.5h0M374.5 234.0h0M374.5 186.5h0M375.0 226.5h0M374.5 217.5h0M374.5 226.5h0M374.5 220.5h0M375.0 203.0h0M375.0 198.5h0M374.0 225.0h0M375.0 234.0h0M374.0 211.5h0M375.0 210.0h0M374.5 211.5h0M374.5 194.0h0M375.0 195.5h0M375.0 182.0h0M374.5 234.0h0M374.5 228.0h0M375.0 225.0h0M374.0 186.5h0M375.0 205.5h0M374.5 231.0h0M374.5 177.5h0M374.0 188.0h0M374.0 223.5h0M374.5 217.5h0M374.5 186.5h0M376.0 201.5h0M376.0 186.5h0M375.5 189.5h0M375.5 226.5h0M376.5 222.0h0M376.0 198.5h0M376.0 207.0h0M376.0 192.5h0M375.5 223.5h0M376.0 223.5h0M376.0 231.0h0M376.5 204.5h0M375.5 207.0h0M376.0 234.0h0M375.5 234.0h0M376.0 183.5h0M375.5 205.5h0M375.5 197.0h0M376.0 180.5h0M375.5 186.5h0M376.0 217.5h0M378.0 183.5h0M378.5 223.5h0M378.0 205.5h0M379.0 197.0h0M378.5 185.0h0M378.5 213.0h0M379.0 222.0h0M378.5 220.5h0M378.0 234.0h0M378.5 235.0h0M378.5 179.0h0M378.5 204.5h0M378.0 205.5h0M378.5 198.5h0M378.0 198.5h0M378.5 198.5h0M379.0 180.5h0M378.0 219.0h0M378.5 235.0h0M379.0 235.0h0M381.0 225.0h0M380.0 229.5h0M380.5 205.5h0M380.5 192.5h0M380.5 186.5h0M380.5 186.5h0M381.0 228.0h0M380.5 223.5h0M380.5 232.5h0M381.0 234.0h0M381.0 186.5h0M380.5 189.5h0M380.0 186.5h0M380.5 211.5h0M381.0 191.0h0M380.5 235.0h0M380.5 188.0h0M380.0 195.5h0M381.0 228.0h0M380.5 228.0h0M386.5 180.5h0M386.0 176.0h0M386.0 219.0h0M386.0 186.5h0M386.5 201.5h0M386.0 214.5h0M386.0 186.5h0M386.0 191.0h0M386.0 213.0h0M385.5 228.0h0M386.0 222.0h0M386.0 200.0h0M386.0 211.5h0M386.0 207.0h0M385.5 195.5h0M386.0 217.5h0M388.0 229.5h0M388.0 185.0h0M387.5 197.0h0M388.0 214.5h0M387.5 186.5h0M387.5 192.5h0M388.5 197.0h0M388.5 229.5h0M388.0 234.0h0M388.0 201.5h0M388.5 195.5h0M388.0 214.5h0M388.0 235.0h0M388.0 234.0h0M388.0 222.0h0M387.5 198.5h0M387.5 234.0h0M388.0 191.0h0M390.5 198.5h0M390.5 200.0h0M390.0 185.0h0M390.5 217.5h0M390.5 231.0h0M390.0 186.5h0M390.0 200.0h0M394.0 213.0h0M393.5 229.5h0M393.5 186.5h0M393.0 229.5h0M393.5 214.5h0M394.0 231.0h0M393.5 228.0h0M393.5 223.5h0M394.0 223.5h0M393.5 217.5h0M393.5 203.0h0M393.0 188.0h0M394.0 229.5h0M393.5 229.5h0M394.0 207.0h0M395.5 208.5h0M395.0 188.0h0M395.0 232.5h0M395.0 226.5h0M395.0 219.0h0M395.0 200.0h0M395.5 229.5h0M395.5 210.0h0M395.0 235.0h0M394.5 211.5h0M395.0 186.5h0M395.0 186.5h0M398.0 200.0h0M398.0 222.0h0M397.5 203.0h0M397.0 234.0h0M398.0 220.5h0M397.5 213.0h0M397.0 207.0h0M397.5 228.0h0M398.0 200.0h0M397.5 222.0h0M397.5 188.0h0M398.0 197.0h0M398.0 219.0h0M397.5 235.0h0M397.5 191.0h0M397.5 234.0h0M398.0 203.0h0M401.0 222.0h0M401.5 214.5h0M401.5 234.0h0M401.0 226.5h0M401.0 235.0h0M401.5 211.5h0M401.0 205.5h0M401.0 189.5h0M406.0 192.5h0M405.5 195.5h0M405.5 234.0h0M406.0 232.5h0M406.0 211.5h0M405.5 216.0h0M406.0 173.0h0M405.0 234.0h0M405.0 198.5h0M405.0 180.5h0M406.0 220.5h0M405.0 207.0h0M405.5 219.0h0M406.0 234.0h0M405.5 214.5h0M408.0 222.0h0M407.5 213.0h0M407.0 205.5h0M407.5 203.0h0M409.0 186.5h0M409.5 186.5h0M410.0 225.0h0M409.5 225.0h0M409.0 186.5h0M410.0 222.0h0M409.5 223.5h0M409.5 194.0h0M409.5 204.5h0M409.5 189.5h0M409.5 208.5h0M410.0 182.0h0M410.0 174.5h0M410.0 223.5h0M409.5 226.5h0M409.5 234.0h0M409.5 211.5h0M409.0 234.0h0M410.0 210.0h0M410.0 211.5h0M411.5 211.5h0M412.0 228.0h0M412.5 182.0h0M412.0 195.5h0M412.0 235.0h0M412.0 211.5h0M411.5 192.5h0M412.0 200.0h0M412.0 213.0h0M412.0 182.0h0M412.0 188.0h0M414.0 205.5h0M414.5 220.5h0M414.0 210.0h0M414.0 223.5h0M414.0 194.0h0M414.5 234.0h0M414.5 186.5h0M414.0 185.0h0M414.0 231.0h0M414.5 217.5h0M414.5 204.5h0M414.5 191.0h0M414.0 201.5h0M414.0 211.5h0M414.0 231.0h0M414.5 176.0h0M414.5 211.5h0M414.0 205.5h0M414.5 179.0h0M414.0 191.0h0M414.0 220.5h0M414.5 208.5h0M414.0 195.5h0M414.0 217.5h0M414.0 194.0h0M414.0 201.5h0M414.0 208.5h0M414.5 225.0h0M414.0 226.5h0M414.5 225.0h0M414.5 223.5h0M414.5 191.0h0M414.0 186.5h0M418.5 191.0h0M419.0 186.5h0M419.0 189.5h0M419.0 208.5h0M419.0 197.0h0M418.5 171.5h0M418.5 217.5h0M419.0 225.0h0M418.5 194.0h0M419.5 213.0h0M419.0 219.0h0M419.0 186.5h0M418.5 197.0h0M419.5 220.5h0M419.5 185.0h0M419.5 210.0h0M419.5 226.5h0M418.5 235.0h0M419.5 186.5h0M419.0 182.0h0M419.0 191.0h0M419.0 229.5h0M419.5 183.5h0M418.5 232.5h0M419.0 200.0h0M419.0 223.5h0M419.0 228.0h0M419.0 222.0h0M419.0 208.5h0M419.0 220.5h0M419.0 235.0h0M419.0 225.0h0M418.5 203.0h0M418.5 226.5h0M419.0 204.5h0M419.5 186.5h0M420.5 189.5h0M420.5 208.5h0M421.0 203.0h0M420.5 186.5h0M420.5 214.5h0M420.0 220.5h0M420.5 220.5h0M420.5 192.5h0M420.5 189.5h0M420.0 205.5h0M420.5 223.5h0M421.0 219.0h0M420.5 197.0h0M420.5 219.0h0M420.5 186.5h0M420.5 186.5h0M420.5 192.5h0M420.5 188.0h0M420.5 229.5h0M420.5 194.0h0M421.0 219.0h0M421.0 200.0h0M421.0 211.5h0M421.0 214.5h0M421.0 234.0h0M420.0 220.5h0M420.5 220.5h0M421.0 208.5h0M420.5 229.5h0M421.0 179.0h0M420.5 208.5h0M423.0 220.5h0M423.0 207.0h0M422.5 216.0h0M422.5 205.5h0M423.0 192.5h0M422.5 191.0h0M422.5 231.0h0M422.5 223.5h0M423.0 188.0h0M422.5 210.0h0M422.5 182.0h0M423.0 216.0h0M422.5 183.5h0M423.0 229.5h0M423.0 207.0h0M423.0 213.0h0M423.0 226.5h0M423.0 192.5h0M423.0 235.0h0M423.0 204.5h0M423.0 189.5h0M423.0 225.0h0M423.0 214.5h0M422.5 203.0h0M423.0 216.0h0M422.5 217.5h0M423.0 231.0h0M423.0 188.0h0M422.5 226.5h0M422.5 211.5h0M422.5 219.0h0M423.0 192.5h0M422.5 198.5h0M423.0 195.5h0M422.5 207.0h0M422.5 208.5h0M422.5 234.0h0M423.0 205.5h0M423.0 192.5h0M423.0 204.5h0M422.5 198.5h0M423.0 208.5h0M423.0 234.0h0M426.0 213.0h0M426.0 234.0h0M426.0 226.5h0M425.5 232.5h0M425.5 191.0h0M426.0 220.5h0M425.0 198.5h0M426.0 201.5h0M425.0 198.5h0M425.5 197.0h0M426.0 231.0h0M425.5 229.5h0M425.5 186.5h0M426.0 219.0h0M425.5 207.0h0M425.0 229.5h0M426.0 211.5h0M425.5 228.0h0M425.5 235.0h0M425.0 208.5h0M425.5 222.0h0M425.0 217.5h0M425.5 198.5h0M425.5 204.5h0M425.0 204.5h0M425.5 211.5h0M425.5 223.5h0M425.5 211.5h0M425.5 186.5h0M426.0 183.5h0M426.0 204.5h0M425.5 226.5h0M427.5 210.0h0M427.0 198.5h0M427.0 220.5h0M427.5 192.5h0M427.0 219.0h0M428.0 203.0h0M427.5 201.5h0M427.5 186.5h0M427.5 208.5h0M428.0 219.0h0M427.0 189.5h0M427.5 235.0h0M428.0 219.0h0M427.5 223.5h0M427.5 208.5h0M427.5 179.0h0M427.5 195.5h0M427.5 192.5h0M428.0 220.5h0M428.0 219.0h0M427.5 186.5h0M428.0 211.5h0M427.5 185.0h0M427.5 229.5h0M427.5 222.0h0M430.5 217.5h0M430.5 186.5h0M430.5 200.0h0M430.0 223.5h0M430.5 189.5h0M430.0 207.0h0M430.5 173.0h0M430.5 225.0h0M430.5 231.0h0M430.0 189.5h0M431.0 226.5h0M430.5 234.0h0M430.0 235.0h0M431.0 217.5h0M430.5 210.0h0M430.5 222.0h0M430.5 204.5h0M430.5 225.0h0M430.0 228.0h0M432.0 197.0h0M432.5 207.0h0M432.5 220.5h0M432.5 211.5h0M432.5 219.0h0M432.0 186.5h0M432.0 217.5h0M432.5 180.5h0M432.5 229.5h0M432.0 186.5h0M432.5 214.5h0M432.5 223.5h0M432.0 225.0h0M432.5 203.0h0M432.0 200.0h0M433.0 194.0h0M432.5 231.0h0M434.5 189.5h0M434.5 204.5h0M434.5 229.5h0M434.0 208.5h0M434.5 186.5h0M434.5 222.0h0M435.0 228.0h0M434.5 226.5h0M434.5 210.0h0M434.5 185.0h0M434.5 194.0h0M434.5 197.0h0M435.0 186.5h0M435.0 179.0h0M434.5 195.5h0M437.0 179.0h0M436.5 210.0h0M436.5 191.0h0M436.5 195.5h0M437.0 220.5h0M437.5 197.0h0M437.5 205.5h0M437.0 186.5h0M436.5 226.5h0M436.5 200.0h0M441.0 216.0h0M441.5 234.0h0M441.0 226.5h0M441.0 217.5h0M440.5 205.5h0M441.0 185.0h0M440.5 226.5h0M440.5 214.5h0M445.0 200.0h0M445.5 208.5h0M445.0 210.0h0M445.0 232.5h0M445.0 203.0h0M444.5 220.5h0M445.5 228.0h0M445.0 189.5h0M448.5 201.5h0M448.5 191.0h0M449.0 220.5h0M448.5 207.0h0M449.5 205.5h0M449.5 226.5h0M449.0 195.5h0M449.0 234.0h0M449.0 211.5h0M449.5 204.5h0M451.0 231.0h0M451.0 229.5h0M451.5 194.0h0M451.0 220.5h0M451.5 216.0h0M452.0 213.0h0M454.5 229.5h0M454.0 179.0h0M454.0 173.0h0M454.0 223.5h0M454.0 200.0h0M454.5 200.0h0M454.0 223.5h0M453.5 222.0h0M454.0 186.5h0M453.5 214.5h0M454.5 213.0h0M454.0 207.0h0M454.0 222.0h0M454.5 219.0h0M454.0 186.5h0M454.0 232.5h0M454.0 183.5h0M454.0 186.5h0M454.5 191.0h0M454.5 229.5h0M454.5 198.5h0M454.5 216.0h0M453.5 232.5h0M454.0 210.0h0M453.5 183.5h0M454.0 198.5h0M453.5 219.0h0M454.5 194.0h0M454.0 205.5h0M454.5 219.0h0M454.0 204.5h0M454.0 232.5h0M454.0 211.5h0M454.0 214.5h0M453.5 197.0h0M453.5 216.0h0M456.0 186.5h0M456.5 225.0h0M456.5 203.0h0M456.5 231.0h0M457.0 228.0h0M456.5 214.5h0M456.5 219.0h0M456.0 197.0h0M456.5 235.0h0M456.5 205.5h0M456.5 231.0h0M456.5 228.0h0M461.5 213.0h0M462.0 208.5h0M462.5 186.5h0M461.5 226.5h0M462.5 185.0h0M461.5 204.5h0M461.5 222.0h0M461.5 200.0h0M462.0 188.0h0M462.5 210.0h0M462.5 225.0h0M462.5 188.0h0M462.0 228.0h0M461.5 195.5h0M462.0 229.5h0M462.0 205.5h0M462.0 232.5h0M462.0 219.0h0M461.5 226.5h0M461.5 186.5h0M461.5 219.0h0M461.5 222.0h0M464.5 214.5h0M465.5 226.5h0M465.5 231.0h0M465.0 207.0h0M464.5 226.5h0M465.5 229.5h0M465.0 223.5h0M464.5 183.5h0M465.5 186.5h0M465.0 186.5h0M465.5 188.0h0M465.0 219.0h0M465.5 194.0h0M465.5 186.5h0M465.5 226.5h0M465.0 219.0h0M465.0 213.0h0M465.0 200.0h0M465.0 195.5h0M465.5 231.0h0M464.5 222.0h0M465.0 205.5h0M465.0 192.5h0M464.5 189.5h0M465.5 214.5h0M465.0 211.5h0M465.0 211.5h0M465.5 191.0h0M465.0 216.0h0M464.5 186.5h0M465.0 186.5h0M468.0 217.5h0M468.0 219.0h0M468.0 217.5h0M468.0 208.5h0M468.0 223.5h0M468.0 189.5h0M467.5 208.5h0M472.5 220.5h0M472.0 231.0h0M471.5 231.0h0M472.0 214.5h0M472.0 189.5h0M472.0 207.0h0M475.0 203.0h0M475.5 210.0h0M474.5 189.5h0M475.0 201.5h0M474.5 219.0h0M475.0 208.5h0M475.0 191.0h0M479.0 220.5h0M479.0 194.0h0M478.5 210.0h0M479.0 188.0h0M479.5 183.5h0M483.0 201.5h0M483.0 186.5h0M483.0 195.5h0M483.5 197.0h0M483.0 214.5h0M487.0 229.5h0M486.5 225.0h0M487.0 223.5h0M487.5 203.0h0M487.0 203.0h0M491.0 192.5h0M491.0 226.5h0M491.0 185.0h0M490.5 186.5h0M491.5 223.5h0M490.5 186.5h0M491.0 223.5h0M494.5 200.0h0M494.0 201.5h0M494.5 205.5h0M494.5 235.0h0M494.5 210.0h0M494.5 228.0h0M494.0 232.5h0M494.5 180.5h0M494.0 182.0h0M494.5 195.5h0M494.5 225.0h0M494.5 207.0h0M494.5 200.0h0M494.0 211.5h0M494.5 234.0h0M496.5 194.0h0M496.5 204.5h0M496.5 229.5h0M496.5 192.5h0M496.5 182.0h0M497.0 211.5h0M496.5 228.0h0M496.5 180.5h0M496.0 222.0h0M496.0 186.5h0M496.5 229.5h0M496.5 231.0h0M496.0 186.5h0M496.5 217.5h0M497.0 203.0h0M496.5 210.0h0M496.0 201.5h0M496.5 217.5h0M496.5 189.5h0M496.5 201.5h0M496.5 189.5h0M496.5 214.5h0M496.5 226.5h0M496.5 229.5h0M497.0 234.0h0M496.5 189.5h0M496.0 223.5h0M496.0 232.5h0M497.0 186.5h0M496.5 186.5h0M497.0 207.0h0M496.5 220.5h0M498.5 232.5h0M498.5 216.0h0M498.5 231.0h0M498.5 234.0h0M499.0 234.0h0M498.5 234.0h0M498.5 216.0h0M498.0 186.5h0M499.0 201.5h0M498.5 225.0h0M498.0 207.0h0M499.0 214.5h0M499.0 210.0h0M498.0 207.0h0M498.0 234.0h0M498.0 205.5h0M498.5 189.5h0M498.5 231.0h0M498.5 223.5h0M498.5 186.5h0M499.0 177.5h0M498.5 197.0h0M498.0 189.5h0M498.5 191.0h0M498.5 232.5h0M498.5 235.0h0M498.0 211.5h0M498.5 213.0h0M498.0 201.5h0M498.5 225.0h0M498.5 216.0h0M499.0 194.0h0M501.5 203.0h0M501.5 186.5h0M501.5 220.5h0M502.0 203.0h0M501.5 234.0h0M501.5 229.5h0M502.0 186.5h0M501.0 186.5h0M504.5 223.5h0M504.0 220.5h0M504.0 203.0h0M504.5 229.5h0M504.5 195.5h0M505.0 203.0h0M504.0 208.5h0M504.5 219.0h0M504.0 228.0h0M504.5 234.0h0M504.0 183.5h0M505.0 214.5h0M504.5 210.0h0M504.5 186.5h0M504.5 186.5h0M504.5 186.5h0M504.5 220.5h0M504.0 214.5h0M505.0 214.5h0M505.0 186.5h0M504.5 186.5h0M504.5 219.0h0M504.5 213.0h0M504.5 229.5h0M504.5 232.5h0M504.5 194.0h0M507.0 234.0h0M507.0 186.5h0M507.0 217.5h0M507.0 205.5h0M507.0 195.5h0M506.5 229.5h0M506.5 208.5h0M507.0 186.5h0M506.5 192.5h0M507.0 185.0h0M507.0 186.5h0M507.0 211.5h0M507.0 210.0h0M506.5 210.0h0M507.0 222.0h0M507.0 217.5h0M507.5 231.0h0M507.0 188.0h0M507.0 195.5h0M507.0 183.5h0M507.5 226.5h0M507.5 210.0h0M507.0 186.5h0M507.0 223.5h0M507.5 214.5h0M510.5 189.5h0M510.0 207.0h0M510.5 177.5h0M510.0 185.0h0M510.5 186.5h0M510.0 226.5h0M510.0 217.5h0M510.0 220.5h0M510.0 213.0h0M510.0 192.5h0M509.5 197.0h0M509.5 186.5h0M510.0 192.5h0M510.0 192.5h0M510.0 225.0h0M509.5 186.5h0M510.0 203.0h0M510.5 231.0h0M510.0 186.5h0M509.5 186.5h0M510.0 222.0h0M510.5 189.5h0M509.5 195.5h0M510.0 197.0h0M509.5 186.5h0M510.5 186.5h0M510.0 180.5h0M512.5 200.0h0M512.5 223.5h0M511.5 234.0h0M512.0 229.5h0M512.0 188.0h0M512.0 205.5h0M511.5 229.5h0M512.5 191.0h0M512.5 217.5h0M512.0 211.5h0M512.0 182.0h0M511.5 186.5h0M512.0 216.0h0M512.0 174.5h0M511.5 194.0h0M512.0 210.0h0M512.0 198.5h0M512.0 226.5h0M512.0 217.5h0M511.5 210.0h0M512.0 229.5h0M511.5 211.5h0M512.5 188.0h0M511.5 195.5h0M512.0 211.5h0M512.0 194.0h0M512.0 182.0h0M511.5 195.5h0M512.0 235.0h0M512.5 186.5h0M512.0 186.5h0M513.5 213.0h0M513.5 186.5h0M513.5 197.0h0M514.0 194.0h0M514.0 222.0h0M513.5 219.0h0M513.5 231.0h0M513.5 186.5h0M514.0 192.5h0M514.0 192.5h0M514.0 192.5h0M513.5 186.5h0M513.5 220.5h0M514.0 214.5h0M514.0 203.0h0M514.0 186.5h0M513.5 201.5h0M513.5 222.0h0M514.0 186.5h0M514.0 217.5h0M514.0 183.5h0M513.5 225.0h0M513.5 225.0h0M513.5 205.5h0M516.0 229.5h0M515.5 180.5h0M516.0 219.0h0M516.0 235.0h0M516.0 208.5h0M515.5 186.5h0M516.0 220.5h0M515.5 180.5h0M516.0 229.5h0M516.0 204.5h0M516.0 186.5h0M516.5 213.0h0M515.5 186.5h0M516.0 231.0h0M519.0 189.5h0M518.5 231.0h0M518.0 229.5h0M518.0 220.5h0M518.5 225.0h0M518.5 186.5h0M518.5 176.0h0M518.5 186.5h0M518.0 208.5h0M519.0 191.0h0M518.5 214.5h0M518.5 186.5h0M518.5 211.5h0M519.0 201.5h0M518.0 188.0h0M518.5 191.0h0M518.5 232.5h0M518.5 234.0h0M518.5 203.0h0M518.5 182.0h0M518.0 198.5h0M518.5 186.5h0M519.0 231.0h0M521.0 223.5h0M521.5 186.5h0M521.0 197.0h0M521.5 232.5h0M521.0 197.0h0M520.5 192.5h0M520.5 231.0h0M521.0 232.5h0M521.5 188.0h0M521.0 201.5h0M521.5 207.0h0M520.5 189.5h0M520.5 228.0h0M523.0 188.0h0M523.5 200.0h0M524.0 228.0h0M523.0 182.0h0M524.0 225.0h0M523.5 186.5h0M523.0 200.0h0M523.0 219.0h0M523.5 211.5h0M523.5 226.5h0M524.0 201.5h0M523.0 200.0h0M523.0 182.0h0M524.0 229.5h0M523.5 186.5h0M523.5 220.5h0M526.5 186.5h0M526.5 203.0h0M526.5 186.5h0M526.5 225.0h0M527.0 200.0h0M526.5 204.5h0M526.5 191.0h0M526.0 186.5h0M526.5 213.0h0M526.5 194.0h0M526.5 204.5h0M526.0 191.0h0M526.5 201.5h0M526.0 186.5h0M526.5 226.5h0M526.0 205.5h0M530.0 194.0h0M529.0 216.0h0M529.5 186.5h0M529.0 200.0h0M529.0 204.5h0M530.0 229.5h0M529.5 182.0h0M529.0 197.0h0M529.5 188.0h0M529.5 222.0h0M529.5 234.0h0M529.5 228.0h0M529.5 186.5h0M529.0 222.0h0M533.0 231.0h0M533.0 213.0h0M533.5 232.5h0M533.0 183.5h0M533.0 231.0h0M532.5 198.5h0M533.5 183.5h0M533.0 197.0h0M533.0 222.0h0M533.0 204.5h0M533.0 182.0h0M533.5 191.0h0M533.0 197.0h0M533.5 213.0h0M533.0 228.0h0M533.5 195.5h0M533.0 234.0h0M533.0 229.5h0M534.0 194.0h0M534.5 217.5h0M534.5 195.5h0M534.5 211.5h0M534.5 235.0h0M535.0 208.5h0M535.0 186.5h0M534.5 201.5h0M534.5 228.0h0M534.0 177.5h0M534.5 204.5h0M534.0 183.5h0M534.5 214.5h0M534.5 191.0h0M535.0 197.0h0M534.5 220.5h0M536.5 186.5h0M536.5 226.5h0M536.0 214.5h0M536.0 229.5h0M536.5 201.5h0M536.5 213.0h0M536.5 232.5h0M536.5 235.0h0M536.5 222.0h0M536.5 226.5h0M536.5 186.5h0M536.5 217.5h0M536.5 229.5h0M536.5 223.5h0M536.5 211.5h0M536.0 203.0h0M536.5 176.0h0M537.0 192.5h0M537.0 197.0h0M536.5 189.5h0M536.5 214.5h0M540.0 228.0h0M540.0 229.5h0M540.0 222.0h0M540.5 182.0h0M540.0 189.5h0M540.0 195.5h0M540.5 219.0h0M540.5 226.5h0M539.5 213.0h0M539.5 225.0h0M539.5 211.5h0M540.0 194.0h0M540.0 188.0h0M540.5 229.5h0M542.5 235.0h0M543.5 222.0h0M543.0 222.0h0M542.5 211.5h0M542.5 229.5h0M543.0 232.5h0M543.0 201.5h0M542.5 211.5h0M542.5 213.0h0M543.5 213.0h0M542.5 186.5h0M543.0 226.5h0M543.0 225.0h0M545.0 198.5h0M545.0 235.0h0M546.0 208.5h0M545.5 192.5h0M545.0 232.5h0M545.5 186.5h0M545.5 186.5h0M545.5 220.5h0M545.5 235.0h0M545.5 201.5h0M546.0 205.5h0M545.0 234.0h0M548.0 195.5h0M549.0 214.5h0M549.0 232.5h0M548.5 234.0h0M548.5 207.0h0M548.5 210.0h0M548.0 205.5h0M549.0 213.0h0M551.5 194.0h0M551.5 217.5h0M551.0 214.5h0M551.5 200.0h0M552.0 204.5h0M551.5 231.0h0M551.5 203.0h0M551.5 186.5h0M551.0 180.5h0M551.5 203.0h0M551.5 195.5h0M551.0 189.5h0M551.0 186.5h0M551.5 189.5h0M555.0 192.5h0M554.5 229.5h0M554.0 207.0h0M555.0 200.0h0M554.5 231.0h0M554.0 228.0h0M554.5 211.5h0M554.5 229.5h0M558.0 235.0h0M558.0 225.0h0M557.5 213.0h0M557.5 225.0h0M557.0 180.5h0M557.5 214.5h0M557.0 211.5h0M557.5 195.5h0M557.0 186.5h0M557.5 189.5h0M557.5 216.0h0M557.5 231.0h0M557.5 219.0h0M557.0 216.0h0M557.5 228.0h0M557.5 207.0h0M558.5 204.5h0M559.0 183.5h0M559.0 214.5h0M559.5 231.0h0M559.0 185.0h0M559.0 197.0h0M559.0 188.0h0M558.5 182.0h0M559.0 205.5h0M559.0 197.0h0M559.0 231.0h0M559.0 232.5h0M559.0 186.5h0M559.0 186.5h0M559.0 208.5h0M563.5 210.0h0M563.5 219.0h0M563.5 189.5h0M563.0 219.0h0M563.5 186.5h0M563.0 226.5h0M563.5 186.5h0M563.5 177.5h0M563.5 192.5h0M563.5 234.0h0M564.0 180.5h0M563.5 210.0h0M563.0 216.0h0M564.0 200.0h0M564.0 195.5h0M563.5 205.5h0M564.0 198.5h0M563.5 225.0h0M564.0 200.0h0M564.0 222.0h0M564.0 228.0h0M563.5 188.0h0M563.5 210.0h0M563.0 203.0h0M564.0 174.5h0M563.5 222.0h0M563.0 222.0h0M565.0 191.0h0M566.0 213.0h0M565.5 222.0h0M565.5 232.5h0M565.0 220.5h0M566.0 228.0h0M565.5 191.0h0M565.5 222.0h0M565.5 189.5h0M566.0 219.0h0M565.0 225.0h0M565.0 195.5h0M565.5 180.5h0M565.5 225.0h0M565.5 186.5h0M565.5 191.0h0M565.5 186.5h0M565.5 208.5h0M565.5 226.5h0M565.5 188.0h0M565.5 231.0h0M566.0 219.0h0M566.0 220.5h0M565.5 186.5h0M566.0 192.5h0M565.5 182.0h0M565.0 217.5h0M566.0 216.0h0M565.5 207.0h0M574.0 182.0h0M574.5 189.5h0M574.5 188.0h0M574.5 186.5h0M575.0 210.0h0M574.5 198.5h0M574.5 201.5h0M574.5 226.5h0M575.0 192.5h0M574.5 219.0h0M574.5 188.0h0M574.5 232.5h0M575.0 191.0h0M574.0 204.5h0M574.0 195.5h0M574.5 192.5h0M574.5 201.5h0M575.0 229.5h0M574.5 180.5h0M574.5 182.0h0M574.5 231.0h0M574.5 213.0h0M574.5 214.5h0M574.5 222.0h0M574.0 203.0h0M574.5 235.0h0M575.0 205.5h0M574.0 201.5h0M574.5 195.5h0M574.5 189.5h0M574.5 208.5h0M575.0 226.5h0M574.0 173.0h0M576.5 186.5h0M577.0 203.0h0M576.5 229.5h0M576.5 228.0h0M576.0 232.5h0M576.5 207.0h0M576.0 201.5h0M576.5 231.0h0M576.5 203.0h0M576.5 185.0h0M577.0 186.5h0M576.0 198.5h0M577.0 219.0h0M576.5 219.0h0M576.5 203.0h0M576.5 225.0h0M576.5 223.5h0M577.0 211.5h0M576.5 211.5h0M577.0 228.0h0M576.5 195.5h0M576.0 232.5h0M580.0 213.0h0M579.5 192.5h0M579.5 213.0h0M580.0 201.5h0M579.5 223.5h0M579.5 214.5h0M579.5 174.5h0M579.5 231.0h0M579.5 210.0h0M579.5 180.5h0M579.5 231.0h0M580.0 223.5h0M579.5 232.5h0M579.5 231.0h0M579.5 219.0h0M579.0 192.5h0M580.0 197.0h0M579.5 205.5h0M579.5 205.5h0M579.5 191.0h0M579.5 204.5h0M579.5 229.5h0M583.5 195.5h0M582.5 194.0h0M583.0 176.0h0M583.0 211.5h0M582.5 217.5h0M586.0 207.0h0M586.5 228.0h0M586.5 201.5h0M586.5 228.0h0M587.0 197.0h0M590.5 229.5h0M591.0 197.0h0M590.5 213.0h0M590.5 214.5h0M590.5 211.5h0M591.0 186.5h0M590.0 220.5h0M590.5 210.0h0M590.0 214.5h0M590.5 235.0h0M590.5 219.0h0M590.5 211.5h0M593.5 205.5h0M594.0 203.0h0M594.0 205.5h0M594.5 228.0h0M593.5 229.5h0M594.5 219.0h0M598.5 197.0h0M598.0 183.5h0M598.0 188.0h0M598.0 194.0h0M598.0 200.0h0M598.0 204.5h0M597.5 205.5h0M598.0 231.0h0M598.0 208.5h0M598.5 226.5h0M600.5 232.5h0M600.0 186.5h0M600.5 232.5h0M600.5 208.5h0M600.5 201.5h0M600.5 185.0h0M601.0 188.0h0M600.5 203.0h0M600.5 234.0h0M600.5 235.0h0M603.0 211.5h0M602.0 211.5h0M602.5 214.5h0M602.5 210.0h0M602.5 194.0h0M602.0 220.5h0M602.5 204.5h0M602.5 213.0h0M602.5 228.0h0M603.0 231.0h0M606.0 208.5h0M606.0 211.5h0M606.0 211.5h0M606.5 205.5h0M606.0 231.0h0M606.0 201.5h0M605.5 205.5h0M605.5 189.5h0M606.0 195.5h0M605.5 223.5h0M606.0 225.0h0M605.5 225.0h0M605.5 217.5h0M606.0 186.5h0M606.0 234.0h0M606.5 231.0h0M606.0 192.5h0M605.5 192.5h0M606.5 192.5h0M606.0 200.0h0M606.0 232.5h0M606.0 232.5h0M606.0 198.5h0M606.5 228.0h0M605.5 197.0h0M606.0 198.5h0M606.0 176.0h0M605.5 185.0h0M605.5 234.0h0M606.0 198.5h0M606.0 188.0h0M606.0 185.0h0M606.0 223.5h0M606.5 198.5h0M606.0 186.5h0M607.0 189.5h0M607.5 229.5h0M607.5 232.5h0M608.0 234.0h0M607.0 231.0h0M607.5 211.5h0M608.0 214.5h0M607.5 234.0h0M607.5 188.0h0M607.5 231.0h0M607.5 235.0h0M607.0 183.5h0M607.5 208.5h0M607.5 216.0h0M607.5 216.0h0M607.5 198.5h0M607.5 207.0h0M608.0 207.0h0M607.5 192.5h0M607.5 183.5h0M607.5 219.0h0M607.5 205.5h0M607.5 205.5h0M607.5 189.5h0M608.0 229.5h0M607.5 197.0h0M607.5 228.0h0M608.0 183.5h0M607.5 232.5h0M607.5 226.5h0M607.5 229.5h0M607.5 219.0h0M607.5 214.5h0M607.5 216.0h0M383.5 232.5h0M458.5 222.0h0M458.5 222.5h0M458.5 224.0h0M458.5 165.0h0M458.5 169.0h0M458.5 176.5h0M458.5 186.0h0M458.5 190.0h0M458.5 196.0h0M534.0 213.0h0M534.0 226.0h0M534.0 228.5h0M494.5 200.0h0M360.0 129.5h0M374.5 137.0h0M377.5 143.5h0M384.0 144.5h0M351.5 157.0h0M351.5 165.5h0M351.5 167.0h0M360.0 154.0h0M360.0 156.5h0M360.0 159.0h0M361.5 162.0h0M374.5 157.0h0M374.5 161.5h0M374.5 164.5h0M377.5 170.0h0M376.5 174.0h0M374.5 176.5h0M378.0 176.5h0M376.5 178.5h0M361.5 175.0h0M362.5 176.0h0M369.0 174.5h0M383.0 165.5h0M383.0 168.0h0M390.0 176.5h0M405.5 157.0h0M405.5 170.5h0M414.0 160.0h0M414.0 163.5h0M414.0 167.5h0M414.0 168.5h0M419.0 121.5h0M423.0 123.0h0M423.0 131.0h0M423.0 137.0h0M423.0 138.0h0M423.0 141.0h0M423.0 150.5h0M423.0 155.5h0M423.0 158.0h0M423.0 164.5h0M423.0 168.0h0M423.0 172.5h0M423.0 174.5h0M423.0 176.0h0M423.0 180.0h0M423.0 183.0h0M419.0 162.5h0M419.0 167.5h0M418.0 174.0h0M420.0 174.5h0M419.5 176.5h0M426.5 143.5h0M426.5 146.0h0M426.5 163.5h0M433.5 161.0h0M425.5 175.5h0M424.5 178.0h0M454.0 165.0h0M454.0 169.0h0M454.0 176.5h0M434.5 161.5h0M434.5 168.5h0M438.5 168.5h0M434.5 176.0h0M445.0 175.5h0M465.5 162.0h0M465.5 166.0h0M465.5 172.5h0M465.5 175.0h0M464.0 178.0h0M475.0 163.0h0M477.0 174.0h0M484.0 174.0h0M487.5 176.0h0M499.0 148.0h0M499.0 158.5h0M498.0 177.0h0M504.5 164.5h0M504.5 179.0h0M510.0 157.0h0M510.0 170.0h0M510.0 174.0h0M513.5 156.0h0M512.5 177.0h0M517.0 151.0h0M517.0 164.0h0M517.5 169.5h0M551.0 128.5h0M605.5 129.5h0M565.0 142.5h0M565.0 157.0h0M565.0 163.5h0M565.0 169.0h0M565.0 175.5h0M565.0 179.0h0M536.0 157.0h0M551.0 162.0h0M558.0 163.5h0M524.5 169.5h0M537.0 174.0h0M538.0 175.5h0M536.0 178.0h0M546.0 174.0h0M576.0 157.0h0M591.5 157.0h0M596.5 155.5h0M605.5 154.5h0M605.5 157.0h0M605.5 159.5h0M605.5 165.5h0M577.0 169.0h0M577.0 173.0h0M579.0 175.0h0M590.5 174.5h0M590.5 176.0h0M601.0 176.0h0M577.0 178.0h0M571.5 46.0h0M571.5 71.0h0M571.5 71.5h0M571.5 72.5h0M571.5 74.0h0M571.5 75.0h0M571.5 76.0h0M571.5 76.5h0M571.5 78.0h0M571.5 78.5h0M571.5 79.5h0M571.5 80.0h0M571.5 80.5h0M571.5 81.5h0M571.5 83.0h0M571.5 83.5h0M571.5 84.5h0M571.5 85.0h0M571.5 86.0h0M571.5 87.5h0M571.5 89.0h0M571.5 89.5h0M571.5 90.5h0M571.5 91.0h0M571.5 94.0h0M571.5 96.5h0M571.5 97.0h0M571.5 98.0h0M571.5 99.0h0M571.5 99.5h0M571.5 100.5h0M571.5 102.5h0M571.5 104.0h0M571.5 105.0h0M571.5 106.0h0M571.5 106.5h0M571.5 107.5h0M571.5 108.5h0M570.5 175.0h0M570.5 175.5h0M570.0 176.5h0M570.5 177.5h0M570.5 178.0h0M571.0 179.0h0M570.5 179.5h0M570.5 180.5h0M570.5 181.0h0M571.0 181.5h0M570.0 182.0h0M570.5 182.5h0M570.0 183.5h0M570.5 184.5h0M570.0 185.0h0M570.5 185.5h0M570.5 186.0h0M570.5 187.0h0M570.0 187.5h0M571.0 188.5h0M570.0 189.5h0M570.5 190.0h0M570.5 190.5h0M570.0 191.5h0M570.0 192.0h0M570.0 193.0h0M570.0 193.5h0M570.5 194.0h0M570.5 195.0h0M570.0 195.5h0M570.0 196.0h0M570.0 196.5h0M570.0 197.5h0M570.5 198.0h0M570.5 199.0h0M570.0 199.5h0M570.0 200.0h0M570.0 201.0h0M570.5 201.5h0M570.0 202.5h0M570.0 203.0h0M571.0 203.5h0M570.5 204.5h0M570.0 205.0h0M570.0 205.5h0M570.0 206.0h0M570.5 207.0h0M570.5 207.5h0M570.5 208.0h0M570.0 209.0h0M570.0 209.5h0M570.0 210.0h0M570.0 211.0h0M570.0 211.5h0M570.5 212.0h0M570.0 213.0h0M571.0 213.5h0M570.5 214.0h0M570.5 215.0h0M571.0 215.5h0M570.0 216.0h0M570.0 217.0h0M570.0 217.5h0M570.0 218.0h0M570.0 219.0h0M570.0 219.5h0M570.5 220.0h0M570.5 221.0h0M570.0 221.5h0M570.5 222.0h0M570.0 223.0h0M570.0 223.5h0M570.0 224.0h0M570.0 225.0h0M570.5 226.0h0M570.0 226.5h0M570.5 227.0h0M570.5 227.5h0M570.5 228.5h0M570.0 229.5h0M570.0 230.0h0M570.0 231.0h0M570.0 231.5h0M570.0 232.5h0M570.5 233.5h0M570.5 234.0h0M571.0 235.0h0M573.0 170.0h0M573.0 171.0h0M573.0 171.5h0M572.5 172.5h0M572.5 173.0h0M573.0 173.5h0M572.5 174.5h0M573.0 175.5h0M572.5 176.0h0M572.5 176.5h0M572.5 177.0h0M573.0 178.0h0M572.5 178.5h0M572.5 179.0h0M572.5 179.5h0M572.5 180.5h0M572.0 181.0h0M573.0 181.5h0M572.5 182.5h0M572.0 183.0h0M572.5 184.0h0M572.5 184.5h0M572.5 185.5h0M572.5 186.0h0M572.0 186.5h0M573.0 187.0h0M573.0 188.0h0M572.0 188.5h0M572.5 189.5h0M572.0 190.0h0M573.0 190.5h0M573.0 191.5h0M572.5 192.0h0M572.5 192.5h0M573.0 193.5h0M572.5 194.0h0M572.5 195.0h0M572.5 195.5h0M572.0 196.5h0M572.0 197.0h0M572.5 198.0h0M572.0 198.5h0M572.0 199.0h0M573.0 199.5h0M572.5 200.0h0M572.5 201.0h0M572.0 201.5h0M572.0 202.0h0M572.5 203.0h0M572.5 203.5h0M572.5 204.0h0M572.5 205.0h0M572.5 205.5h0M573.0 206.5h0M572.5 207.0h0M572.5 207.5h0M572.0 208.5h0M573.0 209.0h0M572.0 210.0h0M572.5 210.5h0M573.0 211.5h0M572.0 212.5h0M572.5 213.0h0M572.5 213.5h0M572.5 214.5h0M573.0 215.0h0M572.5 215.5h0M572.5 216.5h0M573.0 217.5h0M572.0 218.0h0M572.5 218.5h0M572.5 219.5h0M573.0 220.0h0M573.0 221.0h0M573.0 221.5h0M572.5 222.0h0M572.0 223.0h0M572.5 223.5h0M573.0 224.5h0M572.5 225.0h0M573.0 225.5h0M572.5 226.5h0M572.0 227.0h0M572.0 227.5h0M572.5 228.5h0M573.0 229.0h0M572.0 229.5h0M573.0 230.5h0M572.0 231.0h0M573.0 232.0h0M572.0 232.5h0M573.0 233.5h0M572.5 234.0h0M572.5 235.0h0M569.0 195.0h0M569.5 196.0h0M569.5 196.5h0M569.5 198.0h0M569.0 198.5h0M569.0 200.5h0M569.0 201.0h0M569.0 201.5h0M569.5 202.5h0M569.0 203.0h0M569.0 206.0h0M569.5 206.5h0M569.0 208.0h0M569.5 212.0h0M569.0 213.0h0M569.0 213.5h0M569.0 214.5h0M569.0 215.0h0M569.0 216.0h0M569.5 218.5h0M569.5 221.5h0M569.5 222.5h0M569.0 224.0h0M569.0 227.5h0M569.0 228.5h0M569.5 229.0h0M569.0 230.5h0M569.0 231.5h0M569.5 232.5h0M569.0 233.0h0M569.5 235.0h0M573.5 195.0h0M573.5 196.0h0M573.0 196.5h0M573.0 199.0h0M573.5 203.0h0M573.5 205.5h0M573.5 206.0h0M573.5 208.0h0M573.5 210.0h0M574.0 211.0h0M574.0 212.0h0M573.5 212.5h0M573.5 214.0h0M573.5 215.0h0M573.0 215.5h0M573.5 216.5h0M573.5 218.0h0M574.0 219.5h0M574.0 222.0h0M573.5 222.5h0M573.5 224.5h0M574.0 225.0h0M574.0 226.0h0M573.5 226.5h0M573.5 229.0h0M574.0 230.5h0M573.5 231.5h0M573.5 232.5h0M573.5 233.0h0M573.5 234.0h0M574.0 234.5h0M571.0 196.0h0M571.5 212.5h0M571.5 213.5h0M571.0 232.0h0M570.5 216.0h0M570.5 218.0h0M570.5 229.0h0"/>
<path stroke="#2b60ad" stroke-width="1.80" d="M571.5 110.0h0M571.5 111.0h0M571.5 111.5h0M571.5 112.5h0M571.5 113.0h0M571.5 113.5h0M571.5 114.5h0M571.5 115.5h0M571.5 116.0h0M571.5 117.0h0M571.5 117.5h0M571.5 118.0h0M571.5 119.0h0M571.5 119.5h0M571.5 120.0h0M571.5 121.0h0M571.5 121.5h0M571.5 122.0h0M571.5 123.0h0M571.5 123.5h0M571.5 124.0h0M571.5 124.5h0M571.5 125.5h0M571.5 126.5h0M571.5 127.0h0M571.5 127.5h0M571.5 128.0h0M571.5 129.0h0M571.5 129.5h0M571.5 130.5h0M571.5 131.5h0M571.5 132.0h0M571.5 132.5h0M571.5 133.5h0M571.5 134.0h0M571.5 134.5h0M571.5 135.0h0M571.5 136.0h0M571.5 136.5h0M571.5 137.5h0M571.5 138.0h0M571.5 138.5h0M571.5 139.5h0M571.5 140.0h0M571.5 140.5h0M571.5 141.0h0M571.5 142.0h0M571.5 142.5h0M571.5 143.0h0M571.5 143.5h0M571.5 144.0h0M571.5 145.0h0M571.5 145.5h0M571.5 146.5h0M571.5 147.0h0M571.5 147.5h0M571.5 148.5h0M571.5 149.0h0M571.5 150.0h0M571.5 150.0h0M571.0 151.0h0M571.0 151.5h0M571.5 152.5h0M571.5 153.0h0M571.5 154.0h0M571.0 154.5h0M571.0 155.0h0M571.5 156.0h0M571.0 156.5h0M571.5 157.0h0M571.0 157.5h0M571.5 158.5h0M571.5 159.5h0M571.0 160.0h0M571.0 160.5h0M571.5 161.5h0M571.0 162.0h0M571.0 162.5h0M571.0 163.5h0M571.5 164.0h0M571.5 165.0h0M571.0 165.5h0M571.0 166.0h0M571.0 167.0h0M571.5 167.5h0M571.5 168.5h0M571.5 169.0h0M571.0 169.5h0M571.5 170.5h0M571.5 171.0h0M571.0 172.0h0M571.5 172.5h0M571.5 173.5h0M571.5 174.0h0M571.0 174.5h0M571.0 175.5h0M571.5 176.0h0M571.5 177.0h0M571.5 177.5h0M571.5 178.5h0M571.5 179.0h0M571.5 180.0h0M571.5 180.5h0M571.0 181.0h0M571.0 182.0h0M571.5 182.5h0M571.0 183.5h0M571.5 184.0h0M571.0 184.5h0M571.0 185.5h0M571.5 186.5h0M571.5 187.0h0M571.5 187.5h0M571.5 188.0h0M571.0 189.0h0M571.5 189.5h0M571.5 190.0h0M571.5 191.0h0M571.5 191.5h0M571.5 192.5h0M571.0 193.5h0M571.5 194.0h0M571.0 194.5h0M571.0 195.5h0M571.0 196.0h0M571.0 196.5h0M571.0 197.5h0M571.5 198.0h0M571.5 199.0h0M571.0 199.5h0M571.5 200.0h0M571.0 201.0h0M571.5 201.5h0M571.5 202.0h0M571.5 202.5h0M571.5 203.5h0M571.0 204.0h0M571.5 204.5h0M571.5 205.0h0M571.0 206.0h0M571.5 206.5h0M571.0 207.0h0M571.0 208.0h0M571.5 208.5h0M571.5 209.0h0M571.0 210.0h0M571.5 211.0h0M571.5 211.5h0M571.0 212.0h0M571.0 213.0h0M571.0 213.5h0M571.0 214.5h0M571.0 215.0h0M571.0 216.0h0M571.0 216.5h0M571.5 217.5h0M571.0 218.5h0M571.0 219.0h0M571.0 219.5h0M571.0 220.5h0M571.0 221.0h0M571.0 222.0h0M571.5 222.5h0M571.0 223.0h0M571.5 223.5h0M571.5 224.0h0M571.0 224.5h0M571.0 225.5h0M571.0 226.0h0M571.0 227.0h0M571.5 228.0h0M571.5 228.5h0M571.0 229.0h0M571.5 229.5h0M571.5 230.5h0M571.0 231.0h0M571.5 231.5h0M571.0 232.5h0M571.0 233.0h0M571.0 234.0h0M571.5 234.5h0M571.5 235.0h0"/>
<path stroke="#2b60ad" stroke-width="1.90" d="M571.5 62.5h0M571.5 63.5h0M571.5 64.0h0M571.5 65.0h0M571.5 65.5h0M571.5 66.5h0M571.5 67.5h0M571.5 68.0h0M571.5 68.5h0M571.5 69.5h0"/>
<path stroke="#2b60ad" stroke-width="3.20" d="M571.5 180.5h0M571.5 220.0h0M571.5 228.0h0"/>
<path stroke="#2b60ad" stroke-width="3.40" d="M571.5 205.0h0"/>
<path stroke="#2b60ad" stroke-width="3.80" d="M571.5 198.0h0M571.5 212.0h0"/>
<path stroke="#2b60ad" stroke-width="4.00" d="M571.5 173.5h0"/>
<path stroke="#2b60ad" stroke-width="4.40" d="M571.5 191.5h0"/>
<path stroke="#2b60ad" stroke-width="5.20" d="M571.5 167.5h0"/>
<path stroke="#2b60ad" stroke-width="5.60" d="M571.5 162.0h0M571.5 186.0h0"/>
<path stroke="#e2492f" stroke-width="1.70" d="M356.5 222.0h0M357.0 220.5h0M357.0 204.5h0M361.0 203.0h0M361.0 234.0h0M361.0 203.0h0M364.5 216.0h0M364.0 226.5h0M364.0 234.0h0M370.0 208.5h0M369.0 205.5h0M369.5 195.5h0M374.5 219.0h0M374.5 210.0h0M375.5 217.5h0M378.5 200.0h0M378.0 207.0h0M378.0 217.5h0M378.5 217.5h0M378.5 229.5h0M379.0 219.0h0M378.5 229.5h0M378.5 217.5h0M379.0 223.5h0M378.5 185.0h0M380.0 214.5h0M380.0 186.5h0M381.0 213.0h0M380.5 213.0h0M380.5 229.5h0M380.5 220.5h0M380.5 197.0h0M385.5 223.5h0M386.0 234.0h0M386.0 185.0h0M386.0 234.0h0M388.5 210.0h0M388.0 183.5h0M391.0 229.5h0M393.5 211.5h0M394.0 204.5h0M393.5 207.0h0M393.5 217.5h0M393.5 183.5h0M394.5 208.5h0M395.5 225.0h0M395.0 186.5h0M395.0 232.5h0M395.0 192.5h0M397.5 186.5h0M397.5 197.0h0M397.5 234.0h0M397.0 207.0h0M397.5 201.5h0M397.5 222.0h0M401.0 220.5h0M401.0 204.5h0M406.0 234.0h0M405.5 207.0h0M407.5 208.5h0M407.5 214.5h0M408.0 234.0h0M412.0 226.5h0M414.5 214.5h0M414.0 232.5h0M414.0 210.0h0M419.0 208.5h0M420.5 208.5h0M420.5 235.0h0M420.0 225.0h0M422.5 222.0h0M426.0 204.5h0M426.0 223.5h0M427.5 228.0h0M427.0 213.0h0M427.0 186.5h0M427.5 220.5h0M427.5 217.5h0M431.0 192.5h0M430.5 198.5h0M430.0 186.5h0M430.5 188.0h0M433.0 210.0h0M432.5 183.5h0M432.5 232.5h0M434.5 216.0h0M434.5 232.5h0M434.5 214.5h0M434.5 216.0h0M434.5 186.5h0M434.0 203.0h0M435.0 204.5h0M434.5 217.5h0M437.5 229.5h0M436.5 222.0h0M437.0 225.0h0M437.0 226.5h0M437.0 186.5h0M437.0 229.5h0M437.5 195.5h0M441.0 226.5h0M441.0 194.0h0M444.5 210.0h0M445.5 191.0h0M449.0 235.0h0M449.0 234.0h0M449.0 195.5h0M454.0 226.5h0M456.0 226.5h0M456.5 200.0h0M456.0 186.5h0M456.5 220.5h0M457.0 186.5h0M462.0 217.5h0M465.0 186.5h0M465.5 231.0h0M465.0 214.5h0M468.0 231.0h0M475.0 188.0h0M478.5 229.5h0M483.0 194.0h0M487.0 188.0h0M487.0 222.0h0M486.5 232.5h0M491.0 192.5h0M491.5 201.5h0M491.0 229.5h0M494.0 228.0h0M494.5 220.5h0M495.0 185.0h0M494.5 217.5h0M494.0 234.0h0M494.0 231.0h0M495.0 201.5h0M495.0 203.0h0M494.5 219.0h0M494.5 197.0h0M494.5 198.5h0M494.0 197.0h0M497.0 194.0h0M496.5 204.5h0M498.0 214.5h0M498.5 229.5h0M498.5 208.5h0M498.0 208.5h0M499.0 201.5h0M501.5 217.5h0M501.5 210.0h0M504.5 210.0h0M504.5 195.5h0M504.5 186.5h0M504.5 213.0h0M507.0 208.5h0M507.5 186.5h0M510.0 214.5h0M510.0 186.5h0M509.5 219.0h0M510.0 189.5h0M510.0 219.0h0M510.5 232.5h0M510.5 201.5h0M512.0 186.5h0M512.0 186.5h0M511.5 219.0h0M514.0 214.5h0M513.5 198.5h0M513.5 203.0h0M514.0 225.0h0M513.5 198.5h0M514.0 220.5h0M516.0 204.5h0M516.0 235.0h0M518.0 213.0h0M518.5 219.0h0M518.0 223.5h0M518.0 217.5h0M523.5 195.5h0M527.0 210.0h0M529.5 235.0h0M529.5 216.0h0M529.5 186.5h0M533.0 208.5h0M532.5 235.0h0M533.0 186.5h0M532.5 203.0h0M532.5 194.0h0M532.5 234.0h0M533.0 207.0h0M532.5 186.5h0M533.5 225.0h0M534.5 231.0h0M534.5 203.0h0M534.5 222.0h0M534.0 226.5h0M534.5 213.0h0M534.0 231.0h0M534.0 231.0h0M537.0 228.0h0M536.5 210.0h0M536.5 205.5h0M536.5 228.0h0M536.5 200.0h0M536.5 203.0h0M540.5 222.0h0M540.0 189.5h0M540.5 229.5h0M543.0 234.0h0M543.0 222.0h0M543.5 234.0h0M542.5 198.5h0M545.5 185.0h0M551.0 189.5h0M551.5 198.5h0M557.5 186.5h0M557.0 197.0h0M558.0 213.0h0M558.0 201.5h0M557.0 211.5h0M558.0 188.0h0M557.0 194.0h0M559.0 228.0h0M559.0 223.5h0M559.0 205.5h0M559.5 223.5h0M559.0 197.0h0M563.0 216.0h0M563.5 234.0h0M563.5 225.0h0M565.5 200.0h0M574.5 188.0h0M576.5 192.5h0M576.5 229.5h0M576.5 203.0h0M576.0 222.0h0M576.5 208.5h0M579.5 222.0h0M583.5 192.5h0M583.0 188.0h0M583.5 198.5h0M586.5 201.5h0M587.0 210.0h0M586.5 186.5h0M590.5 186.5h0M593.5 189.5h0M593.5 232.5h0M598.0 198.5h0M598.5 232.5h0M598.5 217.5h0M597.5 210.0h0M597.5 214.5h0M597.5 216.0h0M598.0 222.0h0M600.5 226.5h0M600.5 188.0h0M600.5 185.0h0M601.0 195.5h0M600.0 195.5h0M600.5 219.0h0M600.5 197.0h0M603.0 234.0h0M602.5 219.0h0M602.5 228.0h0M606.0 229.5h0M606.0 222.0h0M383.0 224.0h0M383.5 224.5h0M383.5 225.5h0M383.0 226.0h0M383.5 227.0h0M384.0 229.5h0M383.5 231.5h0M383.5 233.0h0M384.0 234.0h0M383.5 234.5h0M416.5 198.0h0M416.5 199.0h0M416.5 199.5h0M416.5 200.0h0M416.5 200.5h0M416.5 201.5h0M416.5 202.0h0M416.5 202.5h0M416.5 203.5h0M416.5 204.0h0M416.5 205.0h0M416.5 205.5h0M416.5 206.5h0M416.5 207.0h0M416.5 208.0h0M416.5 208.5h0M416.5 209.5h0M416.5 210.0h0M416.5 211.0h0M416.5 211.5h0M416.5 212.5h0M416.5 213.0h0M416.5 213.5h0M416.5 214.0h0M416.5 215.0h0M416.5 215.5h0M416.5 216.5h0M416.5 217.0h0M416.5 217.5h0M416.5 218.5h0M416.5 219.5h0M416.5 220.0h0M416.5 221.0h0M416.5 221.5h0M416.5 222.0h0M416.5 222.5h0M416.5 223.5h0M416.5 224.5h0M416.5 225.0h0M416.5 225.5h0M416.5 226.5h0M416.5 227.0h0M416.5 227.5h0M416.5 228.5h0M416.5 229.0h0M416.5 229.5h0M416.5 230.5h0M416.5 231.0h0M416.5 231.5h0M416.5 232.5h0M416.5 233.0h0M416.5 233.5h0M416.5 234.0h0M416.5 235.0h0M416.5 151.0h0M416.5 162.0h0M416.5 168.0h0M416.5 177.5h0M416.5 179.5h0M416.5 184.0h0M416.5 188.0h0M416.5 192.0h0M416.5 195.0h0M458.5 220.0h0M458.5 220.5h0M458.5 221.0h0M458.5 223.5h0M458.5 225.0h0M458.5 225.5h0M458.5 226.0h0M458.5 226.5h0M458.5 227.5h0M458.5 228.0h0M458.5 229.0h0M458.5 230.0h0M458.5 230.5h0M458.5 231.0h0M458.5 231.5h0M458.5 232.5h0M458.5 233.5h0M458.5 234.0h0M458.5 234.5h0M458.5 235.0h0M458.5 156.5h0M458.5 172.0h0M458.5 178.0h0M458.5 201.5h0M458.5 205.0h0M458.5 209.0h0M458.5 213.0h0M458.5 216.0h0M561.5 215.5h0M561.5 216.5h0M561.5 217.0h0M561.5 218.0h0M561.5 218.5h0M561.5 219.0h0M561.5 219.5h0M561.5 220.0h0M561.5 221.0h0M561.5 221.5h0M561.5 222.5h0M561.5 223.0h0M561.5 224.0h0M561.5 224.5h0M561.5 225.0h0M561.5 226.0h0M561.5 226.5h0M561.5 227.5h0M561.5 228.5h0M561.5 229.0h0M561.5 229.5h0M561.5 230.0h0M561.5 230.5h0M561.5 231.5h0M561.5 232.0h0M561.5 232.5h0M561.5 233.5h0M561.5 234.0h0M561.5 234.5h0M561.5 201.0h0M561.5 206.0h0M561.5 210.0h0M534.0 200.0h0M534.0 201.0h0M534.0 202.0h0M534.0 205.5h0M534.0 206.0h0M534.0 207.0h0M534.0 208.0h0M534.0 208.5h0M534.0 209.5h0M534.0 211.0h0M534.0 212.0h0M534.0 213.5h0M534.0 215.5h0M534.0 224.0h0M534.0 224.5h0M534.0 226.5h0M534.0 229.0h0M534.0 233.0h0M534.0 234.0h0M534.0 235.0h0M494.5 201.5h0M494.5 202.5h0M494.5 203.0h0M494.5 205.0h0M494.5 207.5h0M494.5 208.0h0M494.5 209.0h0M494.5 212.5h0M494.5 213.5h0M494.5 214.0h0M494.5 222.5h0M494.5 223.0h0M494.5 224.5h0M494.5 228.0h0M494.5 230.0h0M494.5 233.5h0M494.5 235.5h0M406.5 162.0h0M499.0 173.5h0M499.0 175.5h0M533.5 170.5h0M539.5 177.5h0M583.5 153.5h0M583.5 155.0h0M583.5 174.5h0M436.0 171.0h0M444.0 178.0h0M395.0 176.0h0M571.5 162.5h0M571.0 170.0h0M571.0 173.5h0M570.5 181.0h0M571.5 186.0h0M571.0 192.0h0M571.0 193.0h0M571.5 193.5h0M570.5 194.0h0M571.5 195.0h0M571.5 196.5h0M570.5 197.5h0M571.0 198.0h0M571.0 198.5h0M571.0 199.0h0M571.5 199.5h0M571.5 200.0h0M571.5 201.0h0M570.5 201.5h0M571.0 202.5h0M570.5 203.0h0M571.5 203.5h0M571.0 204.5h0M571.0 205.0h0M571.5 205.5h0M571.0 206.0h0M571.0 207.0h0M571.0 208.0h0M571.0 208.5h0M571.5 209.0h0M571.0 209.5h0M571.0 210.0h0M571.5 211.0h0M571.0 211.5h0M571.5 213.0h0M571.0 214.0h0M571.0 214.5h0M571.5 215.5h0M571.5 216.0h0M571.0 217.0h0M571.0 218.0h0M571.5 218.5h0M571.5 219.0h0M571.5 220.0h0M571.5 220.5h0M571.5 221.0h0M571.5 222.0h0M571.0 222.5h0M570.5 223.0h0M571.0 224.0h0M571.5 224.5h0M571.0 225.0h0M571.5 226.0h0M571.0 226.5h0M571.0 227.0h0M571.0 228.0h0M571.5 228.5h0M571.0 229.0h0M571.5 230.0h0M571.5 230.5h0M571.0 231.0h0M571.5 232.5h0M571.0 233.0h0M571.0 233.5h0M571.0 234.5h0M571.0 235.0h0M570.5 205.0h0M570.5 207.0h0M570.5 208.0h0M570.5 208.5h0M571.0 209.5h0M570.5 210.5h0M570.5 211.0h0M571.0 212.0h0M570.5 212.5h0M570.5 213.0h0M571.0 214.0h0M570.5 215.5h0M571.0 217.5h0M570.5 220.0h0M570.5 220.5h0M570.5 222.5h0M570.5 223.0h0M570.5 225.5h0M570.5 226.5h0M571.0 227.0h0M571.0 229.5h0M570.5 231.5h0M570.5 232.0h0M571.0 233.0h0M571.0 233.5h0M570.5 234.5h0M570.5 235.0h0"/>
</g>
<path d="M41.6 19V235.5M347.6 18.3V235.5" stroke="#969696" stroke-width="1.3" fill="none"/>
<path d="M38 235.50H41.6M38 163.26H41.6M38 91.02H41.6M38 18.78H41.6M344 235.50H347.6M344 173.50H347.6M344 111.50H347.6M344 49.50H347.6" stroke="#666" stroke-width="0.9" fill="none"/>
<path d="M38 235.5H303.5M344 235.5H608.25" stroke="#969696" stroke-width="0.8" fill="none"/>
<path d="M42 156H303.5" stroke="#111" stroke-width="1.7" stroke-dasharray="6.3 2.47" fill="none"/>
<path d="M348.5 133.25H608.25" stroke="#111" stroke-width="1.7" stroke-dasharray="6.3 2.47" fill="none"/>
<text x="32.5" y="238.9" text-anchor="end" font-family="Liberation Sans, Arial, Helvetica, sans-serif" font-size="11.5" fill="#111" >6</text>
<text x="32.5" y="166.66" text-anchor="end" font-family="Liberation Sans, Arial, Helvetica, sans-serif" font-size="11.5" fill="#111" >9</text>
<text x="32.5" y="94.42000000000002" text-anchor="end" font-family="Liberation Sans, Arial, Helvetica, sans-serif" font-size="11.5" fill="#111" >12</text>
<text x="32.5" y="22.180000000000028" text-anchor="end" font-family="Liberation Sans, Arial, Helvetica, sans-serif" font-size="11.5" fill="#111" >15</text>
<text x="338.8" y="238.6" text-anchor="end" font-family="Liberation Sans, Arial, Helvetica, sans-serif" font-size="11.5" fill="#111" >6</text>
<text x="338.8" y="176.6" text-anchor="end" font-family="Liberation Sans, Arial, Helvetica, sans-serif" font-size="11.5" fill="#111" >8</text>
<text x="338.8" y="114.6" text-anchor="end" font-family="Liberation Sans, Arial, Helvetica, sans-serif" font-size="11.5" fill="#111" >10</text>
<text x="338.8" y="52.6" text-anchor="end" font-family="Liberation Sans, Arial, Helvetica, sans-serif" font-size="11.5" fill="#111" >12</text>
<text x="60.3" y="249.6" text-anchor="middle" font-family="Liberation Sans, Arial, Helvetica, sans-serif" font-size="11.5" fill="#111" >1</text>
<text x="98" y="249.6" text-anchor="middle" font-family="Liberation Sans, Arial, Helvetica, sans-serif" font-size="11.5" fill="#111" >2</text>
<text x="135.4" y="249.6" text-anchor="middle" font-family="Liberation Sans, Arial, Helvetica, sans-serif" font-size="11.5" fill="#111" >3</text>
<text x="172.8" y="249.6" text-anchor="middle" font-family="Liberation Sans, Arial, Helvetica, sans-serif" font-size="11.5" fill="#111" >4</text>
<text x="210.9" y="249.6" text-anchor="middle" font-family="Liberation Sans, Arial, Helvetica, sans-serif" font-size="11.5" fill="#111" >5</text>
<text x="247.4" y="249.6" text-anchor="middle" font-family="Liberation Sans, Arial, Helvetica, sans-serif" font-size="11.5" fill="#111" >6</text>
<text x="285.3" y="249.6" text-anchor="middle" font-family="Liberation Sans, Arial, Helvetica, sans-serif" font-size="11.5" fill="#111" >7</text>
<text x="366.8" y="249.6" text-anchor="middle" font-family="Liberation Sans, Arial, Helvetica, sans-serif" font-size="11.5" fill="#111" >1</text>
<text x="404.5" y="249.6" text-anchor="middle" font-family="Liberation Sans, Arial, Helvetica, sans-serif" font-size="11.5" fill="#111" >2</text>
<text x="445.5" y="249.6" text-anchor="middle" font-family="Liberation Sans, Arial, Helvetica, sans-serif" font-size="11.5" fill="#111" >3</text>
<text x="482.5" y="249.6" text-anchor="middle" font-family="Liberation Sans, Arial, Helvetica, sans-serif" font-size="11.5" fill="#111" >4</text>
<text x="518" y="249.6" text-anchor="middle" font-family="Liberation Sans, Arial, Helvetica, sans-serif" font-size="11.5" fill="#111" >5</text>
<text x="554.7" y="249.6" text-anchor="middle" font-family="Liberation Sans, Arial, Helvetica, sans-serif" font-size="11.5" fill="#111" >6</text>
<text x="591.2" y="249.6" text-anchor="middle" font-family="Liberation Sans, Arial, Helvetica, sans-serif" font-size="11.5" fill="#111" >7</text>
<text x="-0.7" y="9.9" font-family="Liberation Sans, Arial, sans-serif" font-size="13.6" font-weight="bold" fill="#000" stroke="#000" stroke-width="0.35">a</text>
<text x="326.3" y="9.9" font-family="Liberation Sans, Arial, sans-serif" font-size="13.6" font-weight="bold" fill="#000" stroke="#000" stroke-width="0.35">b</text>
<text transform="translate(9.3 128) rotate(-90)" text-anchor="middle" font-family="Liberation Sans, Arial, Helvetica, sans-serif" font-size="11.5" fill="#111">–log<tspan font-size="8.3" dy="2.9">10</tspan><tspan dy="-2.9" font-style="italic">P</tspan></text>
<text x="52.6" y="38.8" text-anchor="start" font-family="Liberation Sans, Arial, Helvetica, sans-serif" font-size="11.5" fill="#111" font-style="italic">SrTA1662</text>
<text x="545.5" y="50" text-anchor="start" font-family="Liberation Sans, Arial, Helvetica, sans-serif" font-size="11.5" fill="#111" font-style="italic">FT1</text>
<text x="31.6" y="354.5" text-anchor="start" font-family="Liberation Sans, Arial, Helvetica, sans-serif" font-size="11.5" fill="#111" font-style="italic">SrTA1662</text>
<text x="557.4" y="354.4" font-family="Liberation Sans, Arial, Helvetica, sans-serif" font-size="11.7" font-style="italic" fill="#111">FLOWERING LOCUS T1</text>
<text x="37.9" y="304.7" font-family="Liberation Sans, Arial, Helvetica, sans-serif" font-size="10.5" fill="#111" textLength="96" lengthAdjust="spacingAndGlyphs">1D: 11.45–11.50 Mb</text>
<text x="476.3" y="303.1" text-anchor="start" font-family="Liberation Sans, Arial, Helvetica, sans-serif" font-size="11.5" fill="#111" textLength="104.6" lengthAdjust="spacingAndGlyphs">7D: 64.26–69.72 Mb</text>
<text x="631" y="79.1" text-anchor="start" font-family="Liberation Sans, Arial, Helvetica, sans-serif" font-size="11.5" fill="#111" >0–10</text>
<circle cx="623.5" cy="76.2" r="0.7" fill="#111"/>
<text x="631" y="94.5" text-anchor="start" font-family="Liberation Sans, Arial, Helvetica, sans-serif" font-size="11.5" fill="#111" >11–20</text>
<circle cx="623.5" cy="91.6" r="1.1" fill="#111"/>
<text x="631" y="109.9" text-anchor="start" font-family="Liberation Sans, Arial, Helvetica, sans-serif" font-size="11.5" fill="#111" >21–30</text>
<circle cx="623.5" cy="107.0" r="1.4" fill="#111"/>
<text x="631" y="125.3" text-anchor="start" font-family="Liberation Sans, Arial, Helvetica, sans-serif" font-size="11.5" fill="#111" >31–40</text>
<circle cx="623.5" cy="122.4" r="1.65" fill="#111"/>
<text x="631" y="140.7" text-anchor="start" font-family="Liberation Sans, Arial, Helvetica, sans-serif" font-size="11.5" fill="#111" >41–50</text>
<circle cx="623.5" cy="137.8" r="1.85" fill="#111"/>
<text x="631" y="179" text-anchor="start" font-family="Liberation Sans, Arial, Helvetica, sans-serif" font-size="11.5" fill="#111" >&gt;200</text>
<circle cx="623.4" cy="175.6" r="3.45" fill="#111"/>
<path d="M638.4 147.2V153.5" stroke="#111" stroke-width="1" fill="none"/>
<path d="M61.7 41.1L51.1 51.0" stroke="#111" stroke-width="1.2" fill="none"/>
<path d="M46.9 54.9L49.8 47.8L51.1 51.0L54.2 52.5Z" fill="#111"/>
<path d="M638.4 155.2L638.4 162.9" stroke="#111" stroke-width="1.0" fill="none"/>
<path d="M638.4 167.5L635.3 161.9L638.4 162.9L641.5 161.9Z" fill="#111"/>
<path d="M554.3 52.5L564.6 62.3" stroke="#111" stroke-width="1.2" fill="none"/>
<path d="M568.8 66.3L561.5 63.8L564.6 62.3L565.9 59.2Z" fill="#111"/>
<path d="M46.2 315.8L46.2 337.1" stroke="#111" stroke-width="1.0" fill="none"/>
<path d="M46.2 342.0L43.1 336.0L46.2 337.1L49.3 336.0Z" fill="#111"/>
<path d="M622.6 315.0L622.6 337.1" stroke="#111" stroke-width="1.0" fill="none"/>
<path d="M622.6 342.0L619.5 336.0L622.6 337.1L625.7 336.0Z" fill="#111"/>
<path d="M45.5 235.5V258.3M571.5 235.5V258.6" stroke="#111" stroke-width="1" fill="none"/>
<path d="M45.5 258L33.5 310.5M45.5 258L164.5 310.5M571.5 255.5L359 309M571.5 255.5L650.8 309.5" stroke="#111" stroke-width="1.2" stroke-dasharray="0.85 0.8" fill="none"/>
<path d="M33.3 311.6H164.5M359 311.8H650.8" stroke="#111" stroke-width="1.15" fill="none"/>
<path d="M49.3 311.6L43.3 308.70000000000005L44.4 311.6L43.3 314.5Z" fill="#111"/>
<path d="M154.5 311.6L148.2 308.70000000000005L149.3 311.6L148.2 314.5Z" fill="#111"/>
<path d="M363.8 311.8L359.1 308.8L359.9 311.8L359.1 314.8Z" fill="#111"/>
<path d="M359.3 311.8L364.0 308.8L363.2 311.8L364.0 314.8Z" fill="#111"/>
<path d="M366.9 311.8L362.2 308.8L363.0 311.8L362.2 314.8Z" fill="#111"/>
<path d="M362.3 311.8L367.0 308.8L366.2 311.8L367.0 314.8Z" fill="#111"/>
<path d="M367.3 311.8L372.0 308.8L371.2 311.8L372.0 314.8Z" fill="#111"/>
<path d="M374.3 311.8L379.0 308.8L378.2 311.8L379.0 314.8Z" fill="#111"/>
<path d="M383.6 311.8L388.3 308.8L387.5 311.8L388.3 314.8Z" fill="#111"/>
<path d="M394.1 311.8L398.8 308.8L398.0 311.8L398.8 314.8Z" fill="#111"/>
<path d="M397.0 311.8L401.7 308.8L400.9 311.8L401.7 314.8Z" fill="#111"/>
<path d="M402.3 311.8L397.6 308.8L398.4 311.8L397.6 314.8Z" fill="#111"/>
<path d="M404.6 311.8L409.3 308.8L408.5 311.8L409.3 314.8Z" fill="#111"/>
<path d="M407.0 311.8L411.7 308.8L410.9 311.8L411.7 314.8Z" fill="#111"/>
<path d="M411.6 311.8L406.9 308.8L407.7 311.8L406.9 314.8Z" fill="#111"/>
<path d="M424.8 311.8L429.5 308.8L428.7 311.8L429.5 314.8Z" fill="#111"/>
<path d="M525.3 311.8L530.0 308.8L529.2 311.8L530.0 314.8Z" fill="#111"/>
<path d="M538.4 311.8L533.7 308.8L534.5 311.8L533.7 314.8Z" fill="#111"/>
<path d="M533.8 311.8L538.5 308.8L537.7 311.8L538.5 314.8Z" fill="#111"/>
<path d="M541.2 311.8L545.9 308.8L545.1 311.8L545.9 314.8Z" fill="#111"/>
<path d="M544.0 311.8L548.7 308.8L547.9 311.8L548.7 314.8Z" fill="#111"/>
<path d="M548.3 311.8L553.0 308.8L552.2 311.8L553.0 314.8Z" fill="#111"/>
<path d="M557.2 311.8L552.5 308.8L553.3 311.8L552.5 314.8Z" fill="#111"/>
<path d="M588.4 311.8L583.7 308.8L584.5 311.8L583.7 314.8Z" fill="#111"/>
<path d="M595.0 311.8L599.7 308.8L598.9 311.8L599.7 314.8Z" fill="#111"/>
<path d="M604.5 311.8L599.8 308.8L600.6 311.8L599.8 314.8Z" fill="#111"/>
<path d="M620.3 311.8L625.0 308.8L624.2 311.8L625.0 314.8Z" fill="#111"/>
<path d="M640.7 311.8L645.4 308.8L644.6 311.8L645.4 314.8Z" fill="#111"/>
<path d="M650.7 311.8L646.0 308.8L646.8 311.8L646.0 314.8Z" fill="#111"/>
</svg>
</body></html>
